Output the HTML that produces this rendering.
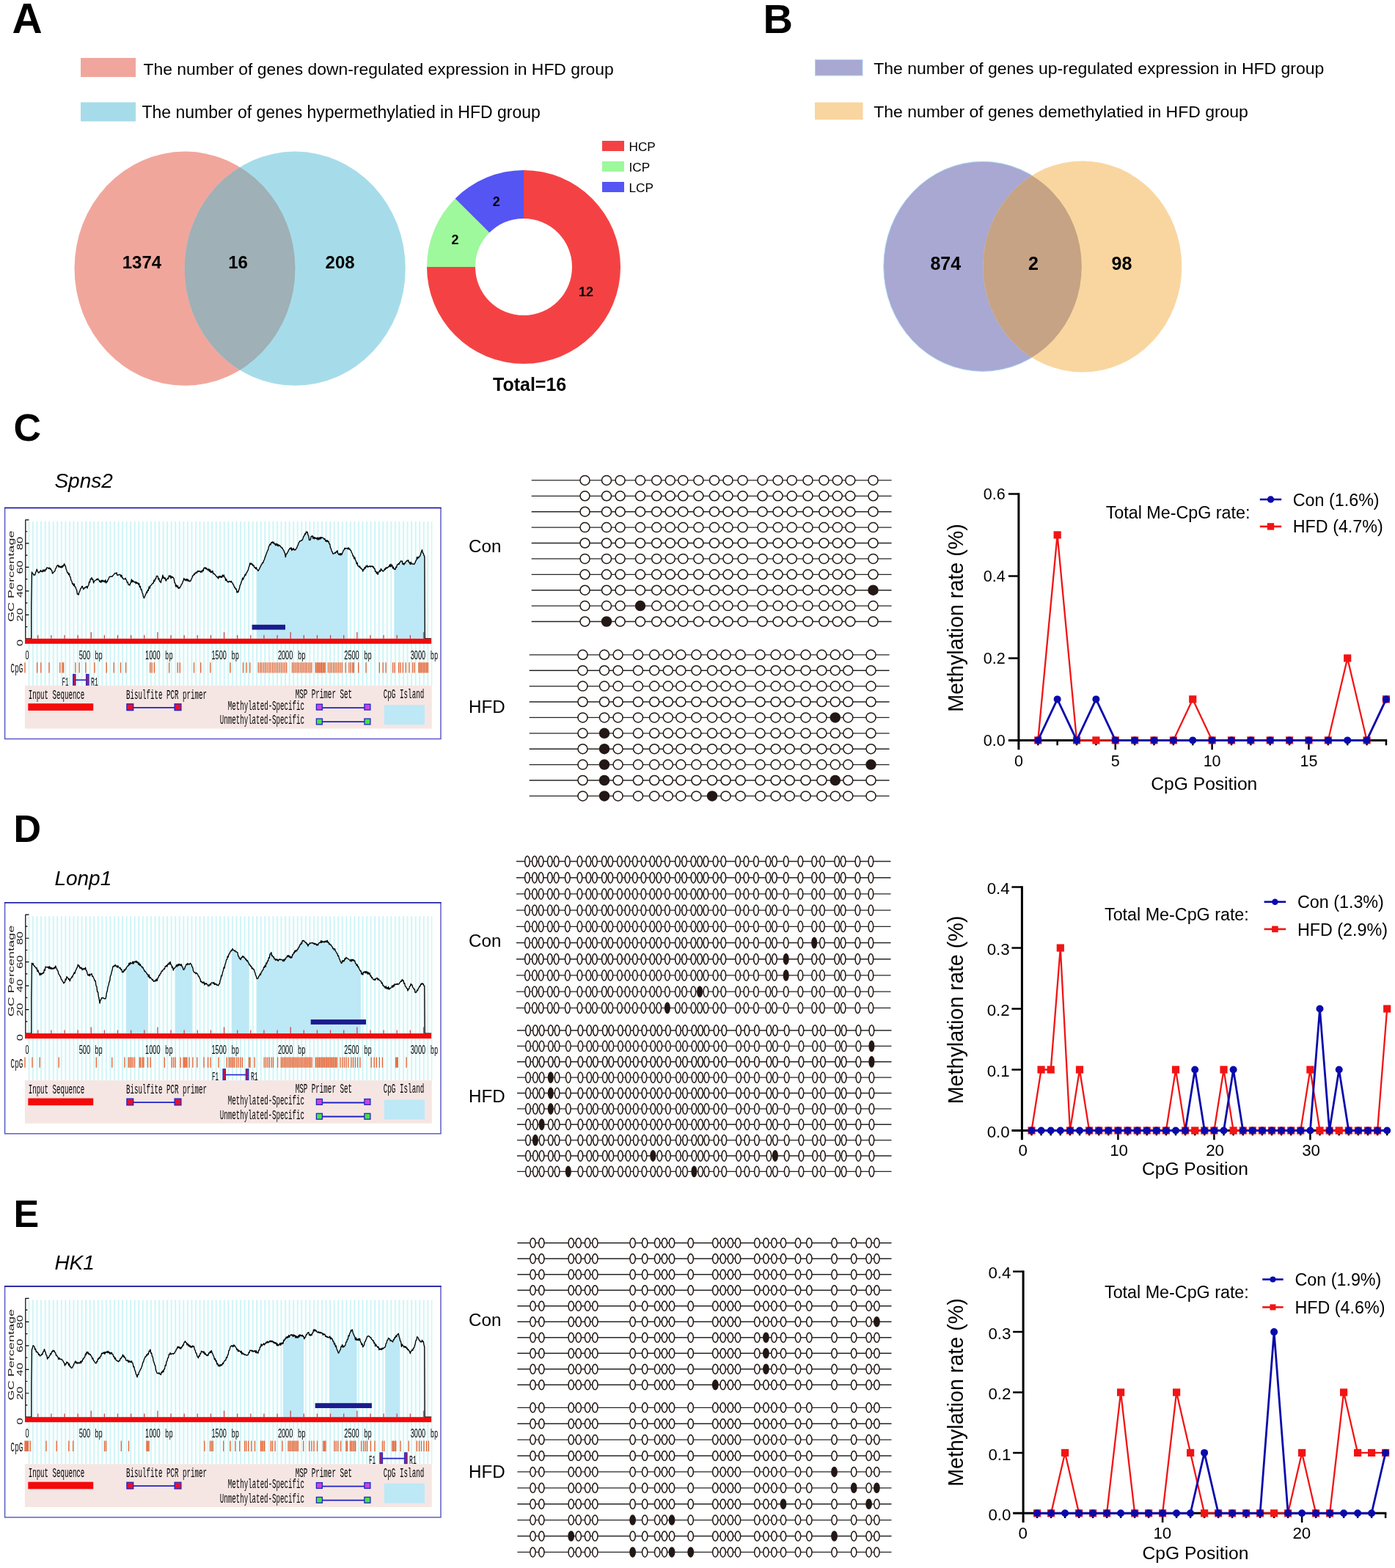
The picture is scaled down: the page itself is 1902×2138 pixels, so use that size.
<!DOCTYPE html>
<html><head><meta charset="utf-8"><title>Figure</title><style>html,body{margin:0;padding:0;background:#fff;}svg{display:block;}</style></head><body>
<svg width="1902" height="2138" viewBox="0 0 1902 2138" font-family="'Liberation Sans', Arial, sans-serif">
<rect width="1902" height="2138" fill="#fff"/>
<text x="16.6" y="44.8" font-size="57" font-weight="bold">A</text>
<rect x="110" y="79" width="75" height="26" fill="#F1A69D"/>
<rect x="110" y="139.5" width="75" height="26" fill="#A6DCE9"/>
<text x="195.5" y="101.6" font-size="22.9">The number of genes down-regulated expression in HFD group</text>
<text x="193.5" y="160.5" font-size="23">The number of genes hypermethylatied in HFD group</text>
<defs><clipPath id="clipAL"><ellipse cx="252" cy="366.2" rx="150.5" ry="159.6"/></clipPath><clipPath id="clipBL"><ellipse cx="1339.8" cy="363.3" rx="135" ry="143"/></clipPath></defs>
<ellipse cx="252" cy="366.2" rx="150.5" ry="159.6" fill="#F1A69C"/>
<ellipse cx="402.2" cy="366.2" rx="150.6" ry="159.6" fill="#A6DCE9"/>
<ellipse cx="402.2" cy="366.2" rx="150.6" ry="159.6" fill="#9FB0B6" clip-path="url(#clipAL)"/>
<text x="193.4" y="366.4" font-size="24" text-anchor="middle" font-weight="bold">1374</text>
<text x="324.6" y="366.4" font-size="24" text-anchor="middle" font-weight="bold">16</text>
<text x="463.6" y="366.4" font-size="24" text-anchor="middle" font-weight="bold">208</text>
<path d="M714,232 A132,132 0 1 1 582,364 L648,364 A66,66 0 1 0 714,298 Z" fill="#F44244"/>
<path d="M582,364 A132,132 0 0 1 620.66,270.66 L667.33,317.33 A66,66 0 0 0 648,364 Z" fill="#9EF89C"/>
<path d="M620.66,270.66 A132,132 0 0 1 714,232 L714,298 A66,66 0 0 0 667.33,317.33 Z" fill="#5555F4"/>
<text x="676.8" y="280.8" font-size="18" text-anchor="middle" font-weight="bold">2</text>
<text x="620.5" y="333.1" font-size="18" text-anchor="middle" font-weight="bold">2</text>
<text x="799" y="404.3" font-size="18" text-anchor="middle" font-weight="bold">12</text>
<rect x="821" y="192" width="30" height="14" fill="#F44244"/>
<rect x="821" y="220" width="30" height="14" fill="#9EF89C"/>
<rect x="821" y="248" width="30" height="14" fill="#5555F4"/>
<text x="857.5" y="205.8" font-size="17.2">HCP</text>
<text x="857.5" y="233.8" font-size="17.2">ICP</text>
<text x="857.5" y="261.8" font-size="17.2">LCP</text>
<text x="672" y="533.4" font-size="25" font-weight="bold">Total=16</text>
<text x="1040.6" y="44.6" font-size="56" font-weight="bold">B</text>
<rect x="1111.5" y="81.5" width="64.5" height="21.5" fill="#A8A8D2" stroke="#A9D3F0" stroke-width="1"/>
<rect x="1111" y="139.6" width="65.5" height="23.6" fill="#F9D59F"/>
<text x="1191.2" y="101.2" font-size="22.98">The number of genes up-regulated expression in HFD group</text>
<text x="1191.2" y="159.8" font-size="22.98">The number of genes demethylatied in HFD group</text>
<ellipse cx="1339.8" cy="363.3" rx="135" ry="143" fill="#A8A8D2" stroke="#A9D3F0" stroke-width="1"/>
<ellipse cx="1475.8" cy="363.4" rx="135.5" ry="144" fill="#F9D6A0"/>
<ellipse cx="1475.8" cy="363.4" rx="135.5" ry="144" fill="#C6A384" clip-path="url(#clipBL)"/>
<text x="1289.3" y="368.3" font-size="25" text-anchor="middle" font-weight="bold">874</text>
<text x="1408.9" y="368.3" font-size="25" text-anchor="middle" font-weight="bold">2</text>
<text x="1529.4" y="368.3" font-size="25" text-anchor="middle" font-weight="bold">98</text>
<defs><pattern id="stripes" x="38.4" y="0" width="5.55" height="10" patternUnits="userSpaceOnUse"><rect x="0" y="0" width="2.1" height="10" fill="#CFF5F7"/></pattern></defs>
<text x="18.5" y="601.2" font-size="52" font-weight="bold">C</text>
<text x="74.4" y="664.5" font-size="28" font-style="italic">Spns2</text>
<rect x="6.6" y="692.5" width="594.4" height="315" fill="#FFFFFF" stroke="#5252C6" stroke-width="1.4"/>
<path d="M6,692.5H601.6" stroke="#1E1EA2" stroke-width="1.6"/>
<rect x="38.4" y="711" width="551" height="224" fill="url(#stripes)"/>
<path d="M350.2,777.16 L351.2,778.04 L352.2,778.92 L353.2,777.48 L354.2,775.45 L355.2,773.43 L356.2,771.4 L357.2,769.73 L358.2,768.07 L359.2,766.4 L360.2,764 L361.2,761.29 L362.2,758.57 L363.2,755.86 L364.2,753.14 L365.2,750.43 L366.2,747.71 L367.2,745 L368.2,743.33 L369.2,741.67 L370.2,740 L371.2,740.06 L372.2,740.86 L373.2,741.66 L374.2,742.46 L375.2,743.26 L376.2,743.94 L377.2,744.14 L378.2,744.34 L379.2,744.54 L380.2,744.74 L381.2,744.94 L382.2,745.84 L383.2,747.04 L384.2,748.24 L385.2,749.44 L386.2,750.64 L387.2,752.3 L388.2,755.8 L389.2,759.3 L390.2,757.5 L391.2,755.7 L392.2,753.9 L393.2,752.1 L394.2,750.3 L395.2,748.9 L396.2,749.21 L397.2,749.51 L398.2,749.82 L399.2,750.13 L400.2,750.43 L401.2,750.74 L402.2,751.05 L403.2,750.3 L404.2,748.51 L405.2,746.72 L406.2,744.57 L407.2,742.19 L408.2,739.81 L409.2,738.87 L410.2,738.55 L411.2,738.23 L412.2,737.2 L413.2,734.53 L414.2,731.87 L415.2,730.3 L416.2,728.85 L417.2,727.39 L418.2,725.94 L419.2,728.07 L420.2,730.59 L421.2,733.86 L422.2,737.62 L423.2,735.83 L424.2,733.41 L425.2,732.52 L426.2,733.15 L427.2,733.78 L428.2,734.41 L429.2,735.04 L430.2,735.19 L431.2,735.3 L432.2,735.41 L433.2,735.51 L434.2,735.62 L435.2,735.62 L436.2,735.24 L437.2,734.86 L438.2,734.47 L439.2,734.09 L440.2,734.4 L441.2,735.4 L442.2,736.4 L443.2,737.4 L444.2,738.4 L445.2,738.63 L446.2,738.78 L447.2,738.94 L448.2,739.09 L449.2,742.33 L450.2,745.91 L451.2,749.5 L452.2,751.47 L453.2,753.44 L454.2,755.41 L455.2,755.97 L456.2,755.1 L457.2,754.23 L458.2,753.36 L459.2,752.49 L460.2,754.2 L461.2,756.2 L462.2,756.92 L463.2,756.79 L464.2,756.66 L465.2,756.53 L466.2,756.4 L467.2,754.11 L468.2,751.83 L469.2,749.54 L470.2,748.44 L471.2,748.52 L472.2,748.6 L473.2,748.67 L474.1,748.74 L474.1,870.8 L350.2,870.8 Z" fill="#BDE8F6"/>
<path d="M537.3,775.99 L538.3,777.09 L539.3,775.69 L540.3,774 L541.3,772.32 L542.3,770.64 L543.3,769.5 L544.3,768.5 L545.3,767.5 L546.3,766.5 L547.3,765.96 L548.3,767.28 L549.3,768.59 L550.3,769.91 L551.3,769.51 L552.3,768.38 L553.3,767.25 L554.3,766.12 L555.3,765.19 L556.3,766.08 L557.3,766.97 L558.3,767.86 L559.3,768.75 L560.3,769.31 L561.3,769.52 L562.3,769.73 L563.3,769.94 L564.3,770.15 L565.3,769.61 L566.3,767.29 L567.3,764.98 L568.3,762.66 L569.3,761.74 L570.3,761.17 L571.3,760.59 L572.3,760.01 L573.3,757.36 L574.3,754.19 L575.3,751.02 L576.3,753.07 L577.3,755.69 L578.3,758.32 L578.9,759.9 L578.9,870.8 L537.3,870.8 Z" fill="#BDE8F6"/>
<rect x="343.6" y="851.8" width="45.4" height="6.8" fill="#1B1B8E"/>
<path d="M51.73,866.1V870.8 M69.86,866.1V870.8 M87.99,866.1V870.8 M106.12,866.1V870.8 M124.25,862.1V870.8 M142.38,866.1V870.8 M160.51,866.1V870.8 M178.64,866.1V870.8 M196.77,866.1V870.8 M214.9,862.1V870.8 M233.03,866.1V870.8 M251.16,866.1V870.8 M269.29,866.1V870.8 M287.42,866.1V870.8 M305.55,862.1V870.8 M323.68,866.1V870.8 M341.81,866.1V870.8 M359.94,866.1V870.8 M378.07,866.1V870.8 M396.2,862.1V870.8 M414.33,866.1V870.8 M432.46,866.1V870.8 M450.59,866.1V870.8 M468.72,866.1V870.8 M486.85,862.1V870.8 M504.98,866.1V870.8 M523.11,866.1V870.8 M541.24,866.1V870.8 M559.37,866.1V870.8 M577.5,862.1V870.8" stroke="#C94848" stroke-width="1.3" fill="none"/>
<path d="M34.8,870.8 L42.7,870.8 L42.7,826 L43.4,780 L44.25,781.62 L45.1,782.25 L45.95,784.13 L46.8,783.74 L47.65,784.11 L48.5,780.76 L49.35,779.1 L50.2,776.23 L51.05,778.59 L51.9,780.13 L52.75,781.17 L53.6,780.02 L54.45,779.74 L55.3,777.58 L56.15,779.08 L57,778.68 L57.85,779.79 L58.7,776.85 L59.55,779.01 L60.4,777.07 L61.25,778.93 L62.1,776.22 L62.95,776.84 L63.8,773.95 L64.65,774.16 L65.5,774.45 L66.35,775.34 L67.2,774 L68.05,775.94 L68.9,775.07 L69.75,777.15 L70.6,777.58 L71.45,781.96 L72.3,780.97 L73.15,780.18 L74,779.11 L74.85,778.81 L75.7,775.4 L76.55,774.6 L77.4,771.63 L78.25,771.42 L79.1,770.57 L79.95,773.17 L80.8,771.43 L81.65,773.54 L82.5,772.43 L83.35,774.06 L84.2,771.66 L85.05,773.74 L85.9,770.93 L86.75,771.93 L87.6,768.66 L88.45,770.74 L89.3,771.81 L90.15,776.07 L91,777.82 L91.85,781.07 L92.7,780.64 L93.55,783.64 L94.4,782 L95.25,786.05 L96.1,787.01 L96.95,791.47 L97.8,792.35 L98.65,796.23 L99.5,795.58 L100.35,798.59 L101.2,796.06 L102.05,800.15 L102.9,800.12 L103.75,802.93 L104.6,804.79 L105.45,810.16 L106.3,809.67 L107.15,811.02 L108,807.1 L108.85,806.1 L109.7,802.84 L110.55,802.27 L111.4,799.95 L112.25,799.3 L113.1,801.92 L113.95,803.73 L114.8,801.36 L115.65,801.8 L116.5,800.46 L117.35,800.74 L118.2,799.47 L119.05,802 L119.9,799.14 L120.75,798.15 L121.6,793.27 L122.45,794.01 L123.3,789.33 L124.15,789.81 L125,787.56 L125.85,790.23 L126.7,789.84 L127.55,794.94 L128.4,792.38 L129.25,792.08 L130.1,791.14 L130.95,791.03 L131.8,789.56 L132.65,790.57 L133.5,788.83 L134.35,790.52 L135.2,791.39 L136.05,793.5 L136.9,791.93 L137.75,794.36 L138.6,791.08 L139.45,792.84 L140.3,791.13 L141.15,793.21 L142,792.07 L142.85,793.81 L143.7,790.72 L144.55,794.9 L145.4,792.99 L146.25,793.3 L147.1,790.7 L147.95,789.66 L148.8,786.98 L149.65,786.41 L150.5,786.07 L151.35,786.29 L152.2,785.97 L153.05,786.21 L153.9,784.83 L154.75,783.9 L155.6,782.82 L156.45,782.05 L157.3,781.41 L158.15,782.07 L159,780.86 L159.85,784.31 L160.7,784.09 L161.55,784.17 L162.4,783.22 L163.25,783.79 L164.1,783.68 L164.95,786.52 L165.8,784.18 L166.65,787.99 L167.5,787.88 L168.35,789.8 L169.2,789.63 L170.05,789.53 L170.9,788.29 L171.75,790.13 L172.6,791.42 L173.45,794.49 L174.3,793.87 L175.15,797.37 L176,797.37 L176.85,798.05 L177.7,795.43 L178.55,794.39 L179.4,789.88 L180.25,793.64 L181.1,791.36 L181.95,793.28 L182.8,793.06 L183.65,794.13 L184.5,793.12 L185.35,795.75 L186.2,793.62 L187.05,795.38 L187.9,794.79 L188.75,797.16 L189.6,795.45 L190.45,800.67 L191.3,799.35 L192.15,803.98 L193,803.7 L193.85,807.97 L194.7,809.8 L195.55,813.76 L196.4,815.57 L197.25,813.7 L198.1,811.5 L198.95,810.17 L199.8,806.86 L200.65,808.17 L201.5,804.23 L202.35,805.18 L203.2,799.93 L204.05,802.3 L204.9,798.84 L205.75,798.47 L206.6,797.02 L207.45,796.39 L208.3,795.02 L209.15,794.99 L210,790.86 L210.85,792.67 L211.7,789.03 L212.55,789.31 L213.4,785.39 L214.25,785.43 L215.1,785.71 L215.95,790.1 L216.8,788.57 L217.65,792.83 L218.5,792.45 L219.35,794.58 L220.2,790.1 L221.05,788.96 L221.9,784.21 L222.75,788.24 L223.6,786.98 L224.45,789.15 L225.3,787.96 L226.15,792.19 L227,790.41 L227.85,789.58 L228.7,788.31 L229.55,789.08 L230.4,784.85 L231.25,786.07 L232.1,784.77 L232.95,788.52 L233.8,785.82 L234.65,787.6 L235.5,786.68 L236.35,787.9 L237.2,789.22 L238.05,794.6 L238.9,795.1 L239.75,799.84 L240.6,797.7 L241.45,800.51 L242.3,798.75 L243.15,802.31 L244,801.05 L244.85,801.93 L245.7,800.37 L246.55,799.36 L247.4,796.65 L248.25,796.24 L249.1,793.41 L249.95,791.92 L250.8,788.51 L251.65,790.88 L252.5,790.05 L253.35,791.78 L254.2,789.38 L255.05,791.86 L255.9,789.77 L256.75,792.45 L257.6,791.17 L258.45,792.92 L259.3,792.37 L260.15,791.63 L261,789.36 L261.85,787.99 L262.7,785.03 L263.55,785.07 L264.4,782.75 L265.25,783.53 L266.1,780.95 L266.95,781.64 L267.8,780.01 L268.65,781.08 L269.5,778.35 L270.35,779.3 L271.2,778.36 L272.05,779.45 L272.9,778.91 L273.75,780.56 L274.6,778.48 L275.45,780.04 L276.3,777.09 L277.15,778.49 L278,774.48 L278.85,774.76 L279.7,773.65 L280.55,775.68 L281.4,774.37 L282.25,776.7 L283.1,775.88 L283.95,777.84 L284.8,775.77 L285.65,779.19 L286.5,776.81 L287.35,780.7 L288.2,779.04 L289.05,780.56 L289.9,778.32 L290.75,782.48 L291.6,781.83 L292.45,783.01 L293.3,783.33 L294.15,784.95 L295,785.66 L295.85,786.93 L296.7,786.79 L297.55,789.09 L298.4,785.66 L299.25,787.14 L300.1,785.47 L300.95,787.41 L301.8,785.89 L302.65,787.46 L303.5,783.9 L304.35,786.01 L305.2,783.94 L306.05,787.09 L306.9,787.39 L307.75,791.53 L308.6,789.53 L309.45,792.67 L310.3,792.87 L311.15,794.01 L312,792.71 L312.85,793.1 L313.7,792.4 L314.55,793.82 L315.4,792.41 L316.25,794.63 L317.1,794.82 L317.95,797 L318.8,798.21 L319.65,801.17 L320.5,801.04 L321.35,803.4 L322.2,803.01 L323.05,807.96 L323.9,806.23 L324.75,807.53 L325.6,804.47 L326.45,802.04 L327.3,797.92 L328.15,796.86 L329,793.77 L329.85,791.77 L330.7,788.21 L331.55,790.16 L332.4,787.14 L333.25,786.24 L334.1,783.09 L334.95,784.44 L335.8,781.13 L336.65,780.79 L337.5,778.47 L338.35,777.39 L339.2,773.45 L340.05,771.8 L340.9,767.7 L341.75,769.53 L342.6,767.86 L343.45,770.13 L344.3,769.27 L345.15,771.67 L346,770.81 L346.85,773.81 L347.7,773.57 L348.55,775.53 L349.4,773.68 L350.25,776.49 L351.1,776.86 L351.95,778.47 L352.8,777.06 L353.65,775.64 L354.5,773.71 L355.35,772.14 L356.2,770.22 L357.05,769.33 L357.9,767.23 L358.75,767.47 L359.6,764.32 L360.45,763.03 L361.3,759.86 L362.15,758.12 L363,755.4 L363.85,753.34 L364.7,750.78 L365.55,749.73 L366.4,745.35 L367.25,744.08 L368.1,741.85 L368.95,742.89 L369.8,739.6 L370.65,740.1 L371.5,738.73 L372.35,740.68 L373.2,739.14 L374.05,741.83 L374.9,741.3 L375.75,743.84 L376.6,741.07 L377.45,743.59 L378.3,741.84 L379.15,744.72 L380,742.69 L380.85,744.38 L381.7,743.83 L382.55,745.29 L383.4,746.19 L384.25,747.34 L385.1,747.04 L385.95,749.6 L386.8,750.23 L387.65,752.92 L388.5,754.31 L389.35,759.65 L390.2,755.4 L391.05,755.27 L391.9,753.2 L392.75,752.23 L393.6,749.76 L394.45,748.98 L395.3,747.34 L396.15,748.46 L397,746.57 L397.85,750.63 L398.7,748.16 L399.55,749.48 L400.4,747.6 L401.25,750.1 L402.1,749.59 L402.95,749.75 L403.8,747.76 L404.65,747.36 L405.5,744.47 L406.35,743.4 L407.2,740.48 L408.05,739.17 L408.9,737.7 L409.75,737.75 L410.6,736.92 L411.45,737.16 L412.3,735.93 L413.15,734 L414,731.18 L414.85,730.7 L415.7,727.8 L416.55,728.64 L417.4,725.04 L418.25,726.08 L419.1,725.17 L419.95,729.45 L420.8,730.98 L421.65,736.51 L422.5,736.4 L423.35,735.69 L424.2,731.38 L425.05,731.44 L425.9,730.43 L426.75,734.18 L427.6,732.03 L428.45,734.82 L429.3,732.64 L430.15,734.29 L431,733.52 L431.85,735.08 L432.7,732.93 L433.55,735.99 L434.4,733.13 L435.25,735.5 L436.1,732.59 L436.95,735.08 L437.8,732.47 L438.65,733.52 L439.5,732.97 L440.35,733.65 L441.2,733.97 L442.05,735.32 L442.9,734.57 L443.75,737.78 L444.6,736.55 L445.45,738.66 L446.3,736.68 L447.15,738.61 L448,738.05 L448.85,741.5 L449.7,741.83 L450.55,746.88 L451.4,748.11 L452.25,751.64 L453.1,752.21 L453.95,755.19 L454.8,755.06 L455.65,754.61 L456.5,753.56 L457.35,754.34 L458.2,752.17 L459.05,752.89 L459.9,750.67 L460.75,754.99 L461.6,755.53 L462.45,756.55 L463.3,754.65 L464.15,757.01 L465,754.59 L465.85,756.48 L466.7,754.21 L467.55,752.43 L468.4,750.12 L469.25,749.71 L470.1,747.1 L470.95,748.35 L471.8,747.56 L472.65,747.66 L473.5,747.42 L474.35,748.87 L475.2,746.68 L476.05,749.01 L476.9,748.43 L477.75,750.39 L478.6,750.67 L479.45,753.64 L480.3,754.62 L481.15,758.09 L482,757.92 L482.85,761.82 L483.7,759.93 L484.55,763.61 L485.4,764.85 L486.25,768.81 L487.1,767.29 L487.95,771.66 L488.8,771.87 L489.65,773.13 L490.5,771.88 L491.35,774.69 L492.2,774.4 L493.05,776.17 L493.9,776.09 L494.75,778.98 L495.6,776.07 L496.45,776.7 L497.3,773.53 L498.15,774.98 L499,771.59 L499.85,772.94 L500.7,770.96 L501.55,773.29 L502.4,772.54 L503.25,772.5 L504.1,771.75 L504.95,772.99 L505.8,772 L506.65,772.38 L507.5,771.82 L508.35,773.33 L509.2,772.62 L510.05,775.35 L510.9,775.24 L511.75,779.27 L512.6,778.84 L513.45,781.89 L514.3,780.1 L515.15,783.27 L516,780.17 L516.85,779.87 L517.7,777.85 L518.55,779.27 L519.4,775.3 L520.25,777.48 L521.1,777.34 L521.95,779.04 L522.8,778.63 L523.65,777.94 L524.5,775.58 L525.35,776.65 L526.2,773.76 L527.05,775.05 L527.9,773.76 L528.75,774.04 L529.6,772.6 L530.45,772.69 L531.3,769.83 L532.15,772.83 L533,769.16 L533.85,772.21 L534.7,770.4 L535.55,774.9 L536.4,773.19 L537.25,776.16 L538.1,775.85 L538.95,776.53 L539.8,773.24 L540.65,773.72 L541.5,769.95 L542.35,769.86 L543.2,768.58 L544.05,769.53 L544.9,766.81 L545.75,766.7 L546.6,764.8 L547.45,765.48 L548.3,765.01 L549.15,769.32 L550,768.25 L550.85,770.08 L551.7,767.73 L552.55,767.93 L553.4,765.64 L554.25,765.31 L555.1,764.08 L555.95,764.96 L556.8,763.8 L557.65,766.98 L558.5,766.83 L559.35,769.52 L560.2,766.3 L561.05,769.07 L561.9,768.54 L562.75,768.99 L563.6,768.95 L564.45,769.58 L565.3,768.55 L566.15,766.87 L567,764.41 L567.85,763.56 L568.7,759.41 L569.55,761.89 L570.4,759.58 L571.25,760.15 L572.1,758.37 L572.95,757.94 L573.8,754.38 L574.65,752.11 L575.5,749.67 L576.35,754.1 L577.2,754.34 L578.05,757.38 L578.9,758.9 L579.3,870.8 L588.1,870.8" stroke="#000" stroke-width="1.35" fill="none" stroke-linejoin="round"/>
<rect x="34" y="870.8" width="554.1" height="7" fill="#F00A0A"/>
<path d="M34.8,708.5V870.8 M34.8,708.9H39.5 M34.8,854.57h2.6 M34.8,838.34h4.6 M34.8,822.11h2.6 M34.8,805.88h4.6 M34.8,789.65h2.6 M34.8,773.42h4.6 M34.8,757.19h2.6 M34.8,740.96h4.6 M34.8,724.73h2.6" stroke="#000" stroke-width="1.2" fill="none"/>
<text transform="translate(31.4,881.05) rotate(-90)" font-size="10" fill="#1a1a1a" textLength="9.1" lengthAdjust="spacingAndGlyphs">0</text>
<text transform="translate(31.4,847.44) rotate(-90)" font-size="10" fill="#1a1a1a" textLength="18.2" lengthAdjust="spacingAndGlyphs">20</text>
<text transform="translate(31.4,814.98) rotate(-90)" font-size="10" fill="#1a1a1a" textLength="18.2" lengthAdjust="spacingAndGlyphs">40</text>
<text transform="translate(31.4,782.52) rotate(-90)" font-size="10" fill="#1a1a1a" textLength="18.2" lengthAdjust="spacingAndGlyphs">60</text>
<text transform="translate(31.4,750.06) rotate(-90)" font-size="10" fill="#1a1a1a" textLength="18.2" lengthAdjust="spacingAndGlyphs">80</text>
<text transform="translate(19.4,848) rotate(-90)" font-size="10.2" fill="#1a1a1a" textLength="124.5" lengthAdjust="spacingAndGlyphs">GC Percentage</text>
<text x="34.4" y="899" font-size="15.6" textLength="5" lengthAdjust="spacingAndGlyphs">0</text>
<text x="107.7" y="899" font-size="15.6" textLength="15.3" lengthAdjust="spacingAndGlyphs">500</text>
<text x="129.3" y="899" font-size="15.6" font-family="Liberation Mono, monospace" textLength="10.6" lengthAdjust="spacingAndGlyphs">bp</text>
<text x="198.1" y="899" font-size="15.6" textLength="20.4" lengthAdjust="spacingAndGlyphs">1000</text>
<text x="225.1" y="899" font-size="15.6" font-family="Liberation Mono, monospace" textLength="10.6" lengthAdjust="spacingAndGlyphs">bp</text>
<text x="288.5" y="899" font-size="15.6" textLength="20.4" lengthAdjust="spacingAndGlyphs">1500</text>
<text x="315.5" y="899" font-size="15.6" font-family="Liberation Mono, monospace" textLength="10.6" lengthAdjust="spacingAndGlyphs">bp</text>
<text x="378.9" y="899" font-size="15.6" textLength="20.4" lengthAdjust="spacingAndGlyphs">2000</text>
<text x="405.9" y="899" font-size="15.6" font-family="Liberation Mono, monospace" textLength="10.6" lengthAdjust="spacingAndGlyphs">bp</text>
<text x="469.3" y="899" font-size="15.6" textLength="20.4" lengthAdjust="spacingAndGlyphs">2500</text>
<text x="496.3" y="899" font-size="15.6" font-family="Liberation Mono, monospace" textLength="10.6" lengthAdjust="spacingAndGlyphs">bp</text>
<text x="559.7" y="899" font-size="15.6" textLength="20.4" lengthAdjust="spacingAndGlyphs">3000</text>
<text x="586.7" y="899" font-size="15.6" font-family="Liberation Mono, monospace" textLength="10.6" lengthAdjust="spacingAndGlyphs">bp</text>
<text x="14.6" y="917.3" font-size="18.4" font-family="Liberation Mono, monospace" textLength="16.6" lengthAdjust="spacingAndGlyphs">CpG</text>
<path d="M34,903.2V917.5 M50.7,903.2V917.5 M55.8,903.2V917.5 M67,903.2V917.5 M81.8,903.2V917.5 M85,903.2V917.5 M86.6,903.2V917.5 M102.9,903.2V917.5 M108.2,903.2V917.5 M116.9,903.2V917.5 M128.9,903.2V917.5 M145.2,903.2V917.5 M155.2,903.2V917.5 M164.5,903.2V917.5 M171.6,903.2V917.5 M204.7,903.2V917.5 M207.1,903.2V917.5 M210.3,903.2V917.5 M230.7,903.2V917.5 M242.2,903.2V917.5 M245.3,903.2V917.5 M264.5,903.2V917.5 M273.7,903.2V917.5 M286.8,903.2V917.5 M313.9,903.2V917.5 M314,903.2V917.5 M331.5,903.2V917.5 M336,903.2V917.5 M340.8,903.2V917.5 M352.3,903.2V917.5 M354.7,903.2V917.5 M357.1,903.2V917.5 M359.5,903.2V917.5 M361.9,903.2V917.5 M364.3,903.2V917.5 M366.7,903.2V917.5 M369.1,903.2V917.5 M371.5,903.2V917.5 M373.9,903.2V917.5 M376.3,903.2V917.5 M378.7,903.2V917.5 M381.1,903.2V917.5 M383.5,903.2V917.5 M385.9,903.2V917.5 M388.3,903.2V917.5 M390.7,903.2V917.5 M398.5,903.2V917.5 M400.7,903.2V917.5 M402.9,903.2V917.5 M405.1,903.2V917.5 M407.3,903.2V917.5 M409.5,903.2V917.5 M411.7,903.2V917.5 M413.9,903.2V917.5 M416.1,903.2V917.5 M418.3,903.2V917.5 M420.5,903.2V917.5 M422.7,903.2V917.5 M424.9,903.2V917.5 M430.4,903.2V917.5 M432,903.2V917.5 M433.6,903.2V917.5 M435.2,903.2V917.5 M436.8,903.2V917.5 M438.4,903.2V917.5 M440,903.2V917.5 M441.6,903.2V917.5 M443.2,903.2V917.5 M447.5,903.2V917.5 M449.85,903.2V917.5 M452.2,903.2V917.5 M454.55,903.2V917.5 M456.9,903.2V917.5 M459.25,903.2V917.5 M461.6,903.2V917.5 M463.95,903.2V917.5 M466.3,903.2V917.5 M471.1,903.2V917.5 M475.9,903.2V917.5 M478.3,903.2V917.5 M480.7,903.2V917.5 M482.3,903.2V917.5 M488.7,903.2V917.5 M499,903.2V917.5 M517.4,903.2V917.5 M522.2,903.2V917.5 M526.1,903.2V917.5 M535.7,903.2V917.5 M538.1,903.2V917.5 M543.7,903.2V917.5 M546.1,903.2V917.5 M549.3,903.2V917.5 M553.3,903.2V917.5 M558,903.2V917.5 M562.8,903.2V917.5 M565.2,903.2V917.5 M570.8,903.2V917.5 M572.6,903.2V917.5 M574.4,903.2V917.5 M576.2,903.2V917.5 M578,903.2V917.5 M579.8,903.2V917.5 M581.6,903.2V917.5 M583.4,903.2V917.5" stroke="#E5602E" stroke-width="1.3" fill="none"/>
<text x="84.5" y="934.5" font-size="15.6" font-family="Liberation Mono, monospace" textLength="9" lengthAdjust="spacingAndGlyphs">F1</text>
<text x="124.1" y="934.5" font-size="15.6" font-family="Liberation Mono, monospace" textLength="9.6" lengthAdjust="spacingAndGlyphs">R1</text>
<path d="M102,927.2H118.6" stroke="#2222D0" stroke-width="1.6"/>
<rect x="99.6" y="919.5" width="3.4" height="15" fill="#C8143C" stroke="#2828C8" stroke-width="1.2"/>
<rect x="117.6" y="919.5" width="3.4" height="15" fill="#C8143C" stroke="#2828C8" stroke-width="1.2"/>
<rect x="33.9" y="934.8" width="554.9" height="58.7" fill="#F5E6E4"/>
<text x="38.7" y="952.7" font-size="18.4" font-family="Liberation Mono, monospace" textLength="76.6" lengthAdjust="spacingAndGlyphs">Input Sequence</text>
<rect x="38.3" y="959.2" width="88.9" height="9.7" fill="#F40A0A"/>
<text x="172" y="952.7" font-size="18.4" font-family="Liberation Mono, monospace" textLength="110" lengthAdjust="spacingAndGlyphs">Bisulfite PCR primer</text>
<path d="M180,964.8H240" stroke="#2020C8" stroke-width="1.8"/>
<rect x="172.9" y="959.8" width="8.8" height="8.8" fill="#E8102C" stroke="#2424C4" stroke-width="1.3"/>
<rect x="238.1" y="959.8" width="8.8" height="8.8" fill="#E8102C" stroke="#2424C4" stroke-width="1.3"/>
<text x="402.7" y="952.1" font-size="18.4" font-family="Liberation Mono, monospace" textLength="77.3" lengthAdjust="spacingAndGlyphs">MSP Primer Set</text>
<text x="522.7" y="952.1" font-size="18.4" font-family="Liberation Mono, monospace" textLength="55.7" lengthAdjust="spacingAndGlyphs">CpG Island</text>
<text x="310.8" y="968" font-size="18.4" font-family="Liberation Mono, monospace" textLength="104.2" lengthAdjust="spacingAndGlyphs">Methylated-Specific</text>
<text x="299.7" y="987.3" font-size="18.4" font-family="Liberation Mono, monospace" textLength="115.3" lengthAdjust="spacingAndGlyphs">Unmethylated-Specific</text>
<path d="M438,965.2H498 M438,984.2H498" stroke="#2020C8" stroke-width="1.8"/>
<rect x="431.4" y="960.2" width="8" height="7.8" fill="#CC44DD" stroke="#2424C4" stroke-width="1.3"/>
<rect x="431.4" y="980" width="8" height="7.8" fill="#44E444" stroke="#2424C4" stroke-width="1.3"/>
<rect x="496.9" y="960.2" width="8" height="7.8" fill="#CC44DD" stroke="#2424C4" stroke-width="1.3"/>
<rect x="496.9" y="980" width="8" height="7.8" fill="#44E444" stroke="#2424C4" stroke-width="1.3"/>
<rect x="523.8" y="961.3" width="55.2" height="26.8" fill="#BDE8F6"/>
<path d="M724.7,654.9H1215.6" stroke="#262626" stroke-width="1.35"/>
<g stroke="#231815" stroke-width="1.5"><circle cx="797.5" cy="654.9" r="6.5" fill="#fff"/><circle cx="827" cy="654.9" r="6.5" fill="#fff"/><circle cx="845.6" cy="654.9" r="6.5" fill="#fff"/><circle cx="873" cy="654.9" r="6.5" fill="#fff"/><circle cx="895.2" cy="654.9" r="6.5" fill="#fff"/><circle cx="913.8" cy="654.9" r="6.5" fill="#fff"/><circle cx="931.3" cy="654.9" r="6.5" fill="#fff"/><circle cx="952.4" cy="654.9" r="6.5" fill="#fff"/><circle cx="974" cy="654.9" r="6.5" fill="#fff"/><circle cx="992.5" cy="654.9" r="6.5" fill="#fff"/><circle cx="1012.6" cy="654.9" r="6.5" fill="#fff"/><circle cx="1039.5" cy="654.9" r="6.5" fill="#fff"/><circle cx="1060.6" cy="654.9" r="6.5" fill="#fff"/><circle cx="1079.7" cy="654.9" r="6.5" fill="#fff"/><circle cx="1101.5" cy="654.9" r="6.5" fill="#fff"/><circle cx="1123.4" cy="654.9" r="6.5" fill="#fff"/><circle cx="1141.8" cy="654.9" r="6.5" fill="#fff"/><circle cx="1159.3" cy="654.9" r="6.5" fill="#fff"/><circle cx="1190.5" cy="654.9" r="6.5" fill="#fff"/></g>
<path d="M724.7,676.3H1215.6" stroke="#262626" stroke-width="1.35"/>
<g stroke="#231815" stroke-width="1.5"><circle cx="797.5" cy="676.3" r="6.5" fill="#fff"/><circle cx="827" cy="676.3" r="6.5" fill="#fff"/><circle cx="845.6" cy="676.3" r="6.5" fill="#fff"/><circle cx="873" cy="676.3" r="6.5" fill="#fff"/><circle cx="895.2" cy="676.3" r="6.5" fill="#fff"/><circle cx="913.8" cy="676.3" r="6.5" fill="#fff"/><circle cx="931.3" cy="676.3" r="6.5" fill="#fff"/><circle cx="952.4" cy="676.3" r="6.5" fill="#fff"/><circle cx="974" cy="676.3" r="6.5" fill="#fff"/><circle cx="992.5" cy="676.3" r="6.5" fill="#fff"/><circle cx="1012.6" cy="676.3" r="6.5" fill="#fff"/><circle cx="1039.5" cy="676.3" r="6.5" fill="#fff"/><circle cx="1060.6" cy="676.3" r="6.5" fill="#fff"/><circle cx="1079.7" cy="676.3" r="6.5" fill="#fff"/><circle cx="1101.5" cy="676.3" r="6.5" fill="#fff"/><circle cx="1123.4" cy="676.3" r="6.5" fill="#fff"/><circle cx="1141.8" cy="676.3" r="6.5" fill="#fff"/><circle cx="1159.3" cy="676.3" r="6.5" fill="#fff"/><circle cx="1190.5" cy="676.3" r="6.5" fill="#fff"/></g>
<path d="M724.7,697.7H1215.6" stroke="#262626" stroke-width="1.35"/>
<g stroke="#231815" stroke-width="1.5"><circle cx="797.5" cy="697.7" r="6.5" fill="#fff"/><circle cx="827" cy="697.7" r="6.5" fill="#fff"/><circle cx="845.6" cy="697.7" r="6.5" fill="#fff"/><circle cx="873" cy="697.7" r="6.5" fill="#fff"/><circle cx="895.2" cy="697.7" r="6.5" fill="#fff"/><circle cx="913.8" cy="697.7" r="6.5" fill="#fff"/><circle cx="931.3" cy="697.7" r="6.5" fill="#fff"/><circle cx="952.4" cy="697.7" r="6.5" fill="#fff"/><circle cx="974" cy="697.7" r="6.5" fill="#fff"/><circle cx="992.5" cy="697.7" r="6.5" fill="#fff"/><circle cx="1012.6" cy="697.7" r="6.5" fill="#fff"/><circle cx="1039.5" cy="697.7" r="6.5" fill="#fff"/><circle cx="1060.6" cy="697.7" r="6.5" fill="#fff"/><circle cx="1079.7" cy="697.7" r="6.5" fill="#fff"/><circle cx="1101.5" cy="697.7" r="6.5" fill="#fff"/><circle cx="1123.4" cy="697.7" r="6.5" fill="#fff"/><circle cx="1141.8" cy="697.7" r="6.5" fill="#fff"/><circle cx="1159.3" cy="697.7" r="6.5" fill="#fff"/><circle cx="1190.5" cy="697.7" r="6.5" fill="#fff"/></g>
<path d="M724.7,719.1H1215.6" stroke="#262626" stroke-width="1.35"/>
<g stroke="#231815" stroke-width="1.5"><circle cx="797.5" cy="719.1" r="6.5" fill="#fff"/><circle cx="827" cy="719.1" r="6.5" fill="#fff"/><circle cx="845.6" cy="719.1" r="6.5" fill="#fff"/><circle cx="873" cy="719.1" r="6.5" fill="#fff"/><circle cx="895.2" cy="719.1" r="6.5" fill="#fff"/><circle cx="913.8" cy="719.1" r="6.5" fill="#fff"/><circle cx="931.3" cy="719.1" r="6.5" fill="#fff"/><circle cx="952.4" cy="719.1" r="6.5" fill="#fff"/><circle cx="974" cy="719.1" r="6.5" fill="#fff"/><circle cx="992.5" cy="719.1" r="6.5" fill="#fff"/><circle cx="1012.6" cy="719.1" r="6.5" fill="#fff"/><circle cx="1039.5" cy="719.1" r="6.5" fill="#fff"/><circle cx="1060.6" cy="719.1" r="6.5" fill="#fff"/><circle cx="1079.7" cy="719.1" r="6.5" fill="#fff"/><circle cx="1101.5" cy="719.1" r="6.5" fill="#fff"/><circle cx="1123.4" cy="719.1" r="6.5" fill="#fff"/><circle cx="1141.8" cy="719.1" r="6.5" fill="#fff"/><circle cx="1159.3" cy="719.1" r="6.5" fill="#fff"/><circle cx="1190.5" cy="719.1" r="6.5" fill="#fff"/></g>
<path d="M724.7,740.5H1215.6" stroke="#262626" stroke-width="1.35"/>
<g stroke="#231815" stroke-width="1.5"><circle cx="797.5" cy="740.5" r="6.5" fill="#fff"/><circle cx="827" cy="740.5" r="6.5" fill="#fff"/><circle cx="845.6" cy="740.5" r="6.5" fill="#fff"/><circle cx="873" cy="740.5" r="6.5" fill="#fff"/><circle cx="895.2" cy="740.5" r="6.5" fill="#fff"/><circle cx="913.8" cy="740.5" r="6.5" fill="#fff"/><circle cx="931.3" cy="740.5" r="6.5" fill="#fff"/><circle cx="952.4" cy="740.5" r="6.5" fill="#fff"/><circle cx="974" cy="740.5" r="6.5" fill="#fff"/><circle cx="992.5" cy="740.5" r="6.5" fill="#fff"/><circle cx="1012.6" cy="740.5" r="6.5" fill="#fff"/><circle cx="1039.5" cy="740.5" r="6.5" fill="#fff"/><circle cx="1060.6" cy="740.5" r="6.5" fill="#fff"/><circle cx="1079.7" cy="740.5" r="6.5" fill="#fff"/><circle cx="1101.5" cy="740.5" r="6.5" fill="#fff"/><circle cx="1123.4" cy="740.5" r="6.5" fill="#fff"/><circle cx="1141.8" cy="740.5" r="6.5" fill="#fff"/><circle cx="1159.3" cy="740.5" r="6.5" fill="#fff"/><circle cx="1190.5" cy="740.5" r="6.5" fill="#fff"/></g>
<path d="M724.7,761.9H1215.6" stroke="#262626" stroke-width="1.35"/>
<g stroke="#231815" stroke-width="1.5"><circle cx="797.5" cy="761.9" r="6.5" fill="#fff"/><circle cx="827" cy="761.9" r="6.5" fill="#fff"/><circle cx="845.6" cy="761.9" r="6.5" fill="#fff"/><circle cx="873" cy="761.9" r="6.5" fill="#fff"/><circle cx="895.2" cy="761.9" r="6.5" fill="#fff"/><circle cx="913.8" cy="761.9" r="6.5" fill="#fff"/><circle cx="931.3" cy="761.9" r="6.5" fill="#fff"/><circle cx="952.4" cy="761.9" r="6.5" fill="#fff"/><circle cx="974" cy="761.9" r="6.5" fill="#fff"/><circle cx="992.5" cy="761.9" r="6.5" fill="#fff"/><circle cx="1012.6" cy="761.9" r="6.5" fill="#fff"/><circle cx="1039.5" cy="761.9" r="6.5" fill="#fff"/><circle cx="1060.6" cy="761.9" r="6.5" fill="#fff"/><circle cx="1079.7" cy="761.9" r="6.5" fill="#fff"/><circle cx="1101.5" cy="761.9" r="6.5" fill="#fff"/><circle cx="1123.4" cy="761.9" r="6.5" fill="#fff"/><circle cx="1141.8" cy="761.9" r="6.5" fill="#fff"/><circle cx="1159.3" cy="761.9" r="6.5" fill="#fff"/><circle cx="1190.5" cy="761.9" r="6.5" fill="#fff"/></g>
<path d="M724.7,783.3H1215.6" stroke="#262626" stroke-width="1.35"/>
<g stroke="#231815" stroke-width="1.5"><circle cx="797.5" cy="783.3" r="6.5" fill="#fff"/><circle cx="827" cy="783.3" r="6.5" fill="#fff"/><circle cx="845.6" cy="783.3" r="6.5" fill="#fff"/><circle cx="873" cy="783.3" r="6.5" fill="#fff"/><circle cx="895.2" cy="783.3" r="6.5" fill="#fff"/><circle cx="913.8" cy="783.3" r="6.5" fill="#fff"/><circle cx="931.3" cy="783.3" r="6.5" fill="#fff"/><circle cx="952.4" cy="783.3" r="6.5" fill="#fff"/><circle cx="974" cy="783.3" r="6.5" fill="#fff"/><circle cx="992.5" cy="783.3" r="6.5" fill="#fff"/><circle cx="1012.6" cy="783.3" r="6.5" fill="#fff"/><circle cx="1039.5" cy="783.3" r="6.5" fill="#fff"/><circle cx="1060.6" cy="783.3" r="6.5" fill="#fff"/><circle cx="1079.7" cy="783.3" r="6.5" fill="#fff"/><circle cx="1101.5" cy="783.3" r="6.5" fill="#fff"/><circle cx="1123.4" cy="783.3" r="6.5" fill="#fff"/><circle cx="1141.8" cy="783.3" r="6.5" fill="#fff"/><circle cx="1159.3" cy="783.3" r="6.5" fill="#fff"/><circle cx="1190.5" cy="783.3" r="6.5" fill="#fff"/></g>
<path d="M724.7,804.7H1215.6" stroke="#262626" stroke-width="1.35"/>
<g stroke="#231815" stroke-width="1.5"><circle cx="797.5" cy="804.7" r="6.5" fill="#fff"/><circle cx="827" cy="804.7" r="6.5" fill="#fff"/><circle cx="845.6" cy="804.7" r="6.5" fill="#fff"/><circle cx="873" cy="804.7" r="6.5" fill="#fff"/><circle cx="895.2" cy="804.7" r="6.5" fill="#fff"/><circle cx="913.8" cy="804.7" r="6.5" fill="#fff"/><circle cx="931.3" cy="804.7" r="6.5" fill="#fff"/><circle cx="952.4" cy="804.7" r="6.5" fill="#fff"/><circle cx="974" cy="804.7" r="6.5" fill="#fff"/><circle cx="992.5" cy="804.7" r="6.5" fill="#fff"/><circle cx="1012.6" cy="804.7" r="6.5" fill="#fff"/><circle cx="1039.5" cy="804.7" r="6.5" fill="#fff"/><circle cx="1060.6" cy="804.7" r="6.5" fill="#fff"/><circle cx="1079.7" cy="804.7" r="6.5" fill="#fff"/><circle cx="1101.5" cy="804.7" r="6.5" fill="#fff"/><circle cx="1123.4" cy="804.7" r="6.5" fill="#fff"/><circle cx="1141.8" cy="804.7" r="6.5" fill="#fff"/><circle cx="1159.3" cy="804.7" r="6.5" fill="#fff"/><circle cx="1190.5" cy="804.7" r="6.5" fill="#231815"/></g>
<path d="M724.7,826.1H1215.6" stroke="#262626" stroke-width="1.35"/>
<g stroke="#231815" stroke-width="1.5"><circle cx="797.5" cy="826.1" r="6.5" fill="#fff"/><circle cx="827" cy="826.1" r="6.5" fill="#fff"/><circle cx="845.6" cy="826.1" r="6.5" fill="#fff"/><circle cx="873" cy="826.1" r="6.5" fill="#231815"/><circle cx="895.2" cy="826.1" r="6.5" fill="#fff"/><circle cx="913.8" cy="826.1" r="6.5" fill="#fff"/><circle cx="931.3" cy="826.1" r="6.5" fill="#fff"/><circle cx="952.4" cy="826.1" r="6.5" fill="#fff"/><circle cx="974" cy="826.1" r="6.5" fill="#fff"/><circle cx="992.5" cy="826.1" r="6.5" fill="#fff"/><circle cx="1012.6" cy="826.1" r="6.5" fill="#fff"/><circle cx="1039.5" cy="826.1" r="6.5" fill="#fff"/><circle cx="1060.6" cy="826.1" r="6.5" fill="#fff"/><circle cx="1079.7" cy="826.1" r="6.5" fill="#fff"/><circle cx="1101.5" cy="826.1" r="6.5" fill="#fff"/><circle cx="1123.4" cy="826.1" r="6.5" fill="#fff"/><circle cx="1141.8" cy="826.1" r="6.5" fill="#fff"/><circle cx="1159.3" cy="826.1" r="6.5" fill="#fff"/><circle cx="1190.5" cy="826.1" r="6.5" fill="#fff"/></g>
<path d="M724.7,847.5H1215.6" stroke="#262626" stroke-width="1.35"/>
<g stroke="#231815" stroke-width="1.5"><circle cx="797.5" cy="847.5" r="6.5" fill="#fff"/><circle cx="827" cy="847.5" r="6.5" fill="#231815"/><circle cx="845.6" cy="847.5" r="6.5" fill="#fff"/><circle cx="873" cy="847.5" r="6.5" fill="#fff"/><circle cx="895.2" cy="847.5" r="6.5" fill="#fff"/><circle cx="913.8" cy="847.5" r="6.5" fill="#fff"/><circle cx="931.3" cy="847.5" r="6.5" fill="#fff"/><circle cx="952.4" cy="847.5" r="6.5" fill="#fff"/><circle cx="974" cy="847.5" r="6.5" fill="#fff"/><circle cx="992.5" cy="847.5" r="6.5" fill="#fff"/><circle cx="1012.6" cy="847.5" r="6.5" fill="#fff"/><circle cx="1039.5" cy="847.5" r="6.5" fill="#fff"/><circle cx="1060.6" cy="847.5" r="6.5" fill="#fff"/><circle cx="1079.7" cy="847.5" r="6.5" fill="#fff"/><circle cx="1101.5" cy="847.5" r="6.5" fill="#fff"/><circle cx="1123.4" cy="847.5" r="6.5" fill="#fff"/><circle cx="1141.8" cy="847.5" r="6.5" fill="#fff"/><circle cx="1159.3" cy="847.5" r="6.5" fill="#fff"/><circle cx="1190.5" cy="847.5" r="6.5" fill="#fff"/></g>
<text x="639" y="753.2" font-size="24.2">Con</text>
<path d="M721.7,892.8H1212.6" stroke="#262626" stroke-width="1.35"/>
<g stroke="#231815" stroke-width="1.5"><circle cx="794.5" cy="892.8" r="6.5" fill="#fff"/><circle cx="824" cy="892.8" r="6.5" fill="#fff"/><circle cx="842.6" cy="892.8" r="6.5" fill="#fff"/><circle cx="870" cy="892.8" r="6.5" fill="#fff"/><circle cx="892.2" cy="892.8" r="6.5" fill="#fff"/><circle cx="910.8" cy="892.8" r="6.5" fill="#fff"/><circle cx="928.3" cy="892.8" r="6.5" fill="#fff"/><circle cx="949.4" cy="892.8" r="6.5" fill="#fff"/><circle cx="971" cy="892.8" r="6.5" fill="#fff"/><circle cx="989.5" cy="892.8" r="6.5" fill="#fff"/><circle cx="1009.6" cy="892.8" r="6.5" fill="#fff"/><circle cx="1036.5" cy="892.8" r="6.5" fill="#fff"/><circle cx="1057.6" cy="892.8" r="6.5" fill="#fff"/><circle cx="1076.7" cy="892.8" r="6.5" fill="#fff"/><circle cx="1098.5" cy="892.8" r="6.5" fill="#fff"/><circle cx="1120.4" cy="892.8" r="6.5" fill="#fff"/><circle cx="1138.8" cy="892.8" r="6.5" fill="#fff"/><circle cx="1156.3" cy="892.8" r="6.5" fill="#fff"/><circle cx="1187.5" cy="892.8" r="6.5" fill="#fff"/></g>
<path d="M721.7,914.2H1212.6" stroke="#262626" stroke-width="1.35"/>
<g stroke="#231815" stroke-width="1.5"><circle cx="794.5" cy="914.2" r="6.5" fill="#fff"/><circle cx="824" cy="914.2" r="6.5" fill="#fff"/><circle cx="842.6" cy="914.2" r="6.5" fill="#fff"/><circle cx="870" cy="914.2" r="6.5" fill="#fff"/><circle cx="892.2" cy="914.2" r="6.5" fill="#fff"/><circle cx="910.8" cy="914.2" r="6.5" fill="#fff"/><circle cx="928.3" cy="914.2" r="6.5" fill="#fff"/><circle cx="949.4" cy="914.2" r="6.5" fill="#fff"/><circle cx="971" cy="914.2" r="6.5" fill="#fff"/><circle cx="989.5" cy="914.2" r="6.5" fill="#fff"/><circle cx="1009.6" cy="914.2" r="6.5" fill="#fff"/><circle cx="1036.5" cy="914.2" r="6.5" fill="#fff"/><circle cx="1057.6" cy="914.2" r="6.5" fill="#fff"/><circle cx="1076.7" cy="914.2" r="6.5" fill="#fff"/><circle cx="1098.5" cy="914.2" r="6.5" fill="#fff"/><circle cx="1120.4" cy="914.2" r="6.5" fill="#fff"/><circle cx="1138.8" cy="914.2" r="6.5" fill="#fff"/><circle cx="1156.3" cy="914.2" r="6.5" fill="#fff"/><circle cx="1187.5" cy="914.2" r="6.5" fill="#fff"/></g>
<path d="M721.7,935.6H1212.6" stroke="#262626" stroke-width="1.35"/>
<g stroke="#231815" stroke-width="1.5"><circle cx="794.5" cy="935.6" r="6.5" fill="#fff"/><circle cx="824" cy="935.6" r="6.5" fill="#fff"/><circle cx="842.6" cy="935.6" r="6.5" fill="#fff"/><circle cx="870" cy="935.6" r="6.5" fill="#fff"/><circle cx="892.2" cy="935.6" r="6.5" fill="#fff"/><circle cx="910.8" cy="935.6" r="6.5" fill="#fff"/><circle cx="928.3" cy="935.6" r="6.5" fill="#fff"/><circle cx="949.4" cy="935.6" r="6.5" fill="#fff"/><circle cx="971" cy="935.6" r="6.5" fill="#fff"/><circle cx="989.5" cy="935.6" r="6.5" fill="#fff"/><circle cx="1009.6" cy="935.6" r="6.5" fill="#fff"/><circle cx="1036.5" cy="935.6" r="6.5" fill="#fff"/><circle cx="1057.6" cy="935.6" r="6.5" fill="#fff"/><circle cx="1076.7" cy="935.6" r="6.5" fill="#fff"/><circle cx="1098.5" cy="935.6" r="6.5" fill="#fff"/><circle cx="1120.4" cy="935.6" r="6.5" fill="#fff"/><circle cx="1138.8" cy="935.6" r="6.5" fill="#fff"/><circle cx="1156.3" cy="935.6" r="6.5" fill="#fff"/><circle cx="1187.5" cy="935.6" r="6.5" fill="#fff"/></g>
<path d="M721.7,957H1212.6" stroke="#262626" stroke-width="1.35"/>
<g stroke="#231815" stroke-width="1.5"><circle cx="794.5" cy="957" r="6.5" fill="#fff"/><circle cx="824" cy="957" r="6.5" fill="#fff"/><circle cx="842.6" cy="957" r="6.5" fill="#fff"/><circle cx="870" cy="957" r="6.5" fill="#fff"/><circle cx="892.2" cy="957" r="6.5" fill="#fff"/><circle cx="910.8" cy="957" r="6.5" fill="#fff"/><circle cx="928.3" cy="957" r="6.5" fill="#fff"/><circle cx="949.4" cy="957" r="6.5" fill="#fff"/><circle cx="971" cy="957" r="6.5" fill="#fff"/><circle cx="989.5" cy="957" r="6.5" fill="#fff"/><circle cx="1009.6" cy="957" r="6.5" fill="#fff"/><circle cx="1036.5" cy="957" r="6.5" fill="#fff"/><circle cx="1057.6" cy="957" r="6.5" fill="#fff"/><circle cx="1076.7" cy="957" r="6.5" fill="#fff"/><circle cx="1098.5" cy="957" r="6.5" fill="#fff"/><circle cx="1120.4" cy="957" r="6.5" fill="#fff"/><circle cx="1138.8" cy="957" r="6.5" fill="#fff"/><circle cx="1156.3" cy="957" r="6.5" fill="#fff"/><circle cx="1187.5" cy="957" r="6.5" fill="#fff"/></g>
<path d="M721.7,978.4H1212.6" stroke="#262626" stroke-width="1.35"/>
<g stroke="#231815" stroke-width="1.5"><circle cx="794.5" cy="978.4" r="6.5" fill="#fff"/><circle cx="824" cy="978.4" r="6.5" fill="#fff"/><circle cx="842.6" cy="978.4" r="6.5" fill="#fff"/><circle cx="870" cy="978.4" r="6.5" fill="#fff"/><circle cx="892.2" cy="978.4" r="6.5" fill="#fff"/><circle cx="910.8" cy="978.4" r="6.5" fill="#fff"/><circle cx="928.3" cy="978.4" r="6.5" fill="#fff"/><circle cx="949.4" cy="978.4" r="6.5" fill="#fff"/><circle cx="971" cy="978.4" r="6.5" fill="#fff"/><circle cx="989.5" cy="978.4" r="6.5" fill="#fff"/><circle cx="1009.6" cy="978.4" r="6.5" fill="#fff"/><circle cx="1036.5" cy="978.4" r="6.5" fill="#fff"/><circle cx="1057.6" cy="978.4" r="6.5" fill="#fff"/><circle cx="1076.7" cy="978.4" r="6.5" fill="#fff"/><circle cx="1098.5" cy="978.4" r="6.5" fill="#fff"/><circle cx="1120.4" cy="978.4" r="6.5" fill="#fff"/><circle cx="1138.8" cy="978.4" r="6.5" fill="#231815"/><circle cx="1156.3" cy="978.4" r="6.5" fill="#fff"/><circle cx="1187.5" cy="978.4" r="6.5" fill="#fff"/></g>
<path d="M721.7,999.8H1212.6" stroke="#262626" stroke-width="1.35"/>
<g stroke="#231815" stroke-width="1.5"><circle cx="794.5" cy="999.8" r="6.5" fill="#fff"/><circle cx="824" cy="999.8" r="6.5" fill="#231815"/><circle cx="842.6" cy="999.8" r="6.5" fill="#fff"/><circle cx="870" cy="999.8" r="6.5" fill="#fff"/><circle cx="892.2" cy="999.8" r="6.5" fill="#fff"/><circle cx="910.8" cy="999.8" r="6.5" fill="#fff"/><circle cx="928.3" cy="999.8" r="6.5" fill="#fff"/><circle cx="949.4" cy="999.8" r="6.5" fill="#fff"/><circle cx="971" cy="999.8" r="6.5" fill="#fff"/><circle cx="989.5" cy="999.8" r="6.5" fill="#fff"/><circle cx="1009.6" cy="999.8" r="6.5" fill="#fff"/><circle cx="1036.5" cy="999.8" r="6.5" fill="#fff"/><circle cx="1057.6" cy="999.8" r="6.5" fill="#fff"/><circle cx="1076.7" cy="999.8" r="6.5" fill="#fff"/><circle cx="1098.5" cy="999.8" r="6.5" fill="#fff"/><circle cx="1120.4" cy="999.8" r="6.5" fill="#fff"/><circle cx="1138.8" cy="999.8" r="6.5" fill="#fff"/><circle cx="1156.3" cy="999.8" r="6.5" fill="#fff"/><circle cx="1187.5" cy="999.8" r="6.5" fill="#fff"/></g>
<path d="M721.7,1021.2H1212.6" stroke="#262626" stroke-width="1.35"/>
<g stroke="#231815" stroke-width="1.5"><circle cx="794.5" cy="1021.2" r="6.5" fill="#fff"/><circle cx="824" cy="1021.2" r="6.5" fill="#231815"/><circle cx="842.6" cy="1021.2" r="6.5" fill="#fff"/><circle cx="870" cy="1021.2" r="6.5" fill="#fff"/><circle cx="892.2" cy="1021.2" r="6.5" fill="#fff"/><circle cx="910.8" cy="1021.2" r="6.5" fill="#fff"/><circle cx="928.3" cy="1021.2" r="6.5" fill="#fff"/><circle cx="949.4" cy="1021.2" r="6.5" fill="#fff"/><circle cx="971" cy="1021.2" r="6.5" fill="#fff"/><circle cx="989.5" cy="1021.2" r="6.5" fill="#fff"/><circle cx="1009.6" cy="1021.2" r="6.5" fill="#fff"/><circle cx="1036.5" cy="1021.2" r="6.5" fill="#fff"/><circle cx="1057.6" cy="1021.2" r="6.5" fill="#fff"/><circle cx="1076.7" cy="1021.2" r="6.5" fill="#fff"/><circle cx="1098.5" cy="1021.2" r="6.5" fill="#fff"/><circle cx="1120.4" cy="1021.2" r="6.5" fill="#fff"/><circle cx="1138.8" cy="1021.2" r="6.5" fill="#fff"/><circle cx="1156.3" cy="1021.2" r="6.5" fill="#fff"/><circle cx="1187.5" cy="1021.2" r="6.5" fill="#fff"/></g>
<path d="M721.7,1042.6H1212.6" stroke="#262626" stroke-width="1.35"/>
<g stroke="#231815" stroke-width="1.5"><circle cx="794.5" cy="1042.6" r="6.5" fill="#fff"/><circle cx="824" cy="1042.6" r="6.5" fill="#231815"/><circle cx="842.6" cy="1042.6" r="6.5" fill="#fff"/><circle cx="870" cy="1042.6" r="6.5" fill="#fff"/><circle cx="892.2" cy="1042.6" r="6.5" fill="#fff"/><circle cx="910.8" cy="1042.6" r="6.5" fill="#fff"/><circle cx="928.3" cy="1042.6" r="6.5" fill="#fff"/><circle cx="949.4" cy="1042.6" r="6.5" fill="#fff"/><circle cx="971" cy="1042.6" r="6.5" fill="#fff"/><circle cx="989.5" cy="1042.6" r="6.5" fill="#fff"/><circle cx="1009.6" cy="1042.6" r="6.5" fill="#fff"/><circle cx="1036.5" cy="1042.6" r="6.5" fill="#fff"/><circle cx="1057.6" cy="1042.6" r="6.5" fill="#fff"/><circle cx="1076.7" cy="1042.6" r="6.5" fill="#fff"/><circle cx="1098.5" cy="1042.6" r="6.5" fill="#fff"/><circle cx="1120.4" cy="1042.6" r="6.5" fill="#fff"/><circle cx="1138.8" cy="1042.6" r="6.5" fill="#fff"/><circle cx="1156.3" cy="1042.6" r="6.5" fill="#fff"/><circle cx="1187.5" cy="1042.6" r="6.5" fill="#231815"/></g>
<path d="M721.7,1064H1212.6" stroke="#262626" stroke-width="1.35"/>
<g stroke="#231815" stroke-width="1.5"><circle cx="794.5" cy="1064" r="6.5" fill="#fff"/><circle cx="824" cy="1064" r="6.5" fill="#231815"/><circle cx="842.6" cy="1064" r="6.5" fill="#fff"/><circle cx="870" cy="1064" r="6.5" fill="#fff"/><circle cx="892.2" cy="1064" r="6.5" fill="#fff"/><circle cx="910.8" cy="1064" r="6.5" fill="#fff"/><circle cx="928.3" cy="1064" r="6.5" fill="#fff"/><circle cx="949.4" cy="1064" r="6.5" fill="#fff"/><circle cx="971" cy="1064" r="6.5" fill="#fff"/><circle cx="989.5" cy="1064" r="6.5" fill="#fff"/><circle cx="1009.6" cy="1064" r="6.5" fill="#fff"/><circle cx="1036.5" cy="1064" r="6.5" fill="#fff"/><circle cx="1057.6" cy="1064" r="6.5" fill="#fff"/><circle cx="1076.7" cy="1064" r="6.5" fill="#fff"/><circle cx="1098.5" cy="1064" r="6.5" fill="#fff"/><circle cx="1120.4" cy="1064" r="6.5" fill="#fff"/><circle cx="1138.8" cy="1064" r="6.5" fill="#231815"/><circle cx="1156.3" cy="1064" r="6.5" fill="#fff"/><circle cx="1187.5" cy="1064" r="6.5" fill="#fff"/></g>
<path d="M721.7,1085.4H1212.6" stroke="#262626" stroke-width="1.35"/>
<g stroke="#231815" stroke-width="1.5"><circle cx="794.5" cy="1085.4" r="6.5" fill="#fff"/><circle cx="824" cy="1085.4" r="6.5" fill="#231815"/><circle cx="842.6" cy="1085.4" r="6.5" fill="#fff"/><circle cx="870" cy="1085.4" r="6.5" fill="#fff"/><circle cx="892.2" cy="1085.4" r="6.5" fill="#fff"/><circle cx="910.8" cy="1085.4" r="6.5" fill="#fff"/><circle cx="928.3" cy="1085.4" r="6.5" fill="#fff"/><circle cx="949.4" cy="1085.4" r="6.5" fill="#fff"/><circle cx="971" cy="1085.4" r="6.5" fill="#231815"/><circle cx="989.5" cy="1085.4" r="6.5" fill="#fff"/><circle cx="1009.6" cy="1085.4" r="6.5" fill="#fff"/><circle cx="1036.5" cy="1085.4" r="6.5" fill="#fff"/><circle cx="1057.6" cy="1085.4" r="6.5" fill="#fff"/><circle cx="1076.7" cy="1085.4" r="6.5" fill="#fff"/><circle cx="1098.5" cy="1085.4" r="6.5" fill="#fff"/><circle cx="1120.4" cy="1085.4" r="6.5" fill="#fff"/><circle cx="1138.8" cy="1085.4" r="6.5" fill="#fff"/><circle cx="1156.3" cy="1085.4" r="6.5" fill="#fff"/><circle cx="1187.5" cy="1085.4" r="6.5" fill="#fff"/></g>
<text x="639" y="971.6" font-size="24.2">HFD</text>
<path d="M1388.9,672.2V1022.2 M1374.9,1009.4H1891.13" stroke="#000" stroke-width="3" fill="none"/>
<path d="M1374.9,897.4H1388.9 M1374.9,785.4H1388.9 M1374.9,673.4H1388.9 M1415.27,1009.4V1016.2 M1441.64,1009.4V1016.2 M1468.01,1009.4V1016.2 M1494.38,1009.4V1016.2 M1520.75,1009.4V1022.2 M1547.12,1009.4V1016.2 M1573.49,1009.4V1016.2 M1599.86,1009.4V1016.2 M1626.23,1009.4V1016.2 M1652.6,1009.4V1022.2 M1678.97,1009.4V1016.2 M1705.34,1009.4V1016.2 M1731.71,1009.4V1016.2 M1758.08,1009.4V1016.2 M1784.45,1009.4V1022.2 M1810.82,1009.4V1016.2 M1837.19,1009.4V1016.2 M1863.56,1009.4V1016.2 M1889.93,1009.4V1016.2" stroke="#000" stroke-width="2.5" fill="none"/>
<path d="M1415.27,1009.4 L1441.64,729.4 L1468.01,1009.4 L1494.38,1009.4 L1520.75,1009.4 L1547.12,1009.4 L1573.49,1009.4 L1599.86,1009.4 L1626.23,953.4 L1652.6,1009.4 L1678.97,1009.4 L1705.34,1009.4 L1731.71,1009.4 L1758.08,1009.4 L1784.45,1009.4 L1810.82,1009.4 L1837.19,897.4 L1863.56,1009.4 L1889.93,953.4" stroke="#F21414" stroke-width="2.3" fill="none" stroke-linejoin="miter"/>
<g fill="#F21414"><rect x="1410.17" y="1004.3" width="10.2" height="10.2"/><rect x="1436.54" y="724.3" width="10.2" height="10.2"/><rect x="1462.91" y="1004.3" width="10.2" height="10.2"/><rect x="1489.28" y="1004.3" width="10.2" height="10.2"/><rect x="1515.65" y="1004.3" width="10.2" height="10.2"/><rect x="1542.02" y="1004.3" width="10.2" height="10.2"/><rect x="1568.39" y="1004.3" width="10.2" height="10.2"/><rect x="1594.76" y="1004.3" width="10.2" height="10.2"/><rect x="1621.13" y="948.3" width="10.2" height="10.2"/><rect x="1647.5" y="1004.3" width="10.2" height="10.2"/><rect x="1673.87" y="1004.3" width="10.2" height="10.2"/><rect x="1700.24" y="1004.3" width="10.2" height="10.2"/><rect x="1726.61" y="1004.3" width="10.2" height="10.2"/><rect x="1752.98" y="1004.3" width="10.2" height="10.2"/><rect x="1779.35" y="1004.3" width="10.2" height="10.2"/><rect x="1805.72" y="1004.3" width="10.2" height="10.2"/><rect x="1832.09" y="892.3" width="10.2" height="10.2"/><rect x="1858.46" y="1004.3" width="10.2" height="10.2"/><rect x="1884.83" y="948.3" width="10.2" height="10.2"/></g>
<path d="M1415.27,1009.4 L1441.64,953.4 L1468.01,1009.4 L1494.38,953.4 L1520.75,1009.4 L1547.12,1009.4 L1573.49,1009.4 L1599.86,1009.4 L1626.23,1009.4 L1652.6,1009.4 L1678.97,1009.4 L1705.34,1009.4 L1731.71,1009.4 L1758.08,1009.4 L1784.45,1009.4 L1810.82,1009.4 L1837.19,1009.4 L1863.56,1009.4 L1889.93,953.4" stroke="#0A0AAC" stroke-width="2.8" fill="none" stroke-linejoin="miter"/>
<g fill="#0A0AAC"><circle cx="1415.27" cy="1009.4" r="5.0"/><circle cx="1441.64" cy="953.4" r="5.0"/><circle cx="1468.01" cy="1009.4" r="5.0"/><circle cx="1494.38" cy="953.4" r="5.0"/><circle cx="1520.75" cy="1009.4" r="5.0"/><circle cx="1547.12" cy="1009.4" r="5.0"/><circle cx="1573.49" cy="1009.4" r="5.0"/><circle cx="1599.86" cy="1009.4" r="5.0"/><circle cx="1626.23" cy="1009.4" r="5.0"/><circle cx="1652.6" cy="1009.4" r="5.0"/><circle cx="1678.97" cy="1009.4" r="5.0"/><circle cx="1705.34" cy="1009.4" r="5.0"/><circle cx="1731.71" cy="1009.4" r="5.0"/><circle cx="1758.08" cy="1009.4" r="5.0"/><circle cx="1784.45" cy="1009.4" r="5.0"/><circle cx="1810.82" cy="1009.4" r="5.0"/><circle cx="1837.19" cy="1009.4" r="5.0"/><circle cx="1863.56" cy="1009.4" r="5.0"/><circle cx="1889.93" cy="953.4" r="5.0"/></g>
<text x="1370.7" y="1017" font-size="21.5" text-anchor="end">0.0</text>
<text x="1370.7" y="905" font-size="21.5" text-anchor="end">0.2</text>
<text x="1370.7" y="793" font-size="21.5" text-anchor="end">0.4</text>
<text x="1370.7" y="681" font-size="21.5" text-anchor="end">0.6</text>
<text x="1388.9" y="1044.8" font-size="21.5" text-anchor="middle">0</text>
<text x="1520.75" y="1044.8" font-size="21.5" text-anchor="middle">5</text>
<text x="1652.6" y="1044.8" font-size="21.5" text-anchor="middle">10</text>
<text x="1784.45" y="1044.8" font-size="21.5" text-anchor="middle">15</text>
<text x="1641.8" y="1076.6" font-size="24.6" text-anchor="middle">CpG Position</text>
<text transform="translate(1312.9,842.5) rotate(-90)" font-size="28.7" text-anchor="middle">Methylation rate (%)</text>
<text x="1507.7" y="707.1" font-size="23.3">Total Me-CpG rate:</text>
<path d="M1717.8,681H1747.2" stroke="#0A0AB0" stroke-width="2.6"/>
<circle cx="1732.5" cy="681" r="4.7" fill="#0A0AB0"/>
<path d="M1717.8,717.9H1747.2" stroke="#F21414" stroke-width="2.6"/>
<rect x="1727.8" y="713.2" width="9.4" height="9.4" fill="#F21414"/>
<text x="1762.8" y="689.9" font-size="23.3">Con (1.6%)</text>
<text x="1762.8" y="726.3" font-size="23.3">HFD (4.7%)</text>
<text x="18.5" y="1147.6" font-size="52" font-weight="bold">D</text>
<text x="74.4" y="1207.4" font-size="28" font-style="italic">Lonp1</text>
<rect x="6.6" y="1230.8" width="594.4" height="315" fill="#FFFFFF" stroke="#5252C6" stroke-width="1.4"/>
<path d="M6,1230.8H601.6" stroke="#1E1EA2" stroke-width="1.6"/>
<rect x="38.4" y="1249.3" width="551" height="224" fill="url(#stripes)"/>
<path d="M172.1,1320.86 L173.1,1319.43 L174.1,1318.01 L175.1,1316.58 L176.1,1315.94 L177.1,1315.5 L178.1,1315.05 L179.1,1314.6 L180.1,1314.16 L181.1,1313.71 L182.1,1313.26 L183.1,1312.81 L184.1,1312.37 L185.1,1312.37 L186.1,1313.03 L187.1,1313.7 L188.1,1314.37 L189.1,1315.03 L190.1,1315.7 L191.1,1316.43 L192.1,1317.73 L193.1,1319.03 L194.1,1320.32 L195.1,1321.62 L196.1,1322.92 L197.1,1324.22 L198.1,1325.52 L199.1,1326.81 L200.1,1328.11 L201.1,1329.41 L201.9,1330.36 L201.9,1409.1 L172.1,1409.1 Z" fill="#BDE8F6"/>
<path d="M239.2,1319.6 L240.2,1318.85 L241.2,1318.35 L242.2,1317.85 L243.2,1317.35 L244.2,1316.85 L245.2,1316.35 L246.2,1315.85 L247.2,1317.38 L248.2,1319.12 L249.2,1320.88 L250.2,1322.62 L251.2,1322.33 L252.2,1320 L253.2,1317.67 L254.2,1315.78 L255.2,1315.71 L256.2,1315.63 L257.2,1315.56 L258.2,1315.48 L259.2,1315.41 L260.2,1315.33 L261.2,1317.07 L262.2,1320.02 L262.3,1320.31 L262.3,1409.1 L239.2,1409.1 Z" fill="#BDE8F6"/>
<path d="M315.8,1296.25 L316.8,1295.82 L317.8,1296.36 L318.8,1296.89 L319.8,1297.43 L320.8,1297.96 L321.8,1298.5 L322.8,1299.03 L323.8,1300.55 L324.8,1303.05 L325.8,1305.55 L326.8,1308.05 L327.8,1310.13 L328.8,1308.47 L329.8,1306.8 L330.8,1305.13 L331.8,1305.6 L332.8,1306.6 L333.8,1307.6 L334.8,1308.6 L335.8,1309.6 L336.8,1310.6 L337.8,1311.75 L338.8,1313.5 L339.3,1314.38 L339.3,1409.1 L315.8,1409.1 Z" fill="#BDE8F6"/>
<path d="M350.3,1335.2 L351.3,1335.83 L352.3,1334.08 L353.3,1332.33 L354.3,1330.58 L355.3,1328.83 L356.3,1327.17 L357.3,1325.5 L358.3,1323.83 L359.3,1322.17 L360.3,1320.5 L361.3,1318.83 L362.3,1316.86 L363.3,1314.57 L364.3,1312.29 L365.3,1310 L366.3,1307.71 L367.3,1305.43 L368.3,1303.14 L369.3,1300.86 L370.3,1301.84 L371.3,1303.64 L372.3,1305.44 L373.3,1307.24 L374.3,1309.04 L375.3,1310.26 L376.3,1310.11 L377.3,1309.97 L378.3,1309.83 L379.3,1309.69 L380.3,1309.54 L381.3,1309.4 L382.3,1309.26 L383.3,1309.35 L384.3,1309.6 L385.3,1309.85 L386.3,1310.1 L387.3,1310.05 L388.3,1308.8 L389.3,1307.55 L390.3,1306.3 L391.3,1305.05 L392.3,1304.96 L393.3,1305.16 L394.3,1305.36 L395.3,1305.56 L396.3,1305.76 L397.3,1305.5 L398.3,1304.17 L399.3,1302.83 L400.3,1301.5 L401.3,1300.17 L402.3,1298.83 L403.3,1297.5 L404.3,1296.59 L405.3,1295.85 L406.3,1295.12 L407.3,1293.62 L408.3,1291.78 L409.3,1289.95 L410.3,1288.12 L411.3,1286.28 L412.3,1284.45 L413.3,1282.9 L414.3,1283.9 L415.3,1284.9 L416.3,1285.9 L417.3,1286.9 L418.3,1287.9 L419.3,1288.9 L420.3,1289.1 L421.3,1288.5 L422.3,1287.9 L423.3,1287.3 L424.3,1286.7 L425.3,1286.1 L426.3,1286.6 L427.3,1287.1 L428.3,1287.6 L429.3,1288.1 L430.3,1288.6 L431.3,1289.1 L432.3,1289.08 L433.3,1288.28 L434.3,1287.48 L435.3,1286.68 L436.3,1285.88 L437.3,1285.08 L438.3,1285 L439.3,1285 L440.3,1285 L441.3,1285 L442.3,1285 L443.3,1285 L444.3,1285 L445.3,1285 L446.3,1285 L447.3,1285 L448.3,1286.2 L449.3,1287.4 L450.3,1288.6 L451.3,1289.8 L452.3,1291 L453.3,1292.27 L454.3,1293.6 L455.3,1294.93 L456.3,1296.27 L457.3,1297.6 L458.3,1298.93 L459.3,1300.27 L460.3,1302.56 L461.3,1304.96 L462.3,1307.36 L463.3,1309.76 L464.3,1312.16 L465.3,1313.26 L466.3,1312.4 L467.3,1311.54 L468.3,1310.69 L469.3,1309.83 L470.3,1308.97 L471.3,1308.11 L472.3,1307.26 L473.3,1307.53 L474.3,1308.28 L475.3,1309.02 L476.3,1309.77 L477.3,1310.3 L478.3,1310.3 L479.3,1310.3 L480.3,1310.3 L481.3,1310.3 L482.3,1310.3 L483.3,1311.63 L484.3,1313.3 L485.3,1314.97 L486.3,1316.63 L487.3,1318.3 L488.3,1319.97 L489.3,1321.62 L490.3,1323.22 L491.3,1324.82 L491.9,1325.78 L491.9,1409.1 L350.3,1409.1 Z" fill="#BDE8F6"/>
<rect x="423.7" y="1390.1" width="75.3" height="6.8" fill="#1B1B8E"/>
<path d="M51.73,1404.4V1409.1 M69.86,1404.4V1409.1 M87.99,1404.4V1409.1 M106.12,1404.4V1409.1 M124.25,1400.4V1409.1 M142.38,1404.4V1409.1 M160.51,1404.4V1409.1 M178.64,1404.4V1409.1 M196.77,1404.4V1409.1 M214.9,1400.4V1409.1 M233.03,1404.4V1409.1 M251.16,1404.4V1409.1 M269.29,1404.4V1409.1 M287.42,1404.4V1409.1 M305.55,1400.4V1409.1 M323.68,1404.4V1409.1 M341.81,1404.4V1409.1 M359.94,1404.4V1409.1 M378.07,1404.4V1409.1 M396.2,1400.4V1409.1 M414.33,1404.4V1409.1 M432.46,1404.4V1409.1 M450.59,1404.4V1409.1 M468.72,1404.4V1409.1 M486.85,1400.4V1409.1 M504.98,1404.4V1409.1 M523.11,1404.4V1409.1 M541.24,1404.4V1409.1 M559.37,1404.4V1409.1 M577.5,1400.4V1409.1" stroke="#C94848" stroke-width="1.3" fill="none"/>
<path d="M34.8,1409.1 L42.8,1409.1 L42.8,1361.2 L43.4,1313.2 L44.25,1315.18 L45.1,1313.55 L45.95,1316.33 L46.8,1316.82 L47.65,1318.33 L48.5,1318.55 L49.35,1320.89 L50.2,1319.81 L51.05,1324.61 L51.9,1322.79 L52.75,1325.81 L53.6,1327.17 L54.45,1329.75 L55.3,1326.91 L56.15,1329.02 L57,1327.23 L57.85,1327.9 L58.7,1326.31 L59.55,1326.88 L60.4,1321.9 L61.25,1323.28 L62.1,1318.08 L62.95,1318.66 L63.8,1318.57 L64.65,1318.99 L65.5,1318.35 L66.35,1320.46 L67.2,1317.7 L68.05,1320.93 L68.9,1318.84 L69.75,1321.4 L70.6,1319.63 L71.45,1321.25 L72.3,1320.17 L73.15,1321.05 L74,1318.91 L74.85,1320.38 L75.7,1317.05 L76.55,1319.5 L77.4,1321.04 L78.25,1323.35 L79.1,1324.04 L79.95,1328.18 L80.8,1328.9 L81.65,1330.83 L82.5,1331.72 L83.35,1335.05 L84.2,1335.36 L85.05,1337.75 L85.9,1338.29 L86.75,1340.91 L87.6,1339.87 L88.45,1339.13 L89.3,1334.92 L90.15,1336.14 L91,1331.74 L91.85,1332.91 L92.7,1333.45 L93.55,1335.35 L94.4,1334.65 L95.25,1337.71 L96.1,1334.91 L96.95,1333.98 L97.8,1332 L98.65,1332.53 L99.5,1329.49 L100.35,1328.81 L101.2,1325.99 L102.05,1327.38 L102.9,1323.91 L103.75,1322.32 L104.6,1319.91 L105.45,1318.85 L106.3,1315.17 L107.15,1317.33 L108,1316.58 L108.85,1320.12 L109.7,1318.98 L110.55,1320.74 L111.4,1319.49 L112.25,1322.6 L113.1,1320.72 L113.95,1321.77 L114.8,1320.67 L115.65,1321.55 L116.5,1319.24 L117.35,1323.39 L118.2,1323.62 L119.05,1327.27 L119.9,1329.69 L120.75,1330.1 L121.6,1328.13 L122.45,1330.72 L123.3,1328.41 L124.15,1328.68 L125,1327.64 L125.85,1331.38 L126.7,1331.23 L127.55,1333.24 L128.4,1335.07 L129.25,1337.47 L130.1,1337.16 L130.95,1344.01 L131.8,1345.08 L132.65,1352.31 L133.5,1352.51 L134.35,1358.67 L135.2,1362.12 L136.05,1368.08 L136.9,1363.58 L137.75,1363.16 L138.6,1360.34 L139.45,1360.78 L140.3,1360.23 L141.15,1361.45 L142,1361.31 L142.85,1361.83 L143.7,1361.91 L144.55,1359.7 L145.4,1353.48 L146.25,1351.5 L147.1,1345.58 L147.95,1343.72 L148.8,1339.16 L149.65,1337.42 L150.5,1330.92 L151.35,1329.47 L152.2,1325.37 L153.05,1322.53 L153.9,1317.91 L154.75,1318.16 L155.6,1316.48 L156.45,1317.33 L157.3,1315.44 L158.15,1317.39 L159,1317.1 L159.85,1319.33 L160.7,1316.77 L161.55,1318.37 L162.4,1319.2 L163.25,1320.23 L164.1,1319.42 L164.95,1322.43 L165.8,1321.86 L166.65,1325.84 L167.5,1324.73 L168.35,1325.49 L169.2,1322.12 L170.05,1323.75 L170.9,1321.3 L171.75,1321.57 L172.6,1318.79 L173.45,1318.23 L174.3,1316.72 L175.15,1316.83 L176,1313.23 L176.85,1315.62 L177.7,1312.4 L178.55,1313.86 L179.4,1313.24 L180.25,1313.74 L181.1,1310.84 L181.95,1314.19 L182.8,1311.47 L183.65,1311.82 L184.5,1310.63 L185.35,1312.23 L186.2,1310.31 L187.05,1312.82 L187.9,1311.8 L188.75,1315.07 L189.6,1312.87 L190.45,1316.29 L191.3,1314.74 L192.15,1317.17 L193,1317.53 L193.85,1319.43 L194.7,1318.72 L195.55,1321.25 L196.4,1322.13 L197.25,1324.72 L198.1,1324.27 L198.95,1325.65 L199.8,1326.71 L200.65,1328.65 L201.5,1328.54 L202.35,1331.8 L203.2,1329.15 L204.05,1333.73 L204.9,1332.44 L205.75,1333.72 L206.6,1334.56 L207.45,1336.27 L208.3,1335.33 L209.15,1338.07 L210,1337.86 L210.85,1338.17 L211.7,1336.19 L212.55,1337.81 L213.4,1334.95 L214.25,1337.34 L215.1,1333.36 L215.95,1332.99 L216.8,1329.84 L217.65,1330.17 L218.5,1327.47 L219.35,1327.25 L220.2,1324.13 L221.05,1324.44 L221.9,1322.89 L222.75,1322.24 L223.6,1320.75 L224.45,1321.4 L225.3,1317.72 L226.15,1317.84 L227,1316.16 L227.85,1318.04 L228.7,1314.76 L229.55,1315.12 L230.4,1312.85 L231.25,1314.77 L232.1,1311.41 L232.95,1315.04 L233.8,1315.9 L234.65,1319.62 L235.5,1318.18 L236.35,1323.06 L237.2,1320.58 L238.05,1320.07 L238.9,1318.82 L239.75,1318.24 L240.6,1315.73 L241.45,1318.12 L242.3,1315.01 L243.15,1316.83 L244,1314.34 L244.85,1316.13 L245.7,1314.83 L246.55,1316.61 L247.4,1314.89 L248.25,1318.28 L249.1,1318.78 L249.95,1322.16 L250.8,1322.06 L251.65,1320.73 L252.5,1318.19 L253.35,1316.5 L254.2,1314.53 L255.05,1315.65 L255.9,1313.6 L256.75,1314.78 L257.6,1314.52 L258.45,1314.84 L259.3,1313.28 L260.15,1314.49 L261,1315.13 L261.85,1318.17 L262.7,1319.07 L263.55,1323.81 L264.4,1325.47 L265.25,1326.2 L266.1,1326.02 L266.95,1327.72 L267.8,1326.26 L268.65,1327.72 L269.5,1328.07 L270.35,1331.06 L271.2,1331.08 L272.05,1333.6 L272.9,1334.66 L273.75,1338.56 L274.6,1338.05 L275.45,1340.1 L276.3,1339.2 L277.15,1340.54 L278,1338.77 L278.85,1342.75 L279.7,1340.69 L280.55,1341.69 L281.4,1340.65 L282.25,1342.45 L283.1,1342.64 L283.95,1344.73 L284.8,1342.85 L285.65,1344.15 L286.5,1341.41 L287.35,1342.86 L288.2,1339.84 L289.05,1339.86 L289.9,1339.85 L290.75,1340.98 L291.6,1339.45 L292.45,1342.52 L293.3,1341.04 L294.15,1342.53 L295,1341.64 L295.85,1343.35 L296.7,1343.06 L297.55,1344.02 L298.4,1341.94 L299.25,1341.71 L300.1,1337.09 L300.95,1335.08 L301.8,1330.18 L302.65,1330.75 L303.5,1325.91 L304.35,1323.4 L305.2,1318.87 L306.05,1320.08 L306.9,1314.93 L307.75,1313.07 L308.6,1308.72 L309.45,1308.43 L310.3,1303.9 L311.15,1305 L312,1300.92 L312.85,1300.94 L313.7,1297.82 L314.55,1297.82 L315.4,1295.49 L316.25,1296.08 L317.1,1293.47 L317.95,1295.59 L318.8,1295.69 L319.65,1296.85 L320.5,1296.06 L321.35,1297.73 L322.2,1297.62 L323.05,1298.41 L323.9,1298.57 L324.75,1303.62 L325.6,1304.03 L326.45,1307.02 L327.3,1306.98 L328.15,1308.56 L329,1305.6 L329.85,1305.8 L330.7,1303.37 L331.55,1305.17 L332.4,1304.21 L333.25,1306.39 L334.1,1306.36 L334.95,1308.64 L335.8,1308.04 L336.65,1310.52 L337.5,1309.7 L338.35,1312.29 L339.2,1313.19 L340.05,1315.66 L340.9,1315.49 L341.75,1317.89 L342.6,1317.37 L343.45,1320.93 L344.3,1319.78 L345.15,1321.4 L346,1321.45 L346.85,1323.92 L347.7,1326.31 L348.55,1329.52 L349.4,1331.44 L350.25,1334.64 L351.1,1334.45 L351.95,1333.7 L352.8,1331.18 L353.65,1330.76 L354.5,1327.97 L355.35,1329.12 L356.2,1325.6 L357.05,1324.94 L357.9,1322.78 L358.75,1322.55 L359.6,1318.81 L360.45,1319.35 L361.3,1316.25 L362.15,1318.19 L363,1313 L363.85,1313.79 L364.7,1310.2 L365.55,1310.37 L366.4,1305.8 L367.25,1306.41 L368.1,1300.85 L368.95,1300.79 L369.8,1298.54 L370.65,1303.27 L371.5,1302.97 L372.35,1304.95 L373.2,1304.74 L374.05,1307.72 L374.9,1307.42 L375.75,1309.48 L376.6,1307.6 L377.45,1309.06 L378.3,1308.12 L379.15,1310.47 L380,1308.4 L380.85,1308.73 L381.7,1307.62 L382.55,1308.58 L383.4,1308.36 L384.25,1308.74 L385.1,1308.67 L385.95,1310.82 L386.8,1308.1 L387.65,1310.31 L388.5,1307.41 L389.35,1307.88 L390.2,1305.35 L391.05,1305.14 L391.9,1302.86 L392.75,1304.48 L393.6,1302.59 L394.45,1305.22 L395.3,1303.68 L396.15,1306.39 L397,1304.83 L397.85,1305.75 L398.7,1301.63 L399.55,1302 L400.4,1298.94 L401.25,1299.51 L402.1,1296.13 L402.95,1297.84 L403.8,1295.52 L404.65,1296.67 L405.5,1294.12 L406.35,1294.23 L407.2,1291.52 L408.05,1291.26 L408.9,1288.2 L409.75,1288.38 L410.6,1285.54 L411.45,1286.96 L412.3,1282.55 L413.15,1282.97 L414,1282.25 L414.85,1283.45 L415.7,1284.29 L416.55,1285.27 L417.4,1285.03 L418.25,1287.42 L419.1,1286.97 L419.95,1290 L420.8,1287.7 L421.65,1287.51 L422.5,1285.72 L423.35,1286.28 L424.2,1285.76 L425.05,1285.67 L425.9,1285.33 L426.75,1286.25 L427.6,1286.04 L428.45,1287.57 L429.3,1286.2 L430.15,1287.71 L431,1286.96 L431.85,1289.03 L432.7,1287.66 L433.55,1288.89 L434.4,1286.16 L435.25,1285.84 L436.1,1284.98 L436.95,1285.38 L437.8,1282.37 L438.65,1285.38 L439.5,1283.49 L440.35,1284.27 L441.2,1284 L442.05,1285.04 L442.9,1283.16 L443.75,1284.41 L444.6,1282.96 L445.45,1284.59 L446.3,1282.19 L447.15,1285.26 L448,1284.59 L448.85,1287.58 L449.7,1286.86 L450.55,1288.68 L451.4,1288.4 L452.25,1290.17 L453.1,1290.97 L453.95,1293.51 L454.8,1293.26 L455.65,1295.22 L456.5,1293.71 L457.35,1296.77 L458.2,1297.62 L459.05,1299.88 L459.9,1299.88 L460.75,1303.67 L461.6,1303.21 L462.45,1306.87 L463.3,1308.42 L464.15,1311.13 L465,1312.49 L465.85,1313.46 L466.7,1309.67 L467.55,1311.54 L468.4,1309.6 L469.25,1310.42 L470.1,1306.86 L470.95,1308.05 L471.8,1305.41 L472.65,1306.65 L473.5,1306.46 L474.35,1307.38 L475.2,1307.73 L476.05,1308.6 L476.9,1308.84 L477.75,1310.6 L478.6,1308.14 L479.45,1310.85 L480.3,1308.1 L481.15,1309.57 L482,1308.48 L482.85,1310.46 L483.7,1309.9 L484.55,1313.47 L485.4,1313.86 L486.25,1316.58 L487.1,1315.07 L487.95,1318.59 L488.8,1318.15 L489.65,1321.18 L490.5,1322.27 L491.35,1324.13 L492.2,1323.98 L493.05,1328.46 L493.9,1326.69 L494.75,1329.17 L495.6,1325.45 L496.45,1325.78 L497.3,1324.63 L498.15,1326.88 L499,1324.43 L499.85,1326.87 L500.7,1324.91 L501.55,1328.22 L502.4,1325.92 L503.25,1328.39 L504.1,1326.85 L504.95,1330.97 L505.8,1330.16 L506.65,1333.33 L507.5,1332.6 L508.35,1335.16 L509.2,1335.38 L510.05,1336.22 L510.9,1334.86 L511.75,1336.3 L512.6,1334.11 L513.45,1333.89 L514.3,1333.47 L515.15,1336.04 L516,1334.69 L516.85,1336.06 L517.7,1336.79 L518.55,1337.67 L519.4,1337.59 L520.25,1340.94 L521.1,1339.96 L521.95,1343.57 L522.8,1343.47 L523.65,1345.6 L524.5,1345.22 L525.35,1347.38 L526.2,1344.66 L527.05,1348.07 L527.9,1346.59 L528.75,1348.49 L529.6,1345.37 L530.45,1349.19 L531.3,1347.53 L532.15,1347.86 L533,1346.89 L533.85,1346.27 L534.7,1343.99 L535.55,1346.31 L536.4,1343.12 L537.25,1344.92 L538.1,1341.71 L538.95,1342.61 L539.8,1342.24 L540.65,1342.36 L541.5,1340.98 L542.35,1342.49 L543.2,1341.7 L544.05,1341.59 L544.9,1340.01 L545.75,1339.26 L546.6,1337.68 L547.45,1338.17 L548.3,1335.49 L549.15,1337.36 L550,1336.81 L550.85,1341.12 L551.7,1340.53 L552.55,1344.77 L553.4,1345.32 L554.25,1347.28 L555.1,1347.59 L555.95,1350.94 L556.8,1348.54 L557.65,1348.65 L558.5,1345.19 L559.35,1344.69 L560.2,1341.4 L561.05,1343.1 L561.9,1342.98 L562.75,1346.02 L563.6,1347.3 L564.45,1348.9 L565.3,1348.8 L566.15,1353.48 L567,1352.97 L567.85,1352.85 L568.7,1349.99 L569.55,1350.61 L570.4,1347.54 L571.25,1346.91 L572.1,1344.36 L572.95,1344.87 L573.8,1341.67 L574.65,1342.35 L575.5,1340.47 L576.35,1341.93 L577.2,1341.52 L578.05,1344.36 L578.8,1344.5 L579.2,1409.1 L588.1,1409.1" stroke="#000" stroke-width="1.35" fill="none" stroke-linejoin="round"/>
<rect x="34" y="1409.1" width="554.1" height="7" fill="#F00A0A"/>
<path d="M34.8,1246.8V1409.1 M34.8,1247.2H39.5 M34.8,1392.87h2.6 M34.8,1376.64h4.6 M34.8,1360.41h2.6 M34.8,1344.18h4.6 M34.8,1327.95h2.6 M34.8,1311.72h4.6 M34.8,1295.49h2.6 M34.8,1279.26h4.6 M34.8,1263.03h2.6" stroke="#000" stroke-width="1.2" fill="none"/>
<text transform="translate(31.4,1419.35) rotate(-90)" font-size="10" fill="#1a1a1a" textLength="9.1" lengthAdjust="spacingAndGlyphs">0</text>
<text transform="translate(31.4,1385.74) rotate(-90)" font-size="10" fill="#1a1a1a" textLength="18.2" lengthAdjust="spacingAndGlyphs">20</text>
<text transform="translate(31.4,1353.28) rotate(-90)" font-size="10" fill="#1a1a1a" textLength="18.2" lengthAdjust="spacingAndGlyphs">40</text>
<text transform="translate(31.4,1320.82) rotate(-90)" font-size="10" fill="#1a1a1a" textLength="18.2" lengthAdjust="spacingAndGlyphs">60</text>
<text transform="translate(31.4,1288.36) rotate(-90)" font-size="10" fill="#1a1a1a" textLength="18.2" lengthAdjust="spacingAndGlyphs">80</text>
<text transform="translate(19.4,1386.3) rotate(-90)" font-size="10.2" fill="#1a1a1a" textLength="124.5" lengthAdjust="spacingAndGlyphs">GC Percentage</text>
<text x="34.4" y="1437.3" font-size="15.6" textLength="5" lengthAdjust="spacingAndGlyphs">0</text>
<text x="107.7" y="1437.3" font-size="15.6" textLength="15.3" lengthAdjust="spacingAndGlyphs">500</text>
<text x="129.3" y="1437.3" font-size="15.6" font-family="Liberation Mono, monospace" textLength="10.6" lengthAdjust="spacingAndGlyphs">bp</text>
<text x="198.1" y="1437.3" font-size="15.6" textLength="20.4" lengthAdjust="spacingAndGlyphs">1000</text>
<text x="225.1" y="1437.3" font-size="15.6" font-family="Liberation Mono, monospace" textLength="10.6" lengthAdjust="spacingAndGlyphs">bp</text>
<text x="288.5" y="1437.3" font-size="15.6" textLength="20.4" lengthAdjust="spacingAndGlyphs">1500</text>
<text x="315.5" y="1437.3" font-size="15.6" font-family="Liberation Mono, monospace" textLength="10.6" lengthAdjust="spacingAndGlyphs">bp</text>
<text x="378.9" y="1437.3" font-size="15.6" textLength="20.4" lengthAdjust="spacingAndGlyphs">2000</text>
<text x="405.9" y="1437.3" font-size="15.6" font-family="Liberation Mono, monospace" textLength="10.6" lengthAdjust="spacingAndGlyphs">bp</text>
<text x="469.3" y="1437.3" font-size="15.6" textLength="20.4" lengthAdjust="spacingAndGlyphs">2500</text>
<text x="496.3" y="1437.3" font-size="15.6" font-family="Liberation Mono, monospace" textLength="10.6" lengthAdjust="spacingAndGlyphs">bp</text>
<text x="559.7" y="1437.3" font-size="15.6" textLength="20.4" lengthAdjust="spacingAndGlyphs">3000</text>
<text x="586.7" y="1437.3" font-size="15.6" font-family="Liberation Mono, monospace" textLength="10.6" lengthAdjust="spacingAndGlyphs">bp</text>
<text x="14.6" y="1455.6" font-size="18.4" font-family="Liberation Mono, monospace" textLength="16.6" lengthAdjust="spacingAndGlyphs">CpG</text>
<path d="M34,1441.5V1455.8 M44,1441.5V1455.8 M54.2,1441.5V1455.8 M80.2,1441.5V1455.8 M131.3,1441.5V1455.8 M152.8,1441.5V1455.8 M169.9,1441.5V1455.8 M175.2,1441.5V1455.8 M177.1,1441.5V1455.8 M179.1,1441.5V1455.8 M181.2,1441.5V1455.8 M183.5,1441.5V1455.8 M190.3,1441.5V1455.8 M191.9,1441.5V1455.8 M194.3,1441.5V1455.8 M195.9,1441.5V1455.8 M201.5,1441.5V1455.8 M205.1,1441.5V1455.8 M224.3,1441.5V1455.8 M234.2,1441.5V1455.8 M236.6,1441.5V1455.8 M239,1441.5V1455.8 M246.1,1441.5V1455.8 M258.1,1441.5V1455.8 M262.9,1441.5V1455.8 M268.8,1441.5V1455.8 M278,1441.5V1455.8 M283.6,1441.5V1455.8 M287.1,1441.5V1455.8 M298,1441.5V1455.8 M309.2,1441.5V1455.8 M322.8,1441.5V1455.8 M325.2,1441.5V1455.8 M327.9,1441.5V1455.8 M330.4,1441.5V1455.8 M339.5,1441.5V1455.8 M341.1,1441.5V1455.8 M347,1441.5V1455.8 M360.2,1441.5V1455.8 M362.6,1441.5V1455.8 M365,1441.5V1455.8 M367.4,1441.5V1455.8 M370.2,1441.5V1455.8 M372.5,1441.5V1455.8 M378.6,1441.5V1455.8 M464,1441.5V1455.8 M467,1441.5V1455.8 M469.5,1441.5V1455.8 M472,1441.5V1455.8 M475,1441.5V1455.8 M479,1441.5V1455.8 M481.5,1441.5V1455.8 M484.5,1441.5V1455.8 M487.5,1441.5V1455.8 M491,1441.5V1455.8 M506.2,1441.5V1455.8 M510.2,1441.5V1455.8 M513.4,1441.5V1455.8 M517.4,1441.5V1455.8 M521.4,1441.5V1455.8 M539.7,1441.5V1455.8 M541.2,1441.5V1455.8 M542.1,1441.5V1455.8 M554.1,1441.5V1455.8 M250.1,1441.5V1455.8 M251.7,1441.5V1455.8 M253.3,1441.5V1455.8 M254.9,1441.5V1455.8 M312.3,1441.5V1455.8 M314.2,1441.5V1455.8 M316.1,1441.5V1455.8 M318,1441.5V1455.8 M319.9,1441.5V1455.8 M383.4,1441.5V1455.8 M385.3,1441.5V1455.8 M387.2,1441.5V1455.8 M389.1,1441.5V1455.8 M391,1441.5V1455.8 M392.9,1441.5V1455.8 M394.8,1441.5V1455.8 M396.7,1441.5V1455.8 M398.6,1441.5V1455.8 M400.5,1441.5V1455.8 M402.4,1441.5V1455.8 M404.3,1441.5V1455.8 M406.2,1441.5V1455.8 M408.1,1441.5V1455.8 M410,1441.5V1455.8 M411.9,1441.5V1455.8 M413.8,1441.5V1455.8 M415.7,1441.5V1455.8 M417.6,1441.5V1455.8 M419.5,1441.5V1455.8 M421.4,1441.5V1455.8 M423.3,1441.5V1455.8 M425.2,1441.5V1455.8 M430.4,1441.5V1455.8 M432.1,1441.5V1455.8 M433.8,1441.5V1455.8 M435.5,1441.5V1455.8 M437.2,1441.5V1455.8 M438.9,1441.5V1455.8 M440.6,1441.5V1455.8 M442.3,1441.5V1455.8 M444,1441.5V1455.8 M445.7,1441.5V1455.8 M447.4,1441.5V1455.8 M449.1,1441.5V1455.8 M450.8,1441.5V1455.8 M452.5,1441.5V1455.8 M454.2,1441.5V1455.8 M455.9,1441.5V1455.8 M457.6,1441.5V1455.8 M459.3,1441.5V1455.8" stroke="#E5602E" stroke-width="1.3" fill="none"/>
<text x="288.9" y="1472.8" font-size="15.6" font-family="Liberation Mono, monospace" textLength="9" lengthAdjust="spacingAndGlyphs">F1</text>
<text x="341.9" y="1472.8" font-size="15.6" font-family="Liberation Mono, monospace" textLength="9.6" lengthAdjust="spacingAndGlyphs">R1</text>
<path d="M306.4,1465.5H336.4" stroke="#2222D0" stroke-width="1.6"/>
<rect x="304" y="1457.8" width="3.4" height="15" fill="#C8143C" stroke="#2828C8" stroke-width="1.2"/>
<rect x="335.4" y="1457.8" width="3.4" height="15" fill="#C8143C" stroke="#2828C8" stroke-width="1.2"/>
<rect x="33.9" y="1473.1" width="554.9" height="58.7" fill="#F5E6E4"/>
<text x="38.7" y="1491" font-size="18.4" font-family="Liberation Mono, monospace" textLength="76.6" lengthAdjust="spacingAndGlyphs">Input Sequence</text>
<rect x="38.3" y="1497.5" width="88.9" height="9.7" fill="#F40A0A"/>
<text x="172" y="1491" font-size="18.4" font-family="Liberation Mono, monospace" textLength="110" lengthAdjust="spacingAndGlyphs">Bisulfite PCR primer</text>
<path d="M180,1503.1H240" stroke="#2020C8" stroke-width="1.8"/>
<rect x="172.9" y="1498.1" width="8.8" height="8.8" fill="#E8102C" stroke="#2424C4" stroke-width="1.3"/>
<rect x="238.1" y="1498.1" width="8.8" height="8.8" fill="#E8102C" stroke="#2424C4" stroke-width="1.3"/>
<text x="402.7" y="1490.4" font-size="18.4" font-family="Liberation Mono, monospace" textLength="77.3" lengthAdjust="spacingAndGlyphs">MSP Primer Set</text>
<text x="522.7" y="1490.4" font-size="18.4" font-family="Liberation Mono, monospace" textLength="55.7" lengthAdjust="spacingAndGlyphs">CpG Island</text>
<text x="310.8" y="1506.3" font-size="18.4" font-family="Liberation Mono, monospace" textLength="104.2" lengthAdjust="spacingAndGlyphs">Methylated-Specific</text>
<text x="299.7" y="1525.6" font-size="18.4" font-family="Liberation Mono, monospace" textLength="115.3" lengthAdjust="spacingAndGlyphs">Unmethylated-Specific</text>
<path d="M438,1503.5H498 M438,1522.5H498" stroke="#2020C8" stroke-width="1.8"/>
<rect x="431.4" y="1498.5" width="8" height="7.8" fill="#CC44DD" stroke="#2424C4" stroke-width="1.3"/>
<rect x="431.4" y="1518.3" width="8" height="7.8" fill="#44E444" stroke="#2424C4" stroke-width="1.3"/>
<rect x="496.9" y="1498.5" width="8" height="7.8" fill="#CC44DD" stroke="#2424C4" stroke-width="1.3"/>
<rect x="496.9" y="1518.3" width="8" height="7.8" fill="#44E444" stroke="#2424C4" stroke-width="1.3"/>
<rect x="523.8" y="1499.6" width="55.2" height="26.8" fill="#BDE8F6"/>
<path d="M704,1174.5H1214.5" stroke="#262626" stroke-width="1.35"/>
<g stroke="#231815" stroke-width="1.5"><ellipse cx="719" cy="1174.5" rx="3.3" ry="7.2" fill="#fff"/><ellipse cx="728.9" cy="1174.5" rx="3.3" ry="7.2" fill="#fff"/><ellipse cx="737.6" cy="1174.5" rx="3.3" ry="7.2" fill="#fff"/><ellipse cx="749.8" cy="1174.5" rx="3.3" ry="7.2" fill="#fff"/><ellipse cx="758.6" cy="1174.5" rx="3.3" ry="7.2" fill="#fff"/><ellipse cx="773.8" cy="1174.5" rx="3.3" ry="7.2" fill="#fff"/><ellipse cx="790.4" cy="1174.5" rx="3.3" ry="7.2" fill="#fff"/><ellipse cx="802.3" cy="1174.5" rx="3.3" ry="7.2" fill="#fff"/><ellipse cx="810.9" cy="1174.5" rx="3.3" ry="7.2" fill="#fff"/><ellipse cx="823.8" cy="1174.5" rx="3.3" ry="7.2" fill="#fff"/><ellipse cx="832.3" cy="1174.5" rx="3.3" ry="7.2" fill="#fff"/><ellipse cx="844.9" cy="1174.5" rx="3.3" ry="7.2" fill="#fff"/><ellipse cx="855.4" cy="1174.5" rx="3.3" ry="7.2" fill="#fff"/><ellipse cx="865.8" cy="1174.5" rx="3.3" ry="7.2" fill="#fff"/><ellipse cx="877.4" cy="1174.5" rx="3.3" ry="7.2" fill="#fff"/><ellipse cx="889.3" cy="1174.5" rx="3.3" ry="7.2" fill="#fff"/><ellipse cx="898.3" cy="1174.5" rx="3.3" ry="7.2" fill="#fff"/><ellipse cx="909.9" cy="1174.5" rx="3.3" ry="7.2" fill="#fff"/><ellipse cx="923.9" cy="1174.5" rx="3.3" ry="7.2" fill="#fff"/><ellipse cx="933" cy="1174.5" rx="3.3" ry="7.2" fill="#fff"/><ellipse cx="945.4" cy="1174.5" rx="3.3" ry="7.2" fill="#fff"/><ellipse cx="954.1" cy="1174.5" rx="3.3" ry="7.2" fill="#fff"/><ellipse cx="962.4" cy="1174.5" rx="3.3" ry="7.2" fill="#fff"/><ellipse cx="975.6" cy="1174.5" rx="3.3" ry="7.2" fill="#fff"/><ellipse cx="986.3" cy="1174.5" rx="3.3" ry="7.2" fill="#fff"/><ellipse cx="1006.1" cy="1174.5" rx="3.3" ry="7.2" fill="#fff"/><ellipse cx="1017.4" cy="1174.5" rx="3.3" ry="7.2" fill="#fff"/><ellipse cx="1030.9" cy="1174.5" rx="3.3" ry="7.2" fill="#fff"/><ellipse cx="1047.4" cy="1174.5" rx="3.3" ry="7.2" fill="#fff"/><ellipse cx="1055.9" cy="1174.5" rx="3.3" ry="7.2" fill="#fff"/><ellipse cx="1071.7" cy="1174.5" rx="3.3" ry="7.2" fill="#fff"/><ellipse cx="1091.4" cy="1174.5" rx="3.3" ry="7.2" fill="#fff"/><ellipse cx="1110.2" cy="1174.5" rx="3.3" ry="7.2" fill="#fff"/><ellipse cx="1121" cy="1174.5" rx="3.3" ry="7.2" fill="#fff"/><ellipse cx="1141.2" cy="1174.5" rx="3.3" ry="7.2" fill="#fff"/><ellipse cx="1149.6" cy="1174.5" rx="3.3" ry="7.2" fill="#fff"/><ellipse cx="1169.4" cy="1174.5" rx="3.3" ry="7.2" fill="#fff"/><ellipse cx="1187.4" cy="1174.5" rx="3.3" ry="7.2" fill="#fff"/></g>
<path d="M704,1196.7H1214.5" stroke="#262626" stroke-width="1.35"/>
<g stroke="#231815" stroke-width="1.5"><ellipse cx="719" cy="1196.7" rx="3.3" ry="7.2" fill="#fff"/><ellipse cx="728.9" cy="1196.7" rx="3.3" ry="7.2" fill="#fff"/><ellipse cx="737.6" cy="1196.7" rx="3.3" ry="7.2" fill="#fff"/><ellipse cx="749.8" cy="1196.7" rx="3.3" ry="7.2" fill="#fff"/><ellipse cx="758.6" cy="1196.7" rx="3.3" ry="7.2" fill="#fff"/><ellipse cx="773.8" cy="1196.7" rx="3.3" ry="7.2" fill="#fff"/><ellipse cx="790.4" cy="1196.7" rx="3.3" ry="7.2" fill="#fff"/><ellipse cx="802.3" cy="1196.7" rx="3.3" ry="7.2" fill="#fff"/><ellipse cx="810.9" cy="1196.7" rx="3.3" ry="7.2" fill="#fff"/><ellipse cx="823.8" cy="1196.7" rx="3.3" ry="7.2" fill="#fff"/><ellipse cx="832.3" cy="1196.7" rx="3.3" ry="7.2" fill="#fff"/><ellipse cx="844.9" cy="1196.7" rx="3.3" ry="7.2" fill="#fff"/><ellipse cx="855.4" cy="1196.7" rx="3.3" ry="7.2" fill="#fff"/><ellipse cx="865.8" cy="1196.7" rx="3.3" ry="7.2" fill="#fff"/><ellipse cx="877.4" cy="1196.7" rx="3.3" ry="7.2" fill="#fff"/><ellipse cx="889.3" cy="1196.7" rx="3.3" ry="7.2" fill="#fff"/><ellipse cx="898.3" cy="1196.7" rx="3.3" ry="7.2" fill="#fff"/><ellipse cx="909.9" cy="1196.7" rx="3.3" ry="7.2" fill="#fff"/><ellipse cx="923.9" cy="1196.7" rx="3.3" ry="7.2" fill="#fff"/><ellipse cx="933" cy="1196.7" rx="3.3" ry="7.2" fill="#fff"/><ellipse cx="945.4" cy="1196.7" rx="3.3" ry="7.2" fill="#fff"/><ellipse cx="954.1" cy="1196.7" rx="3.3" ry="7.2" fill="#fff"/><ellipse cx="962.4" cy="1196.7" rx="3.3" ry="7.2" fill="#fff"/><ellipse cx="975.6" cy="1196.7" rx="3.3" ry="7.2" fill="#fff"/><ellipse cx="986.3" cy="1196.7" rx="3.3" ry="7.2" fill="#fff"/><ellipse cx="1006.1" cy="1196.7" rx="3.3" ry="7.2" fill="#fff"/><ellipse cx="1017.4" cy="1196.7" rx="3.3" ry="7.2" fill="#fff"/><ellipse cx="1030.9" cy="1196.7" rx="3.3" ry="7.2" fill="#fff"/><ellipse cx="1047.4" cy="1196.7" rx="3.3" ry="7.2" fill="#fff"/><ellipse cx="1055.9" cy="1196.7" rx="3.3" ry="7.2" fill="#fff"/><ellipse cx="1071.7" cy="1196.7" rx="3.3" ry="7.2" fill="#fff"/><ellipse cx="1091.4" cy="1196.7" rx="3.3" ry="7.2" fill="#fff"/><ellipse cx="1110.2" cy="1196.7" rx="3.3" ry="7.2" fill="#fff"/><ellipse cx="1121" cy="1196.7" rx="3.3" ry="7.2" fill="#fff"/><ellipse cx="1141.2" cy="1196.7" rx="3.3" ry="7.2" fill="#fff"/><ellipse cx="1149.6" cy="1196.7" rx="3.3" ry="7.2" fill="#fff"/><ellipse cx="1169.4" cy="1196.7" rx="3.3" ry="7.2" fill="#fff"/><ellipse cx="1187.4" cy="1196.7" rx="3.3" ry="7.2" fill="#fff"/></g>
<path d="M704,1218.9H1214.5" stroke="#262626" stroke-width="1.35"/>
<g stroke="#231815" stroke-width="1.5"><ellipse cx="719" cy="1218.9" rx="3.3" ry="7.2" fill="#fff"/><ellipse cx="728.9" cy="1218.9" rx="3.3" ry="7.2" fill="#fff"/><ellipse cx="737.6" cy="1218.9" rx="3.3" ry="7.2" fill="#fff"/><ellipse cx="749.8" cy="1218.9" rx="3.3" ry="7.2" fill="#fff"/><ellipse cx="758.6" cy="1218.9" rx="3.3" ry="7.2" fill="#fff"/><ellipse cx="773.8" cy="1218.9" rx="3.3" ry="7.2" fill="#fff"/><ellipse cx="790.4" cy="1218.9" rx="3.3" ry="7.2" fill="#fff"/><ellipse cx="802.3" cy="1218.9" rx="3.3" ry="7.2" fill="#fff"/><ellipse cx="810.9" cy="1218.9" rx="3.3" ry="7.2" fill="#fff"/><ellipse cx="823.8" cy="1218.9" rx="3.3" ry="7.2" fill="#fff"/><ellipse cx="832.3" cy="1218.9" rx="3.3" ry="7.2" fill="#fff"/><ellipse cx="844.9" cy="1218.9" rx="3.3" ry="7.2" fill="#fff"/><ellipse cx="855.4" cy="1218.9" rx="3.3" ry="7.2" fill="#fff"/><ellipse cx="865.8" cy="1218.9" rx="3.3" ry="7.2" fill="#fff"/><ellipse cx="877.4" cy="1218.9" rx="3.3" ry="7.2" fill="#fff"/><ellipse cx="889.3" cy="1218.9" rx="3.3" ry="7.2" fill="#fff"/><ellipse cx="898.3" cy="1218.9" rx="3.3" ry="7.2" fill="#fff"/><ellipse cx="909.9" cy="1218.9" rx="3.3" ry="7.2" fill="#fff"/><ellipse cx="923.9" cy="1218.9" rx="3.3" ry="7.2" fill="#fff"/><ellipse cx="933" cy="1218.9" rx="3.3" ry="7.2" fill="#fff"/><ellipse cx="945.4" cy="1218.9" rx="3.3" ry="7.2" fill="#fff"/><ellipse cx="954.1" cy="1218.9" rx="3.3" ry="7.2" fill="#fff"/><ellipse cx="962.4" cy="1218.9" rx="3.3" ry="7.2" fill="#fff"/><ellipse cx="975.6" cy="1218.9" rx="3.3" ry="7.2" fill="#fff"/><ellipse cx="986.3" cy="1218.9" rx="3.3" ry="7.2" fill="#fff"/><ellipse cx="1006.1" cy="1218.9" rx="3.3" ry="7.2" fill="#fff"/><ellipse cx="1017.4" cy="1218.9" rx="3.3" ry="7.2" fill="#fff"/><ellipse cx="1030.9" cy="1218.9" rx="3.3" ry="7.2" fill="#fff"/><ellipse cx="1047.4" cy="1218.9" rx="3.3" ry="7.2" fill="#fff"/><ellipse cx="1055.9" cy="1218.9" rx="3.3" ry="7.2" fill="#fff"/><ellipse cx="1071.7" cy="1218.9" rx="3.3" ry="7.2" fill="#fff"/><ellipse cx="1091.4" cy="1218.9" rx="3.3" ry="7.2" fill="#fff"/><ellipse cx="1110.2" cy="1218.9" rx="3.3" ry="7.2" fill="#fff"/><ellipse cx="1121" cy="1218.9" rx="3.3" ry="7.2" fill="#fff"/><ellipse cx="1141.2" cy="1218.9" rx="3.3" ry="7.2" fill="#fff"/><ellipse cx="1149.6" cy="1218.9" rx="3.3" ry="7.2" fill="#fff"/><ellipse cx="1169.4" cy="1218.9" rx="3.3" ry="7.2" fill="#fff"/><ellipse cx="1187.4" cy="1218.9" rx="3.3" ry="7.2" fill="#fff"/></g>
<path d="M704,1241.1H1214.5" stroke="#262626" stroke-width="1.35"/>
<g stroke="#231815" stroke-width="1.5"><ellipse cx="719" cy="1241.1" rx="3.3" ry="7.2" fill="#fff"/><ellipse cx="728.9" cy="1241.1" rx="3.3" ry="7.2" fill="#fff"/><ellipse cx="737.6" cy="1241.1" rx="3.3" ry="7.2" fill="#fff"/><ellipse cx="749.8" cy="1241.1" rx="3.3" ry="7.2" fill="#fff"/><ellipse cx="758.6" cy="1241.1" rx="3.3" ry="7.2" fill="#fff"/><ellipse cx="773.8" cy="1241.1" rx="3.3" ry="7.2" fill="#fff"/><ellipse cx="790.4" cy="1241.1" rx="3.3" ry="7.2" fill="#fff"/><ellipse cx="802.3" cy="1241.1" rx="3.3" ry="7.2" fill="#fff"/><ellipse cx="810.9" cy="1241.1" rx="3.3" ry="7.2" fill="#fff"/><ellipse cx="823.8" cy="1241.1" rx="3.3" ry="7.2" fill="#fff"/><ellipse cx="832.3" cy="1241.1" rx="3.3" ry="7.2" fill="#fff"/><ellipse cx="844.9" cy="1241.1" rx="3.3" ry="7.2" fill="#fff"/><ellipse cx="855.4" cy="1241.1" rx="3.3" ry="7.2" fill="#fff"/><ellipse cx="865.8" cy="1241.1" rx="3.3" ry="7.2" fill="#fff"/><ellipse cx="877.4" cy="1241.1" rx="3.3" ry="7.2" fill="#fff"/><ellipse cx="889.3" cy="1241.1" rx="3.3" ry="7.2" fill="#fff"/><ellipse cx="898.3" cy="1241.1" rx="3.3" ry="7.2" fill="#fff"/><ellipse cx="909.9" cy="1241.1" rx="3.3" ry="7.2" fill="#fff"/><ellipse cx="923.9" cy="1241.1" rx="3.3" ry="7.2" fill="#fff"/><ellipse cx="933" cy="1241.1" rx="3.3" ry="7.2" fill="#fff"/><ellipse cx="945.4" cy="1241.1" rx="3.3" ry="7.2" fill="#fff"/><ellipse cx="954.1" cy="1241.1" rx="3.3" ry="7.2" fill="#fff"/><ellipse cx="962.4" cy="1241.1" rx="3.3" ry="7.2" fill="#fff"/><ellipse cx="975.6" cy="1241.1" rx="3.3" ry="7.2" fill="#fff"/><ellipse cx="986.3" cy="1241.1" rx="3.3" ry="7.2" fill="#fff"/><ellipse cx="1006.1" cy="1241.1" rx="3.3" ry="7.2" fill="#fff"/><ellipse cx="1017.4" cy="1241.1" rx="3.3" ry="7.2" fill="#fff"/><ellipse cx="1030.9" cy="1241.1" rx="3.3" ry="7.2" fill="#fff"/><ellipse cx="1047.4" cy="1241.1" rx="3.3" ry="7.2" fill="#fff"/><ellipse cx="1055.9" cy="1241.1" rx="3.3" ry="7.2" fill="#fff"/><ellipse cx="1071.7" cy="1241.1" rx="3.3" ry="7.2" fill="#fff"/><ellipse cx="1091.4" cy="1241.1" rx="3.3" ry="7.2" fill="#fff"/><ellipse cx="1110.2" cy="1241.1" rx="3.3" ry="7.2" fill="#fff"/><ellipse cx="1121" cy="1241.1" rx="3.3" ry="7.2" fill="#fff"/><ellipse cx="1141.2" cy="1241.1" rx="3.3" ry="7.2" fill="#fff"/><ellipse cx="1149.6" cy="1241.1" rx="3.3" ry="7.2" fill="#fff"/><ellipse cx="1169.4" cy="1241.1" rx="3.3" ry="7.2" fill="#fff"/><ellipse cx="1187.4" cy="1241.1" rx="3.3" ry="7.2" fill="#fff"/></g>
<path d="M704,1263.3H1214.5" stroke="#262626" stroke-width="1.35"/>
<g stroke="#231815" stroke-width="1.5"><ellipse cx="719" cy="1263.3" rx="3.3" ry="7.2" fill="#fff"/><ellipse cx="728.9" cy="1263.3" rx="3.3" ry="7.2" fill="#fff"/><ellipse cx="737.6" cy="1263.3" rx="3.3" ry="7.2" fill="#fff"/><ellipse cx="749.8" cy="1263.3" rx="3.3" ry="7.2" fill="#fff"/><ellipse cx="758.6" cy="1263.3" rx="3.3" ry="7.2" fill="#fff"/><ellipse cx="773.8" cy="1263.3" rx="3.3" ry="7.2" fill="#fff"/><ellipse cx="790.4" cy="1263.3" rx="3.3" ry="7.2" fill="#fff"/><ellipse cx="802.3" cy="1263.3" rx="3.3" ry="7.2" fill="#fff"/><ellipse cx="810.9" cy="1263.3" rx="3.3" ry="7.2" fill="#fff"/><ellipse cx="823.8" cy="1263.3" rx="3.3" ry="7.2" fill="#fff"/><ellipse cx="832.3" cy="1263.3" rx="3.3" ry="7.2" fill="#fff"/><ellipse cx="844.9" cy="1263.3" rx="3.3" ry="7.2" fill="#fff"/><ellipse cx="855.4" cy="1263.3" rx="3.3" ry="7.2" fill="#fff"/><ellipse cx="865.8" cy="1263.3" rx="3.3" ry="7.2" fill="#fff"/><ellipse cx="877.4" cy="1263.3" rx="3.3" ry="7.2" fill="#fff"/><ellipse cx="889.3" cy="1263.3" rx="3.3" ry="7.2" fill="#fff"/><ellipse cx="898.3" cy="1263.3" rx="3.3" ry="7.2" fill="#fff"/><ellipse cx="909.9" cy="1263.3" rx="3.3" ry="7.2" fill="#fff"/><ellipse cx="923.9" cy="1263.3" rx="3.3" ry="7.2" fill="#fff"/><ellipse cx="933" cy="1263.3" rx="3.3" ry="7.2" fill="#fff"/><ellipse cx="945.4" cy="1263.3" rx="3.3" ry="7.2" fill="#fff"/><ellipse cx="954.1" cy="1263.3" rx="3.3" ry="7.2" fill="#fff"/><ellipse cx="962.4" cy="1263.3" rx="3.3" ry="7.2" fill="#fff"/><ellipse cx="975.6" cy="1263.3" rx="3.3" ry="7.2" fill="#fff"/><ellipse cx="986.3" cy="1263.3" rx="3.3" ry="7.2" fill="#fff"/><ellipse cx="1006.1" cy="1263.3" rx="3.3" ry="7.2" fill="#fff"/><ellipse cx="1017.4" cy="1263.3" rx="3.3" ry="7.2" fill="#fff"/><ellipse cx="1030.9" cy="1263.3" rx="3.3" ry="7.2" fill="#fff"/><ellipse cx="1047.4" cy="1263.3" rx="3.3" ry="7.2" fill="#fff"/><ellipse cx="1055.9" cy="1263.3" rx="3.3" ry="7.2" fill="#fff"/><ellipse cx="1071.7" cy="1263.3" rx="3.3" ry="7.2" fill="#fff"/><ellipse cx="1091.4" cy="1263.3" rx="3.3" ry="7.2" fill="#fff"/><ellipse cx="1110.2" cy="1263.3" rx="3.3" ry="7.2" fill="#fff"/><ellipse cx="1121" cy="1263.3" rx="3.3" ry="7.2" fill="#fff"/><ellipse cx="1141.2" cy="1263.3" rx="3.3" ry="7.2" fill="#fff"/><ellipse cx="1149.6" cy="1263.3" rx="3.3" ry="7.2" fill="#fff"/><ellipse cx="1169.4" cy="1263.3" rx="3.3" ry="7.2" fill="#fff"/><ellipse cx="1187.4" cy="1263.3" rx="3.3" ry="7.2" fill="#fff"/></g>
<path d="M704,1285.5H1214.5" stroke="#262626" stroke-width="1.35"/>
<g stroke="#231815" stroke-width="1.5"><ellipse cx="719" cy="1285.5" rx="3.3" ry="7.2" fill="#fff"/><ellipse cx="728.9" cy="1285.5" rx="3.3" ry="7.2" fill="#fff"/><ellipse cx="737.6" cy="1285.5" rx="3.3" ry="7.2" fill="#fff"/><ellipse cx="749.8" cy="1285.5" rx="3.3" ry="7.2" fill="#fff"/><ellipse cx="758.6" cy="1285.5" rx="3.3" ry="7.2" fill="#fff"/><ellipse cx="773.8" cy="1285.5" rx="3.3" ry="7.2" fill="#fff"/><ellipse cx="790.4" cy="1285.5" rx="3.3" ry="7.2" fill="#fff"/><ellipse cx="802.3" cy="1285.5" rx="3.3" ry="7.2" fill="#fff"/><ellipse cx="810.9" cy="1285.5" rx="3.3" ry="7.2" fill="#fff"/><ellipse cx="823.8" cy="1285.5" rx="3.3" ry="7.2" fill="#fff"/><ellipse cx="832.3" cy="1285.5" rx="3.3" ry="7.2" fill="#fff"/><ellipse cx="844.9" cy="1285.5" rx="3.3" ry="7.2" fill="#fff"/><ellipse cx="855.4" cy="1285.5" rx="3.3" ry="7.2" fill="#fff"/><ellipse cx="865.8" cy="1285.5" rx="3.3" ry="7.2" fill="#fff"/><ellipse cx="877.4" cy="1285.5" rx="3.3" ry="7.2" fill="#fff"/><ellipse cx="889.3" cy="1285.5" rx="3.3" ry="7.2" fill="#fff"/><ellipse cx="898.3" cy="1285.5" rx="3.3" ry="7.2" fill="#fff"/><ellipse cx="909.9" cy="1285.5" rx="3.3" ry="7.2" fill="#fff"/><ellipse cx="923.9" cy="1285.5" rx="3.3" ry="7.2" fill="#fff"/><ellipse cx="933" cy="1285.5" rx="3.3" ry="7.2" fill="#fff"/><ellipse cx="945.4" cy="1285.5" rx="3.3" ry="7.2" fill="#fff"/><ellipse cx="954.1" cy="1285.5" rx="3.3" ry="7.2" fill="#fff"/><ellipse cx="962.4" cy="1285.5" rx="3.3" ry="7.2" fill="#fff"/><ellipse cx="975.6" cy="1285.5" rx="3.3" ry="7.2" fill="#fff"/><ellipse cx="986.3" cy="1285.5" rx="3.3" ry="7.2" fill="#fff"/><ellipse cx="1006.1" cy="1285.5" rx="3.3" ry="7.2" fill="#fff"/><ellipse cx="1017.4" cy="1285.5" rx="3.3" ry="7.2" fill="#fff"/><ellipse cx="1030.9" cy="1285.5" rx="3.3" ry="7.2" fill="#fff"/><ellipse cx="1047.4" cy="1285.5" rx="3.3" ry="7.2" fill="#fff"/><ellipse cx="1055.9" cy="1285.5" rx="3.3" ry="7.2" fill="#fff"/><ellipse cx="1071.7" cy="1285.5" rx="3.3" ry="7.2" fill="#fff"/><ellipse cx="1091.4" cy="1285.5" rx="3.3" ry="7.2" fill="#fff"/><ellipse cx="1110.2" cy="1285.5" rx="3.3" ry="7.2" fill="#231815"/><ellipse cx="1121" cy="1285.5" rx="3.3" ry="7.2" fill="#fff"/><ellipse cx="1141.2" cy="1285.5" rx="3.3" ry="7.2" fill="#fff"/><ellipse cx="1149.6" cy="1285.5" rx="3.3" ry="7.2" fill="#fff"/><ellipse cx="1169.4" cy="1285.5" rx="3.3" ry="7.2" fill="#fff"/><ellipse cx="1187.4" cy="1285.5" rx="3.3" ry="7.2" fill="#fff"/></g>
<path d="M704,1307.7H1214.5" stroke="#262626" stroke-width="1.35"/>
<g stroke="#231815" stroke-width="1.5"><ellipse cx="719" cy="1307.7" rx="3.3" ry="7.2" fill="#fff"/><ellipse cx="728.9" cy="1307.7" rx="3.3" ry="7.2" fill="#fff"/><ellipse cx="737.6" cy="1307.7" rx="3.3" ry="7.2" fill="#fff"/><ellipse cx="749.8" cy="1307.7" rx="3.3" ry="7.2" fill="#fff"/><ellipse cx="758.6" cy="1307.7" rx="3.3" ry="7.2" fill="#fff"/><ellipse cx="773.8" cy="1307.7" rx="3.3" ry="7.2" fill="#fff"/><ellipse cx="790.4" cy="1307.7" rx="3.3" ry="7.2" fill="#fff"/><ellipse cx="802.3" cy="1307.7" rx="3.3" ry="7.2" fill="#fff"/><ellipse cx="810.9" cy="1307.7" rx="3.3" ry="7.2" fill="#fff"/><ellipse cx="823.8" cy="1307.7" rx="3.3" ry="7.2" fill="#fff"/><ellipse cx="832.3" cy="1307.7" rx="3.3" ry="7.2" fill="#fff"/><ellipse cx="844.9" cy="1307.7" rx="3.3" ry="7.2" fill="#fff"/><ellipse cx="855.4" cy="1307.7" rx="3.3" ry="7.2" fill="#fff"/><ellipse cx="865.8" cy="1307.7" rx="3.3" ry="7.2" fill="#fff"/><ellipse cx="877.4" cy="1307.7" rx="3.3" ry="7.2" fill="#fff"/><ellipse cx="889.3" cy="1307.7" rx="3.3" ry="7.2" fill="#fff"/><ellipse cx="898.3" cy="1307.7" rx="3.3" ry="7.2" fill="#fff"/><ellipse cx="909.9" cy="1307.7" rx="3.3" ry="7.2" fill="#fff"/><ellipse cx="923.9" cy="1307.7" rx="3.3" ry="7.2" fill="#fff"/><ellipse cx="933" cy="1307.7" rx="3.3" ry="7.2" fill="#fff"/><ellipse cx="945.4" cy="1307.7" rx="3.3" ry="7.2" fill="#fff"/><ellipse cx="954.1" cy="1307.7" rx="3.3" ry="7.2" fill="#fff"/><ellipse cx="962.4" cy="1307.7" rx="3.3" ry="7.2" fill="#fff"/><ellipse cx="975.6" cy="1307.7" rx="3.3" ry="7.2" fill="#fff"/><ellipse cx="986.3" cy="1307.7" rx="3.3" ry="7.2" fill="#fff"/><ellipse cx="1006.1" cy="1307.7" rx="3.3" ry="7.2" fill="#fff"/><ellipse cx="1017.4" cy="1307.7" rx="3.3" ry="7.2" fill="#fff"/><ellipse cx="1030.9" cy="1307.7" rx="3.3" ry="7.2" fill="#fff"/><ellipse cx="1047.4" cy="1307.7" rx="3.3" ry="7.2" fill="#fff"/><ellipse cx="1055.9" cy="1307.7" rx="3.3" ry="7.2" fill="#fff"/><ellipse cx="1071.7" cy="1307.7" rx="3.3" ry="7.2" fill="#231815"/><ellipse cx="1091.4" cy="1307.7" rx="3.3" ry="7.2" fill="#fff"/><ellipse cx="1110.2" cy="1307.7" rx="3.3" ry="7.2" fill="#fff"/><ellipse cx="1121" cy="1307.7" rx="3.3" ry="7.2" fill="#fff"/><ellipse cx="1141.2" cy="1307.7" rx="3.3" ry="7.2" fill="#fff"/><ellipse cx="1149.6" cy="1307.7" rx="3.3" ry="7.2" fill="#fff"/><ellipse cx="1169.4" cy="1307.7" rx="3.3" ry="7.2" fill="#fff"/><ellipse cx="1187.4" cy="1307.7" rx="3.3" ry="7.2" fill="#fff"/></g>
<path d="M704,1329.9H1214.5" stroke="#262626" stroke-width="1.35"/>
<g stroke="#231815" stroke-width="1.5"><ellipse cx="719" cy="1329.9" rx="3.3" ry="7.2" fill="#fff"/><ellipse cx="728.9" cy="1329.9" rx="3.3" ry="7.2" fill="#fff"/><ellipse cx="737.6" cy="1329.9" rx="3.3" ry="7.2" fill="#fff"/><ellipse cx="749.8" cy="1329.9" rx="3.3" ry="7.2" fill="#fff"/><ellipse cx="758.6" cy="1329.9" rx="3.3" ry="7.2" fill="#fff"/><ellipse cx="773.8" cy="1329.9" rx="3.3" ry="7.2" fill="#fff"/><ellipse cx="790.4" cy="1329.9" rx="3.3" ry="7.2" fill="#fff"/><ellipse cx="802.3" cy="1329.9" rx="3.3" ry="7.2" fill="#fff"/><ellipse cx="810.9" cy="1329.9" rx="3.3" ry="7.2" fill="#fff"/><ellipse cx="823.8" cy="1329.9" rx="3.3" ry="7.2" fill="#fff"/><ellipse cx="832.3" cy="1329.9" rx="3.3" ry="7.2" fill="#fff"/><ellipse cx="844.9" cy="1329.9" rx="3.3" ry="7.2" fill="#fff"/><ellipse cx="855.4" cy="1329.9" rx="3.3" ry="7.2" fill="#fff"/><ellipse cx="865.8" cy="1329.9" rx="3.3" ry="7.2" fill="#fff"/><ellipse cx="877.4" cy="1329.9" rx="3.3" ry="7.2" fill="#fff"/><ellipse cx="889.3" cy="1329.9" rx="3.3" ry="7.2" fill="#fff"/><ellipse cx="898.3" cy="1329.9" rx="3.3" ry="7.2" fill="#fff"/><ellipse cx="909.9" cy="1329.9" rx="3.3" ry="7.2" fill="#fff"/><ellipse cx="923.9" cy="1329.9" rx="3.3" ry="7.2" fill="#fff"/><ellipse cx="933" cy="1329.9" rx="3.3" ry="7.2" fill="#fff"/><ellipse cx="945.4" cy="1329.9" rx="3.3" ry="7.2" fill="#fff"/><ellipse cx="954.1" cy="1329.9" rx="3.3" ry="7.2" fill="#fff"/><ellipse cx="962.4" cy="1329.9" rx="3.3" ry="7.2" fill="#fff"/><ellipse cx="975.6" cy="1329.9" rx="3.3" ry="7.2" fill="#fff"/><ellipse cx="986.3" cy="1329.9" rx="3.3" ry="7.2" fill="#fff"/><ellipse cx="1006.1" cy="1329.9" rx="3.3" ry="7.2" fill="#fff"/><ellipse cx="1017.4" cy="1329.9" rx="3.3" ry="7.2" fill="#fff"/><ellipse cx="1030.9" cy="1329.9" rx="3.3" ry="7.2" fill="#fff"/><ellipse cx="1047.4" cy="1329.9" rx="3.3" ry="7.2" fill="#fff"/><ellipse cx="1055.9" cy="1329.9" rx="3.3" ry="7.2" fill="#fff"/><ellipse cx="1071.7" cy="1329.9" rx="3.3" ry="7.2" fill="#231815"/><ellipse cx="1091.4" cy="1329.9" rx="3.3" ry="7.2" fill="#fff"/><ellipse cx="1110.2" cy="1329.9" rx="3.3" ry="7.2" fill="#fff"/><ellipse cx="1121" cy="1329.9" rx="3.3" ry="7.2" fill="#fff"/><ellipse cx="1141.2" cy="1329.9" rx="3.3" ry="7.2" fill="#fff"/><ellipse cx="1149.6" cy="1329.9" rx="3.3" ry="7.2" fill="#fff"/><ellipse cx="1169.4" cy="1329.9" rx="3.3" ry="7.2" fill="#fff"/><ellipse cx="1187.4" cy="1329.9" rx="3.3" ry="7.2" fill="#fff"/></g>
<path d="M704,1352.1H1214.5" stroke="#262626" stroke-width="1.35"/>
<g stroke="#231815" stroke-width="1.5"><ellipse cx="719" cy="1352.1" rx="3.3" ry="7.2" fill="#fff"/><ellipse cx="728.9" cy="1352.1" rx="3.3" ry="7.2" fill="#fff"/><ellipse cx="737.6" cy="1352.1" rx="3.3" ry="7.2" fill="#fff"/><ellipse cx="749.8" cy="1352.1" rx="3.3" ry="7.2" fill="#fff"/><ellipse cx="758.6" cy="1352.1" rx="3.3" ry="7.2" fill="#fff"/><ellipse cx="773.8" cy="1352.1" rx="3.3" ry="7.2" fill="#fff"/><ellipse cx="790.4" cy="1352.1" rx="3.3" ry="7.2" fill="#fff"/><ellipse cx="802.3" cy="1352.1" rx="3.3" ry="7.2" fill="#fff"/><ellipse cx="810.9" cy="1352.1" rx="3.3" ry="7.2" fill="#fff"/><ellipse cx="823.8" cy="1352.1" rx="3.3" ry="7.2" fill="#fff"/><ellipse cx="832.3" cy="1352.1" rx="3.3" ry="7.2" fill="#fff"/><ellipse cx="844.9" cy="1352.1" rx="3.3" ry="7.2" fill="#fff"/><ellipse cx="855.4" cy="1352.1" rx="3.3" ry="7.2" fill="#fff"/><ellipse cx="865.8" cy="1352.1" rx="3.3" ry="7.2" fill="#fff"/><ellipse cx="877.4" cy="1352.1" rx="3.3" ry="7.2" fill="#fff"/><ellipse cx="889.3" cy="1352.1" rx="3.3" ry="7.2" fill="#fff"/><ellipse cx="898.3" cy="1352.1" rx="3.3" ry="7.2" fill="#fff"/><ellipse cx="909.9" cy="1352.1" rx="3.3" ry="7.2" fill="#fff"/><ellipse cx="923.9" cy="1352.1" rx="3.3" ry="7.2" fill="#fff"/><ellipse cx="933" cy="1352.1" rx="3.3" ry="7.2" fill="#fff"/><ellipse cx="945.4" cy="1352.1" rx="3.3" ry="7.2" fill="#fff"/><ellipse cx="954.1" cy="1352.1" rx="3.3" ry="7.2" fill="#231815"/><ellipse cx="962.4" cy="1352.1" rx="3.3" ry="7.2" fill="#fff"/><ellipse cx="975.6" cy="1352.1" rx="3.3" ry="7.2" fill="#fff"/><ellipse cx="986.3" cy="1352.1" rx="3.3" ry="7.2" fill="#fff"/><ellipse cx="1006.1" cy="1352.1" rx="3.3" ry="7.2" fill="#fff"/><ellipse cx="1017.4" cy="1352.1" rx="3.3" ry="7.2" fill="#fff"/><ellipse cx="1030.9" cy="1352.1" rx="3.3" ry="7.2" fill="#fff"/><ellipse cx="1047.4" cy="1352.1" rx="3.3" ry="7.2" fill="#fff"/><ellipse cx="1055.9" cy="1352.1" rx="3.3" ry="7.2" fill="#fff"/><ellipse cx="1071.7" cy="1352.1" rx="3.3" ry="7.2" fill="#fff"/><ellipse cx="1091.4" cy="1352.1" rx="3.3" ry="7.2" fill="#fff"/><ellipse cx="1110.2" cy="1352.1" rx="3.3" ry="7.2" fill="#fff"/><ellipse cx="1121" cy="1352.1" rx="3.3" ry="7.2" fill="#fff"/><ellipse cx="1141.2" cy="1352.1" rx="3.3" ry="7.2" fill="#fff"/><ellipse cx="1149.6" cy="1352.1" rx="3.3" ry="7.2" fill="#fff"/><ellipse cx="1169.4" cy="1352.1" rx="3.3" ry="7.2" fill="#fff"/><ellipse cx="1187.4" cy="1352.1" rx="3.3" ry="7.2" fill="#fff"/></g>
<path d="M704,1374.3H1214.5" stroke="#262626" stroke-width="1.35"/>
<g stroke="#231815" stroke-width="1.5"><ellipse cx="719" cy="1374.3" rx="3.3" ry="7.2" fill="#fff"/><ellipse cx="728.9" cy="1374.3" rx="3.3" ry="7.2" fill="#fff"/><ellipse cx="737.6" cy="1374.3" rx="3.3" ry="7.2" fill="#fff"/><ellipse cx="749.8" cy="1374.3" rx="3.3" ry="7.2" fill="#fff"/><ellipse cx="758.6" cy="1374.3" rx="3.3" ry="7.2" fill="#fff"/><ellipse cx="773.8" cy="1374.3" rx="3.3" ry="7.2" fill="#fff"/><ellipse cx="790.4" cy="1374.3" rx="3.3" ry="7.2" fill="#fff"/><ellipse cx="802.3" cy="1374.3" rx="3.3" ry="7.2" fill="#fff"/><ellipse cx="810.9" cy="1374.3" rx="3.3" ry="7.2" fill="#fff"/><ellipse cx="823.8" cy="1374.3" rx="3.3" ry="7.2" fill="#fff"/><ellipse cx="832.3" cy="1374.3" rx="3.3" ry="7.2" fill="#fff"/><ellipse cx="844.9" cy="1374.3" rx="3.3" ry="7.2" fill="#fff"/><ellipse cx="855.4" cy="1374.3" rx="3.3" ry="7.2" fill="#fff"/><ellipse cx="865.8" cy="1374.3" rx="3.3" ry="7.2" fill="#fff"/><ellipse cx="877.4" cy="1374.3" rx="3.3" ry="7.2" fill="#fff"/><ellipse cx="889.3" cy="1374.3" rx="3.3" ry="7.2" fill="#fff"/><ellipse cx="898.3" cy="1374.3" rx="3.3" ry="7.2" fill="#fff"/><ellipse cx="909.9" cy="1374.3" rx="3.3" ry="7.2" fill="#231815"/><ellipse cx="923.9" cy="1374.3" rx="3.3" ry="7.2" fill="#fff"/><ellipse cx="933" cy="1374.3" rx="3.3" ry="7.2" fill="#fff"/><ellipse cx="945.4" cy="1374.3" rx="3.3" ry="7.2" fill="#fff"/><ellipse cx="954.1" cy="1374.3" rx="3.3" ry="7.2" fill="#fff"/><ellipse cx="962.4" cy="1374.3" rx="3.3" ry="7.2" fill="#fff"/><ellipse cx="975.6" cy="1374.3" rx="3.3" ry="7.2" fill="#fff"/><ellipse cx="986.3" cy="1374.3" rx="3.3" ry="7.2" fill="#fff"/><ellipse cx="1006.1" cy="1374.3" rx="3.3" ry="7.2" fill="#fff"/><ellipse cx="1017.4" cy="1374.3" rx="3.3" ry="7.2" fill="#fff"/><ellipse cx="1030.9" cy="1374.3" rx="3.3" ry="7.2" fill="#fff"/><ellipse cx="1047.4" cy="1374.3" rx="3.3" ry="7.2" fill="#fff"/><ellipse cx="1055.9" cy="1374.3" rx="3.3" ry="7.2" fill="#fff"/><ellipse cx="1071.7" cy="1374.3" rx="3.3" ry="7.2" fill="#fff"/><ellipse cx="1091.4" cy="1374.3" rx="3.3" ry="7.2" fill="#fff"/><ellipse cx="1110.2" cy="1374.3" rx="3.3" ry="7.2" fill="#fff"/><ellipse cx="1121" cy="1374.3" rx="3.3" ry="7.2" fill="#fff"/><ellipse cx="1141.2" cy="1374.3" rx="3.3" ry="7.2" fill="#fff"/><ellipse cx="1149.6" cy="1374.3" rx="3.3" ry="7.2" fill="#fff"/><ellipse cx="1169.4" cy="1374.3" rx="3.3" ry="7.2" fill="#fff"/><ellipse cx="1187.4" cy="1374.3" rx="3.3" ry="7.2" fill="#fff"/></g>
<text x="639" y="1291" font-size="24.2">Con</text>
<path d="M705,1405H1215.5" stroke="#262626" stroke-width="1.35"/>
<g stroke="#231815" stroke-width="1.5"><ellipse cx="720" cy="1405" rx="3.3" ry="7.2" fill="#fff"/><ellipse cx="729.9" cy="1405" rx="3.3" ry="7.2" fill="#fff"/><ellipse cx="738.6" cy="1405" rx="3.3" ry="7.2" fill="#fff"/><ellipse cx="750.8" cy="1405" rx="3.3" ry="7.2" fill="#fff"/><ellipse cx="759.6" cy="1405" rx="3.3" ry="7.2" fill="#fff"/><ellipse cx="774.8" cy="1405" rx="3.3" ry="7.2" fill="#fff"/><ellipse cx="791.4" cy="1405" rx="3.3" ry="7.2" fill="#fff"/><ellipse cx="803.3" cy="1405" rx="3.3" ry="7.2" fill="#fff"/><ellipse cx="811.9" cy="1405" rx="3.3" ry="7.2" fill="#fff"/><ellipse cx="824.8" cy="1405" rx="3.3" ry="7.2" fill="#fff"/><ellipse cx="833.3" cy="1405" rx="3.3" ry="7.2" fill="#fff"/><ellipse cx="845.9" cy="1405" rx="3.3" ry="7.2" fill="#fff"/><ellipse cx="856.4" cy="1405" rx="3.3" ry="7.2" fill="#fff"/><ellipse cx="866.8" cy="1405" rx="3.3" ry="7.2" fill="#fff"/><ellipse cx="878.4" cy="1405" rx="3.3" ry="7.2" fill="#fff"/><ellipse cx="890.3" cy="1405" rx="3.3" ry="7.2" fill="#fff"/><ellipse cx="899.3" cy="1405" rx="3.3" ry="7.2" fill="#fff"/><ellipse cx="910.9" cy="1405" rx="3.3" ry="7.2" fill="#fff"/><ellipse cx="924.9" cy="1405" rx="3.3" ry="7.2" fill="#fff"/><ellipse cx="934" cy="1405" rx="3.3" ry="7.2" fill="#fff"/><ellipse cx="946.4" cy="1405" rx="3.3" ry="7.2" fill="#fff"/><ellipse cx="955.1" cy="1405" rx="3.3" ry="7.2" fill="#fff"/><ellipse cx="963.4" cy="1405" rx="3.3" ry="7.2" fill="#fff"/><ellipse cx="976.6" cy="1405" rx="3.3" ry="7.2" fill="#fff"/><ellipse cx="987.3" cy="1405" rx="3.3" ry="7.2" fill="#fff"/><ellipse cx="1007.1" cy="1405" rx="3.3" ry="7.2" fill="#fff"/><ellipse cx="1018.4" cy="1405" rx="3.3" ry="7.2" fill="#fff"/><ellipse cx="1031.9" cy="1405" rx="3.3" ry="7.2" fill="#fff"/><ellipse cx="1048.4" cy="1405" rx="3.3" ry="7.2" fill="#fff"/><ellipse cx="1056.9" cy="1405" rx="3.3" ry="7.2" fill="#fff"/><ellipse cx="1072.7" cy="1405" rx="3.3" ry="7.2" fill="#fff"/><ellipse cx="1092.4" cy="1405" rx="3.3" ry="7.2" fill="#fff"/><ellipse cx="1111.2" cy="1405" rx="3.3" ry="7.2" fill="#fff"/><ellipse cx="1122" cy="1405" rx="3.3" ry="7.2" fill="#fff"/><ellipse cx="1142.2" cy="1405" rx="3.3" ry="7.2" fill="#fff"/><ellipse cx="1150.6" cy="1405" rx="3.3" ry="7.2" fill="#fff"/><ellipse cx="1170.4" cy="1405" rx="3.3" ry="7.2" fill="#fff"/><ellipse cx="1188.4" cy="1405" rx="3.3" ry="7.2" fill="#fff"/></g>
<path d="M705,1426.37H1215.5" stroke="#262626" stroke-width="1.35"/>
<g stroke="#231815" stroke-width="1.5"><ellipse cx="720" cy="1426.37" rx="3.3" ry="7.2" fill="#fff"/><ellipse cx="729.9" cy="1426.37" rx="3.3" ry="7.2" fill="#fff"/><ellipse cx="738.6" cy="1426.37" rx="3.3" ry="7.2" fill="#fff"/><ellipse cx="750.8" cy="1426.37" rx="3.3" ry="7.2" fill="#fff"/><ellipse cx="759.6" cy="1426.37" rx="3.3" ry="7.2" fill="#fff"/><ellipse cx="774.8" cy="1426.37" rx="3.3" ry="7.2" fill="#fff"/><ellipse cx="791.4" cy="1426.37" rx="3.3" ry="7.2" fill="#fff"/><ellipse cx="803.3" cy="1426.37" rx="3.3" ry="7.2" fill="#fff"/><ellipse cx="811.9" cy="1426.37" rx="3.3" ry="7.2" fill="#fff"/><ellipse cx="824.8" cy="1426.37" rx="3.3" ry="7.2" fill="#fff"/><ellipse cx="833.3" cy="1426.37" rx="3.3" ry="7.2" fill="#fff"/><ellipse cx="845.9" cy="1426.37" rx="3.3" ry="7.2" fill="#fff"/><ellipse cx="856.4" cy="1426.37" rx="3.3" ry="7.2" fill="#fff"/><ellipse cx="866.8" cy="1426.37" rx="3.3" ry="7.2" fill="#fff"/><ellipse cx="878.4" cy="1426.37" rx="3.3" ry="7.2" fill="#fff"/><ellipse cx="890.3" cy="1426.37" rx="3.3" ry="7.2" fill="#fff"/><ellipse cx="899.3" cy="1426.37" rx="3.3" ry="7.2" fill="#fff"/><ellipse cx="910.9" cy="1426.37" rx="3.3" ry="7.2" fill="#fff"/><ellipse cx="924.9" cy="1426.37" rx="3.3" ry="7.2" fill="#fff"/><ellipse cx="934" cy="1426.37" rx="3.3" ry="7.2" fill="#fff"/><ellipse cx="946.4" cy="1426.37" rx="3.3" ry="7.2" fill="#fff"/><ellipse cx="955.1" cy="1426.37" rx="3.3" ry="7.2" fill="#fff"/><ellipse cx="963.4" cy="1426.37" rx="3.3" ry="7.2" fill="#fff"/><ellipse cx="976.6" cy="1426.37" rx="3.3" ry="7.2" fill="#fff"/><ellipse cx="987.3" cy="1426.37" rx="3.3" ry="7.2" fill="#fff"/><ellipse cx="1007.1" cy="1426.37" rx="3.3" ry="7.2" fill="#fff"/><ellipse cx="1018.4" cy="1426.37" rx="3.3" ry="7.2" fill="#fff"/><ellipse cx="1031.9" cy="1426.37" rx="3.3" ry="7.2" fill="#fff"/><ellipse cx="1048.4" cy="1426.37" rx="3.3" ry="7.2" fill="#fff"/><ellipse cx="1056.9" cy="1426.37" rx="3.3" ry="7.2" fill="#fff"/><ellipse cx="1072.7" cy="1426.37" rx="3.3" ry="7.2" fill="#fff"/><ellipse cx="1092.4" cy="1426.37" rx="3.3" ry="7.2" fill="#fff"/><ellipse cx="1111.2" cy="1426.37" rx="3.3" ry="7.2" fill="#fff"/><ellipse cx="1122" cy="1426.37" rx="3.3" ry="7.2" fill="#fff"/><ellipse cx="1142.2" cy="1426.37" rx="3.3" ry="7.2" fill="#fff"/><ellipse cx="1150.6" cy="1426.37" rx="3.3" ry="7.2" fill="#fff"/><ellipse cx="1170.4" cy="1426.37" rx="3.3" ry="7.2" fill="#fff"/><ellipse cx="1188.4" cy="1426.37" rx="3.3" ry="7.2" fill="#231815"/></g>
<path d="M705,1447.74H1215.5" stroke="#262626" stroke-width="1.35"/>
<g stroke="#231815" stroke-width="1.5"><ellipse cx="720" cy="1447.74" rx="3.3" ry="7.2" fill="#fff"/><ellipse cx="729.9" cy="1447.74" rx="3.3" ry="7.2" fill="#fff"/><ellipse cx="738.6" cy="1447.74" rx="3.3" ry="7.2" fill="#fff"/><ellipse cx="750.8" cy="1447.74" rx="3.3" ry="7.2" fill="#fff"/><ellipse cx="759.6" cy="1447.74" rx="3.3" ry="7.2" fill="#fff"/><ellipse cx="774.8" cy="1447.74" rx="3.3" ry="7.2" fill="#fff"/><ellipse cx="791.4" cy="1447.74" rx="3.3" ry="7.2" fill="#fff"/><ellipse cx="803.3" cy="1447.74" rx="3.3" ry="7.2" fill="#fff"/><ellipse cx="811.9" cy="1447.74" rx="3.3" ry="7.2" fill="#fff"/><ellipse cx="824.8" cy="1447.74" rx="3.3" ry="7.2" fill="#fff"/><ellipse cx="833.3" cy="1447.74" rx="3.3" ry="7.2" fill="#fff"/><ellipse cx="845.9" cy="1447.74" rx="3.3" ry="7.2" fill="#fff"/><ellipse cx="856.4" cy="1447.74" rx="3.3" ry="7.2" fill="#fff"/><ellipse cx="866.8" cy="1447.74" rx="3.3" ry="7.2" fill="#fff"/><ellipse cx="878.4" cy="1447.74" rx="3.3" ry="7.2" fill="#fff"/><ellipse cx="890.3" cy="1447.74" rx="3.3" ry="7.2" fill="#fff"/><ellipse cx="899.3" cy="1447.74" rx="3.3" ry="7.2" fill="#fff"/><ellipse cx="910.9" cy="1447.74" rx="3.3" ry="7.2" fill="#fff"/><ellipse cx="924.9" cy="1447.74" rx="3.3" ry="7.2" fill="#fff"/><ellipse cx="934" cy="1447.74" rx="3.3" ry="7.2" fill="#fff"/><ellipse cx="946.4" cy="1447.74" rx="3.3" ry="7.2" fill="#fff"/><ellipse cx="955.1" cy="1447.74" rx="3.3" ry="7.2" fill="#fff"/><ellipse cx="963.4" cy="1447.74" rx="3.3" ry="7.2" fill="#fff"/><ellipse cx="976.6" cy="1447.74" rx="3.3" ry="7.2" fill="#fff"/><ellipse cx="987.3" cy="1447.74" rx="3.3" ry="7.2" fill="#fff"/><ellipse cx="1007.1" cy="1447.74" rx="3.3" ry="7.2" fill="#fff"/><ellipse cx="1018.4" cy="1447.74" rx="3.3" ry="7.2" fill="#fff"/><ellipse cx="1031.9" cy="1447.74" rx="3.3" ry="7.2" fill="#fff"/><ellipse cx="1048.4" cy="1447.74" rx="3.3" ry="7.2" fill="#fff"/><ellipse cx="1056.9" cy="1447.74" rx="3.3" ry="7.2" fill="#fff"/><ellipse cx="1072.7" cy="1447.74" rx="3.3" ry="7.2" fill="#fff"/><ellipse cx="1092.4" cy="1447.74" rx="3.3" ry="7.2" fill="#fff"/><ellipse cx="1111.2" cy="1447.74" rx="3.3" ry="7.2" fill="#fff"/><ellipse cx="1122" cy="1447.74" rx="3.3" ry="7.2" fill="#fff"/><ellipse cx="1142.2" cy="1447.74" rx="3.3" ry="7.2" fill="#fff"/><ellipse cx="1150.6" cy="1447.74" rx="3.3" ry="7.2" fill="#fff"/><ellipse cx="1170.4" cy="1447.74" rx="3.3" ry="7.2" fill="#fff"/><ellipse cx="1188.4" cy="1447.74" rx="3.3" ry="7.2" fill="#231815"/></g>
<path d="M705,1469.11H1215.5" stroke="#262626" stroke-width="1.35"/>
<g stroke="#231815" stroke-width="1.5"><ellipse cx="720" cy="1469.11" rx="3.3" ry="7.2" fill="#fff"/><ellipse cx="729.9" cy="1469.11" rx="3.3" ry="7.2" fill="#fff"/><ellipse cx="738.6" cy="1469.11" rx="3.3" ry="7.2" fill="#fff"/><ellipse cx="750.8" cy="1469.11" rx="3.3" ry="7.2" fill="#231815"/><ellipse cx="759.6" cy="1469.11" rx="3.3" ry="7.2" fill="#fff"/><ellipse cx="774.8" cy="1469.11" rx="3.3" ry="7.2" fill="#fff"/><ellipse cx="791.4" cy="1469.11" rx="3.3" ry="7.2" fill="#fff"/><ellipse cx="803.3" cy="1469.11" rx="3.3" ry="7.2" fill="#fff"/><ellipse cx="811.9" cy="1469.11" rx="3.3" ry="7.2" fill="#fff"/><ellipse cx="824.8" cy="1469.11" rx="3.3" ry="7.2" fill="#fff"/><ellipse cx="833.3" cy="1469.11" rx="3.3" ry="7.2" fill="#fff"/><ellipse cx="845.9" cy="1469.11" rx="3.3" ry="7.2" fill="#fff"/><ellipse cx="856.4" cy="1469.11" rx="3.3" ry="7.2" fill="#fff"/><ellipse cx="866.8" cy="1469.11" rx="3.3" ry="7.2" fill="#fff"/><ellipse cx="878.4" cy="1469.11" rx="3.3" ry="7.2" fill="#fff"/><ellipse cx="890.3" cy="1469.11" rx="3.3" ry="7.2" fill="#fff"/><ellipse cx="899.3" cy="1469.11" rx="3.3" ry="7.2" fill="#fff"/><ellipse cx="910.9" cy="1469.11" rx="3.3" ry="7.2" fill="#fff"/><ellipse cx="924.9" cy="1469.11" rx="3.3" ry="7.2" fill="#fff"/><ellipse cx="934" cy="1469.11" rx="3.3" ry="7.2" fill="#fff"/><ellipse cx="946.4" cy="1469.11" rx="3.3" ry="7.2" fill="#fff"/><ellipse cx="955.1" cy="1469.11" rx="3.3" ry="7.2" fill="#fff"/><ellipse cx="963.4" cy="1469.11" rx="3.3" ry="7.2" fill="#fff"/><ellipse cx="976.6" cy="1469.11" rx="3.3" ry="7.2" fill="#fff"/><ellipse cx="987.3" cy="1469.11" rx="3.3" ry="7.2" fill="#fff"/><ellipse cx="1007.1" cy="1469.11" rx="3.3" ry="7.2" fill="#fff"/><ellipse cx="1018.4" cy="1469.11" rx="3.3" ry="7.2" fill="#fff"/><ellipse cx="1031.9" cy="1469.11" rx="3.3" ry="7.2" fill="#fff"/><ellipse cx="1048.4" cy="1469.11" rx="3.3" ry="7.2" fill="#fff"/><ellipse cx="1056.9" cy="1469.11" rx="3.3" ry="7.2" fill="#fff"/><ellipse cx="1072.7" cy="1469.11" rx="3.3" ry="7.2" fill="#fff"/><ellipse cx="1092.4" cy="1469.11" rx="3.3" ry="7.2" fill="#fff"/><ellipse cx="1111.2" cy="1469.11" rx="3.3" ry="7.2" fill="#fff"/><ellipse cx="1122" cy="1469.11" rx="3.3" ry="7.2" fill="#fff"/><ellipse cx="1142.2" cy="1469.11" rx="3.3" ry="7.2" fill="#fff"/><ellipse cx="1150.6" cy="1469.11" rx="3.3" ry="7.2" fill="#fff"/><ellipse cx="1170.4" cy="1469.11" rx="3.3" ry="7.2" fill="#fff"/><ellipse cx="1188.4" cy="1469.11" rx="3.3" ry="7.2" fill="#fff"/></g>
<path d="M705,1490.48H1215.5" stroke="#262626" stroke-width="1.35"/>
<g stroke="#231815" stroke-width="1.5"><ellipse cx="720" cy="1490.48" rx="3.3" ry="7.2" fill="#fff"/><ellipse cx="729.9" cy="1490.48" rx="3.3" ry="7.2" fill="#fff"/><ellipse cx="738.6" cy="1490.48" rx="3.3" ry="7.2" fill="#fff"/><ellipse cx="750.8" cy="1490.48" rx="3.3" ry="7.2" fill="#231815"/><ellipse cx="759.6" cy="1490.48" rx="3.3" ry="7.2" fill="#fff"/><ellipse cx="774.8" cy="1490.48" rx="3.3" ry="7.2" fill="#fff"/><ellipse cx="791.4" cy="1490.48" rx="3.3" ry="7.2" fill="#fff"/><ellipse cx="803.3" cy="1490.48" rx="3.3" ry="7.2" fill="#fff"/><ellipse cx="811.9" cy="1490.48" rx="3.3" ry="7.2" fill="#fff"/><ellipse cx="824.8" cy="1490.48" rx="3.3" ry="7.2" fill="#fff"/><ellipse cx="833.3" cy="1490.48" rx="3.3" ry="7.2" fill="#fff"/><ellipse cx="845.9" cy="1490.48" rx="3.3" ry="7.2" fill="#fff"/><ellipse cx="856.4" cy="1490.48" rx="3.3" ry="7.2" fill="#fff"/><ellipse cx="866.8" cy="1490.48" rx="3.3" ry="7.2" fill="#fff"/><ellipse cx="878.4" cy="1490.48" rx="3.3" ry="7.2" fill="#fff"/><ellipse cx="890.3" cy="1490.48" rx="3.3" ry="7.2" fill="#fff"/><ellipse cx="899.3" cy="1490.48" rx="3.3" ry="7.2" fill="#fff"/><ellipse cx="910.9" cy="1490.48" rx="3.3" ry="7.2" fill="#fff"/><ellipse cx="924.9" cy="1490.48" rx="3.3" ry="7.2" fill="#fff"/><ellipse cx="934" cy="1490.48" rx="3.3" ry="7.2" fill="#fff"/><ellipse cx="946.4" cy="1490.48" rx="3.3" ry="7.2" fill="#fff"/><ellipse cx="955.1" cy="1490.48" rx="3.3" ry="7.2" fill="#fff"/><ellipse cx="963.4" cy="1490.48" rx="3.3" ry="7.2" fill="#fff"/><ellipse cx="976.6" cy="1490.48" rx="3.3" ry="7.2" fill="#fff"/><ellipse cx="987.3" cy="1490.48" rx="3.3" ry="7.2" fill="#fff"/><ellipse cx="1007.1" cy="1490.48" rx="3.3" ry="7.2" fill="#fff"/><ellipse cx="1018.4" cy="1490.48" rx="3.3" ry="7.2" fill="#fff"/><ellipse cx="1031.9" cy="1490.48" rx="3.3" ry="7.2" fill="#fff"/><ellipse cx="1048.4" cy="1490.48" rx="3.3" ry="7.2" fill="#fff"/><ellipse cx="1056.9" cy="1490.48" rx="3.3" ry="7.2" fill="#fff"/><ellipse cx="1072.7" cy="1490.48" rx="3.3" ry="7.2" fill="#fff"/><ellipse cx="1092.4" cy="1490.48" rx="3.3" ry="7.2" fill="#fff"/><ellipse cx="1111.2" cy="1490.48" rx="3.3" ry="7.2" fill="#fff"/><ellipse cx="1122" cy="1490.48" rx="3.3" ry="7.2" fill="#fff"/><ellipse cx="1142.2" cy="1490.48" rx="3.3" ry="7.2" fill="#fff"/><ellipse cx="1150.6" cy="1490.48" rx="3.3" ry="7.2" fill="#fff"/><ellipse cx="1170.4" cy="1490.48" rx="3.3" ry="7.2" fill="#fff"/><ellipse cx="1188.4" cy="1490.48" rx="3.3" ry="7.2" fill="#fff"/></g>
<path d="M705,1511.85H1215.5" stroke="#262626" stroke-width="1.35"/>
<g stroke="#231815" stroke-width="1.5"><ellipse cx="720" cy="1511.85" rx="3.3" ry="7.2" fill="#fff"/><ellipse cx="729.9" cy="1511.85" rx="3.3" ry="7.2" fill="#fff"/><ellipse cx="738.6" cy="1511.85" rx="3.3" ry="7.2" fill="#fff"/><ellipse cx="750.8" cy="1511.85" rx="3.3" ry="7.2" fill="#231815"/><ellipse cx="759.6" cy="1511.85" rx="3.3" ry="7.2" fill="#fff"/><ellipse cx="774.8" cy="1511.85" rx="3.3" ry="7.2" fill="#fff"/><ellipse cx="791.4" cy="1511.85" rx="3.3" ry="7.2" fill="#fff"/><ellipse cx="803.3" cy="1511.85" rx="3.3" ry="7.2" fill="#fff"/><ellipse cx="811.9" cy="1511.85" rx="3.3" ry="7.2" fill="#fff"/><ellipse cx="824.8" cy="1511.85" rx="3.3" ry="7.2" fill="#fff"/><ellipse cx="833.3" cy="1511.85" rx="3.3" ry="7.2" fill="#fff"/><ellipse cx="845.9" cy="1511.85" rx="3.3" ry="7.2" fill="#fff"/><ellipse cx="856.4" cy="1511.85" rx="3.3" ry="7.2" fill="#fff"/><ellipse cx="866.8" cy="1511.85" rx="3.3" ry="7.2" fill="#fff"/><ellipse cx="878.4" cy="1511.85" rx="3.3" ry="7.2" fill="#fff"/><ellipse cx="890.3" cy="1511.85" rx="3.3" ry="7.2" fill="#fff"/><ellipse cx="899.3" cy="1511.85" rx="3.3" ry="7.2" fill="#fff"/><ellipse cx="910.9" cy="1511.85" rx="3.3" ry="7.2" fill="#fff"/><ellipse cx="924.9" cy="1511.85" rx="3.3" ry="7.2" fill="#fff"/><ellipse cx="934" cy="1511.85" rx="3.3" ry="7.2" fill="#fff"/><ellipse cx="946.4" cy="1511.85" rx="3.3" ry="7.2" fill="#fff"/><ellipse cx="955.1" cy="1511.85" rx="3.3" ry="7.2" fill="#fff"/><ellipse cx="963.4" cy="1511.85" rx="3.3" ry="7.2" fill="#fff"/><ellipse cx="976.6" cy="1511.85" rx="3.3" ry="7.2" fill="#fff"/><ellipse cx="987.3" cy="1511.85" rx="3.3" ry="7.2" fill="#fff"/><ellipse cx="1007.1" cy="1511.85" rx="3.3" ry="7.2" fill="#fff"/><ellipse cx="1018.4" cy="1511.85" rx="3.3" ry="7.2" fill="#fff"/><ellipse cx="1031.9" cy="1511.85" rx="3.3" ry="7.2" fill="#fff"/><ellipse cx="1048.4" cy="1511.85" rx="3.3" ry="7.2" fill="#fff"/><ellipse cx="1056.9" cy="1511.85" rx="3.3" ry="7.2" fill="#fff"/><ellipse cx="1072.7" cy="1511.85" rx="3.3" ry="7.2" fill="#fff"/><ellipse cx="1092.4" cy="1511.85" rx="3.3" ry="7.2" fill="#fff"/><ellipse cx="1111.2" cy="1511.85" rx="3.3" ry="7.2" fill="#fff"/><ellipse cx="1122" cy="1511.85" rx="3.3" ry="7.2" fill="#fff"/><ellipse cx="1142.2" cy="1511.85" rx="3.3" ry="7.2" fill="#fff"/><ellipse cx="1150.6" cy="1511.85" rx="3.3" ry="7.2" fill="#fff"/><ellipse cx="1170.4" cy="1511.85" rx="3.3" ry="7.2" fill="#fff"/><ellipse cx="1188.4" cy="1511.85" rx="3.3" ry="7.2" fill="#fff"/></g>
<path d="M705,1533.22H1215.5" stroke="#262626" stroke-width="1.35"/>
<g stroke="#231815" stroke-width="1.5"><ellipse cx="720" cy="1533.22" rx="3.3" ry="7.2" fill="#fff"/><ellipse cx="729.9" cy="1533.22" rx="3.3" ry="7.2" fill="#fff"/><ellipse cx="738.6" cy="1533.22" rx="3.3" ry="7.2" fill="#231815"/><ellipse cx="750.8" cy="1533.22" rx="3.3" ry="7.2" fill="#fff"/><ellipse cx="759.6" cy="1533.22" rx="3.3" ry="7.2" fill="#fff"/><ellipse cx="774.8" cy="1533.22" rx="3.3" ry="7.2" fill="#fff"/><ellipse cx="791.4" cy="1533.22" rx="3.3" ry="7.2" fill="#fff"/><ellipse cx="803.3" cy="1533.22" rx="3.3" ry="7.2" fill="#fff"/><ellipse cx="811.9" cy="1533.22" rx="3.3" ry="7.2" fill="#fff"/><ellipse cx="824.8" cy="1533.22" rx="3.3" ry="7.2" fill="#fff"/><ellipse cx="833.3" cy="1533.22" rx="3.3" ry="7.2" fill="#fff"/><ellipse cx="845.9" cy="1533.22" rx="3.3" ry="7.2" fill="#fff"/><ellipse cx="856.4" cy="1533.22" rx="3.3" ry="7.2" fill="#fff"/><ellipse cx="866.8" cy="1533.22" rx="3.3" ry="7.2" fill="#fff"/><ellipse cx="878.4" cy="1533.22" rx="3.3" ry="7.2" fill="#fff"/><ellipse cx="890.3" cy="1533.22" rx="3.3" ry="7.2" fill="#fff"/><ellipse cx="899.3" cy="1533.22" rx="3.3" ry="7.2" fill="#fff"/><ellipse cx="910.9" cy="1533.22" rx="3.3" ry="7.2" fill="#fff"/><ellipse cx="924.9" cy="1533.22" rx="3.3" ry="7.2" fill="#fff"/><ellipse cx="934" cy="1533.22" rx="3.3" ry="7.2" fill="#fff"/><ellipse cx="946.4" cy="1533.22" rx="3.3" ry="7.2" fill="#fff"/><ellipse cx="955.1" cy="1533.22" rx="3.3" ry="7.2" fill="#fff"/><ellipse cx="963.4" cy="1533.22" rx="3.3" ry="7.2" fill="#fff"/><ellipse cx="976.6" cy="1533.22" rx="3.3" ry="7.2" fill="#fff"/><ellipse cx="987.3" cy="1533.22" rx="3.3" ry="7.2" fill="#fff"/><ellipse cx="1007.1" cy="1533.22" rx="3.3" ry="7.2" fill="#fff"/><ellipse cx="1018.4" cy="1533.22" rx="3.3" ry="7.2" fill="#fff"/><ellipse cx="1031.9" cy="1533.22" rx="3.3" ry="7.2" fill="#fff"/><ellipse cx="1048.4" cy="1533.22" rx="3.3" ry="7.2" fill="#fff"/><ellipse cx="1056.9" cy="1533.22" rx="3.3" ry="7.2" fill="#fff"/><ellipse cx="1072.7" cy="1533.22" rx="3.3" ry="7.2" fill="#fff"/><ellipse cx="1092.4" cy="1533.22" rx="3.3" ry="7.2" fill="#fff"/><ellipse cx="1111.2" cy="1533.22" rx="3.3" ry="7.2" fill="#fff"/><ellipse cx="1122" cy="1533.22" rx="3.3" ry="7.2" fill="#fff"/><ellipse cx="1142.2" cy="1533.22" rx="3.3" ry="7.2" fill="#fff"/><ellipse cx="1150.6" cy="1533.22" rx="3.3" ry="7.2" fill="#fff"/><ellipse cx="1170.4" cy="1533.22" rx="3.3" ry="7.2" fill="#fff"/><ellipse cx="1188.4" cy="1533.22" rx="3.3" ry="7.2" fill="#fff"/></g>
<path d="M705,1554.59H1215.5" stroke="#262626" stroke-width="1.35"/>
<g stroke="#231815" stroke-width="1.5"><ellipse cx="720" cy="1554.59" rx="3.3" ry="7.2" fill="#fff"/><ellipse cx="729.9" cy="1554.59" rx="3.3" ry="7.2" fill="#231815"/><ellipse cx="738.6" cy="1554.59" rx="3.3" ry="7.2" fill="#fff"/><ellipse cx="750.8" cy="1554.59" rx="3.3" ry="7.2" fill="#fff"/><ellipse cx="759.6" cy="1554.59" rx="3.3" ry="7.2" fill="#fff"/><ellipse cx="774.8" cy="1554.59" rx="3.3" ry="7.2" fill="#fff"/><ellipse cx="791.4" cy="1554.59" rx="3.3" ry="7.2" fill="#fff"/><ellipse cx="803.3" cy="1554.59" rx="3.3" ry="7.2" fill="#fff"/><ellipse cx="811.9" cy="1554.59" rx="3.3" ry="7.2" fill="#fff"/><ellipse cx="824.8" cy="1554.59" rx="3.3" ry="7.2" fill="#fff"/><ellipse cx="833.3" cy="1554.59" rx="3.3" ry="7.2" fill="#fff"/><ellipse cx="845.9" cy="1554.59" rx="3.3" ry="7.2" fill="#fff"/><ellipse cx="856.4" cy="1554.59" rx="3.3" ry="7.2" fill="#fff"/><ellipse cx="866.8" cy="1554.59" rx="3.3" ry="7.2" fill="#fff"/><ellipse cx="878.4" cy="1554.59" rx="3.3" ry="7.2" fill="#fff"/><ellipse cx="890.3" cy="1554.59" rx="3.3" ry="7.2" fill="#fff"/><ellipse cx="899.3" cy="1554.59" rx="3.3" ry="7.2" fill="#fff"/><ellipse cx="910.9" cy="1554.59" rx="3.3" ry="7.2" fill="#fff"/><ellipse cx="924.9" cy="1554.59" rx="3.3" ry="7.2" fill="#fff"/><ellipse cx="934" cy="1554.59" rx="3.3" ry="7.2" fill="#fff"/><ellipse cx="946.4" cy="1554.59" rx="3.3" ry="7.2" fill="#fff"/><ellipse cx="955.1" cy="1554.59" rx="3.3" ry="7.2" fill="#fff"/><ellipse cx="963.4" cy="1554.59" rx="3.3" ry="7.2" fill="#fff"/><ellipse cx="976.6" cy="1554.59" rx="3.3" ry="7.2" fill="#fff"/><ellipse cx="987.3" cy="1554.59" rx="3.3" ry="7.2" fill="#fff"/><ellipse cx="1007.1" cy="1554.59" rx="3.3" ry="7.2" fill="#fff"/><ellipse cx="1018.4" cy="1554.59" rx="3.3" ry="7.2" fill="#fff"/><ellipse cx="1031.9" cy="1554.59" rx="3.3" ry="7.2" fill="#fff"/><ellipse cx="1048.4" cy="1554.59" rx="3.3" ry="7.2" fill="#fff"/><ellipse cx="1056.9" cy="1554.59" rx="3.3" ry="7.2" fill="#fff"/><ellipse cx="1072.7" cy="1554.59" rx="3.3" ry="7.2" fill="#fff"/><ellipse cx="1092.4" cy="1554.59" rx="3.3" ry="7.2" fill="#fff"/><ellipse cx="1111.2" cy="1554.59" rx="3.3" ry="7.2" fill="#fff"/><ellipse cx="1122" cy="1554.59" rx="3.3" ry="7.2" fill="#fff"/><ellipse cx="1142.2" cy="1554.59" rx="3.3" ry="7.2" fill="#fff"/><ellipse cx="1150.6" cy="1554.59" rx="3.3" ry="7.2" fill="#fff"/><ellipse cx="1170.4" cy="1554.59" rx="3.3" ry="7.2" fill="#fff"/><ellipse cx="1188.4" cy="1554.59" rx="3.3" ry="7.2" fill="#fff"/></g>
<path d="M705,1575.96H1215.5" stroke="#262626" stroke-width="1.35"/>
<g stroke="#231815" stroke-width="1.5"><ellipse cx="720" cy="1575.96" rx="3.3" ry="7.2" fill="#fff"/><ellipse cx="729.9" cy="1575.96" rx="3.3" ry="7.2" fill="#fff"/><ellipse cx="738.6" cy="1575.96" rx="3.3" ry="7.2" fill="#fff"/><ellipse cx="750.8" cy="1575.96" rx="3.3" ry="7.2" fill="#fff"/><ellipse cx="759.6" cy="1575.96" rx="3.3" ry="7.2" fill="#fff"/><ellipse cx="774.8" cy="1575.96" rx="3.3" ry="7.2" fill="#fff"/><ellipse cx="791.4" cy="1575.96" rx="3.3" ry="7.2" fill="#fff"/><ellipse cx="803.3" cy="1575.96" rx="3.3" ry="7.2" fill="#fff"/><ellipse cx="811.9" cy="1575.96" rx="3.3" ry="7.2" fill="#fff"/><ellipse cx="824.8" cy="1575.96" rx="3.3" ry="7.2" fill="#fff"/><ellipse cx="833.3" cy="1575.96" rx="3.3" ry="7.2" fill="#fff"/><ellipse cx="845.9" cy="1575.96" rx="3.3" ry="7.2" fill="#fff"/><ellipse cx="856.4" cy="1575.96" rx="3.3" ry="7.2" fill="#fff"/><ellipse cx="866.8" cy="1575.96" rx="3.3" ry="7.2" fill="#fff"/><ellipse cx="878.4" cy="1575.96" rx="3.3" ry="7.2" fill="#fff"/><ellipse cx="890.3" cy="1575.96" rx="3.3" ry="7.2" fill="#231815"/><ellipse cx="899.3" cy="1575.96" rx="3.3" ry="7.2" fill="#fff"/><ellipse cx="910.9" cy="1575.96" rx="3.3" ry="7.2" fill="#fff"/><ellipse cx="924.9" cy="1575.96" rx="3.3" ry="7.2" fill="#fff"/><ellipse cx="934" cy="1575.96" rx="3.3" ry="7.2" fill="#fff"/><ellipse cx="946.4" cy="1575.96" rx="3.3" ry="7.2" fill="#fff"/><ellipse cx="955.1" cy="1575.96" rx="3.3" ry="7.2" fill="#fff"/><ellipse cx="963.4" cy="1575.96" rx="3.3" ry="7.2" fill="#fff"/><ellipse cx="976.6" cy="1575.96" rx="3.3" ry="7.2" fill="#fff"/><ellipse cx="987.3" cy="1575.96" rx="3.3" ry="7.2" fill="#fff"/><ellipse cx="1007.1" cy="1575.96" rx="3.3" ry="7.2" fill="#fff"/><ellipse cx="1018.4" cy="1575.96" rx="3.3" ry="7.2" fill="#fff"/><ellipse cx="1031.9" cy="1575.96" rx="3.3" ry="7.2" fill="#fff"/><ellipse cx="1048.4" cy="1575.96" rx="3.3" ry="7.2" fill="#fff"/><ellipse cx="1056.9" cy="1575.96" rx="3.3" ry="7.2" fill="#231815"/><ellipse cx="1072.7" cy="1575.96" rx="3.3" ry="7.2" fill="#fff"/><ellipse cx="1092.4" cy="1575.96" rx="3.3" ry="7.2" fill="#fff"/><ellipse cx="1111.2" cy="1575.96" rx="3.3" ry="7.2" fill="#fff"/><ellipse cx="1122" cy="1575.96" rx="3.3" ry="7.2" fill="#fff"/><ellipse cx="1142.2" cy="1575.96" rx="3.3" ry="7.2" fill="#fff"/><ellipse cx="1150.6" cy="1575.96" rx="3.3" ry="7.2" fill="#fff"/><ellipse cx="1170.4" cy="1575.96" rx="3.3" ry="7.2" fill="#fff"/><ellipse cx="1188.4" cy="1575.96" rx="3.3" ry="7.2" fill="#fff"/></g>
<path d="M705,1597.33H1215.5" stroke="#262626" stroke-width="1.35"/>
<g stroke="#231815" stroke-width="1.5"><ellipse cx="720" cy="1597.33" rx="3.3" ry="7.2" fill="#fff"/><ellipse cx="729.9" cy="1597.33" rx="3.3" ry="7.2" fill="#fff"/><ellipse cx="738.6" cy="1597.33" rx="3.3" ry="7.2" fill="#fff"/><ellipse cx="750.8" cy="1597.33" rx="3.3" ry="7.2" fill="#fff"/><ellipse cx="759.6" cy="1597.33" rx="3.3" ry="7.2" fill="#fff"/><ellipse cx="774.8" cy="1597.33" rx="3.3" ry="7.2" fill="#231815"/><ellipse cx="791.4" cy="1597.33" rx="3.3" ry="7.2" fill="#fff"/><ellipse cx="803.3" cy="1597.33" rx="3.3" ry="7.2" fill="#fff"/><ellipse cx="811.9" cy="1597.33" rx="3.3" ry="7.2" fill="#fff"/><ellipse cx="824.8" cy="1597.33" rx="3.3" ry="7.2" fill="#fff"/><ellipse cx="833.3" cy="1597.33" rx="3.3" ry="7.2" fill="#fff"/><ellipse cx="845.9" cy="1597.33" rx="3.3" ry="7.2" fill="#fff"/><ellipse cx="856.4" cy="1597.33" rx="3.3" ry="7.2" fill="#fff"/><ellipse cx="866.8" cy="1597.33" rx="3.3" ry="7.2" fill="#fff"/><ellipse cx="878.4" cy="1597.33" rx="3.3" ry="7.2" fill="#fff"/><ellipse cx="890.3" cy="1597.33" rx="3.3" ry="7.2" fill="#fff"/><ellipse cx="899.3" cy="1597.33" rx="3.3" ry="7.2" fill="#fff"/><ellipse cx="910.9" cy="1597.33" rx="3.3" ry="7.2" fill="#fff"/><ellipse cx="924.9" cy="1597.33" rx="3.3" ry="7.2" fill="#fff"/><ellipse cx="934" cy="1597.33" rx="3.3" ry="7.2" fill="#fff"/><ellipse cx="946.4" cy="1597.33" rx="3.3" ry="7.2" fill="#231815"/><ellipse cx="955.1" cy="1597.33" rx="3.3" ry="7.2" fill="#fff"/><ellipse cx="963.4" cy="1597.33" rx="3.3" ry="7.2" fill="#fff"/><ellipse cx="976.6" cy="1597.33" rx="3.3" ry="7.2" fill="#fff"/><ellipse cx="987.3" cy="1597.33" rx="3.3" ry="7.2" fill="#fff"/><ellipse cx="1007.1" cy="1597.33" rx="3.3" ry="7.2" fill="#fff"/><ellipse cx="1018.4" cy="1597.33" rx="3.3" ry="7.2" fill="#fff"/><ellipse cx="1031.9" cy="1597.33" rx="3.3" ry="7.2" fill="#fff"/><ellipse cx="1048.4" cy="1597.33" rx="3.3" ry="7.2" fill="#fff"/><ellipse cx="1056.9" cy="1597.33" rx="3.3" ry="7.2" fill="#fff"/><ellipse cx="1072.7" cy="1597.33" rx="3.3" ry="7.2" fill="#fff"/><ellipse cx="1092.4" cy="1597.33" rx="3.3" ry="7.2" fill="#fff"/><ellipse cx="1111.2" cy="1597.33" rx="3.3" ry="7.2" fill="#fff"/><ellipse cx="1122" cy="1597.33" rx="3.3" ry="7.2" fill="#fff"/><ellipse cx="1142.2" cy="1597.33" rx="3.3" ry="7.2" fill="#fff"/><ellipse cx="1150.6" cy="1597.33" rx="3.3" ry="7.2" fill="#fff"/><ellipse cx="1170.4" cy="1597.33" rx="3.3" ry="7.2" fill="#fff"/><ellipse cx="1188.4" cy="1597.33" rx="3.3" ry="7.2" fill="#fff"/></g>
<text x="639" y="1503.4" font-size="24.2">HFD</text>
<path d="M1393.4,1208.3V1554.3 M1379.4,1541.5H1892.4" stroke="#000" stroke-width="3" fill="none"/>
<path d="M1379.4,1458.5H1393.4 M1379.4,1375.5H1393.4 M1379.4,1292.5H1393.4 M1379.4,1209.5H1393.4 M1406.5,1541.5V1548.3 M1419.6,1541.5V1548.3 M1432.7,1541.5V1548.3 M1445.8,1541.5V1548.3 M1458.9,1541.5V1548.3 M1472,1541.5V1548.3 M1485.1,1541.5V1548.3 M1498.2,1541.5V1548.3 M1511.3,1541.5V1548.3 M1524.4,1541.5V1554.3 M1537.5,1541.5V1548.3 M1550.6,1541.5V1548.3 M1563.7,1541.5V1548.3 M1576.8,1541.5V1548.3 M1589.9,1541.5V1548.3 M1603,1541.5V1548.3 M1616.1,1541.5V1548.3 M1629.2,1541.5V1548.3 M1642.3,1541.5V1548.3 M1655.4,1541.5V1554.3 M1668.5,1541.5V1548.3 M1681.6,1541.5V1548.3 M1694.7,1541.5V1548.3 M1707.8,1541.5V1548.3 M1720.9,1541.5V1548.3 M1734,1541.5V1548.3 M1747.1,1541.5V1548.3 M1760.2,1541.5V1548.3 M1773.3,1541.5V1548.3 M1786.4,1541.5V1554.3 M1799.5,1541.5V1548.3 M1812.6,1541.5V1548.3 M1825.7,1541.5V1548.3 M1838.8,1541.5V1548.3 M1851.9,1541.5V1548.3 M1865,1541.5V1548.3 M1878.1,1541.5V1548.3 M1891.2,1541.5V1548.3" stroke="#000" stroke-width="2.5" fill="none"/>
<path d="M1406.5,1541.5 L1419.6,1458.5 L1432.7,1458.5 L1445.8,1292.5 L1458.9,1541.5 L1472,1458.5 L1485.1,1541.5 L1498.2,1541.5 L1511.3,1541.5 L1524.4,1541.5 L1537.5,1541.5 L1550.6,1541.5 L1563.7,1541.5 L1576.8,1541.5 L1589.9,1541.5 L1603,1458.5 L1616.1,1541.5 L1629.2,1541.5 L1642.3,1541.5 L1655.4,1541.5 L1668.5,1458.5 L1681.6,1541.5 L1694.7,1541.5 L1707.8,1541.5 L1720.9,1541.5 L1734,1541.5 L1747.1,1541.5 L1760.2,1541.5 L1773.3,1541.5 L1786.4,1458.5 L1799.5,1541.5 L1812.6,1541.5 L1825.7,1541.5 L1838.8,1541.5 L1851.9,1541.5 L1865,1541.5 L1878.1,1541.5 L1891.2,1375.5" stroke="#F21414" stroke-width="2.3" fill="none" stroke-linejoin="miter"/>
<g fill="#F21414"><rect x="1401.4" y="1536.4" width="10.2" height="10.2"/><rect x="1414.5" y="1453.4" width="10.2" height="10.2"/><rect x="1427.6" y="1453.4" width="10.2" height="10.2"/><rect x="1440.7" y="1287.4" width="10.2" height="10.2"/><rect x="1453.8" y="1536.4" width="10.2" height="10.2"/><rect x="1466.9" y="1453.4" width="10.2" height="10.2"/><rect x="1480" y="1536.4" width="10.2" height="10.2"/><rect x="1493.1" y="1536.4" width="10.2" height="10.2"/><rect x="1506.2" y="1536.4" width="10.2" height="10.2"/><rect x="1519.3" y="1536.4" width="10.2" height="10.2"/><rect x="1532.4" y="1536.4" width="10.2" height="10.2"/><rect x="1545.5" y="1536.4" width="10.2" height="10.2"/><rect x="1558.6" y="1536.4" width="10.2" height="10.2"/><rect x="1571.7" y="1536.4" width="10.2" height="10.2"/><rect x="1584.8" y="1536.4" width="10.2" height="10.2"/><rect x="1597.9" y="1453.4" width="10.2" height="10.2"/><rect x="1611" y="1536.4" width="10.2" height="10.2"/><rect x="1624.1" y="1536.4" width="10.2" height="10.2"/><rect x="1637.2" y="1536.4" width="10.2" height="10.2"/><rect x="1650.3" y="1536.4" width="10.2" height="10.2"/><rect x="1663.4" y="1453.4" width="10.2" height="10.2"/><rect x="1676.5" y="1536.4" width="10.2" height="10.2"/><rect x="1689.6" y="1536.4" width="10.2" height="10.2"/><rect x="1702.7" y="1536.4" width="10.2" height="10.2"/><rect x="1715.8" y="1536.4" width="10.2" height="10.2"/><rect x="1728.9" y="1536.4" width="10.2" height="10.2"/><rect x="1742" y="1536.4" width="10.2" height="10.2"/><rect x="1755.1" y="1536.4" width="10.2" height="10.2"/><rect x="1768.2" y="1536.4" width="10.2" height="10.2"/><rect x="1781.3" y="1453.4" width="10.2" height="10.2"/><rect x="1794.4" y="1536.4" width="10.2" height="10.2"/><rect x="1807.5" y="1536.4" width="10.2" height="10.2"/><rect x="1820.6" y="1536.4" width="10.2" height="10.2"/><rect x="1833.7" y="1536.4" width="10.2" height="10.2"/><rect x="1846.8" y="1536.4" width="10.2" height="10.2"/><rect x="1859.9" y="1536.4" width="10.2" height="10.2"/><rect x="1873" y="1536.4" width="10.2" height="10.2"/><rect x="1886.1" y="1370.4" width="10.2" height="10.2"/></g>
<path d="M1406.5,1541.5 L1419.6,1541.5 L1432.7,1541.5 L1445.8,1541.5 L1458.9,1541.5 L1472,1541.5 L1485.1,1541.5 L1498.2,1541.5 L1511.3,1541.5 L1524.4,1541.5 L1537.5,1541.5 L1550.6,1541.5 L1563.7,1541.5 L1576.8,1541.5 L1589.9,1541.5 L1603,1541.5 L1616.1,1541.5 L1629.2,1458.5 L1642.3,1541.5 L1655.4,1541.5 L1668.5,1541.5 L1681.6,1458.5 L1694.7,1541.5 L1707.8,1541.5 L1720.9,1541.5 L1734,1541.5 L1747.1,1541.5 L1760.2,1541.5 L1773.3,1541.5 L1786.4,1541.5 L1799.5,1375.5 L1812.6,1541.5 L1825.7,1458.5 L1838.8,1541.5 L1851.9,1541.5 L1865,1541.5 L1878.1,1541.5 L1891.2,1541.5" stroke="#0A0AAC" stroke-width="2.8" fill="none" stroke-linejoin="miter"/>
<g fill="#0A0AAC"><circle cx="1406.5" cy="1541.5" r="5.0"/><circle cx="1419.6" cy="1541.5" r="5.0"/><circle cx="1432.7" cy="1541.5" r="5.0"/><circle cx="1445.8" cy="1541.5" r="5.0"/><circle cx="1458.9" cy="1541.5" r="5.0"/><circle cx="1472" cy="1541.5" r="5.0"/><circle cx="1485.1" cy="1541.5" r="5.0"/><circle cx="1498.2" cy="1541.5" r="5.0"/><circle cx="1511.3" cy="1541.5" r="5.0"/><circle cx="1524.4" cy="1541.5" r="5.0"/><circle cx="1537.5" cy="1541.5" r="5.0"/><circle cx="1550.6" cy="1541.5" r="5.0"/><circle cx="1563.7" cy="1541.5" r="5.0"/><circle cx="1576.8" cy="1541.5" r="5.0"/><circle cx="1589.9" cy="1541.5" r="5.0"/><circle cx="1603" cy="1541.5" r="5.0"/><circle cx="1616.1" cy="1541.5" r="5.0"/><circle cx="1629.2" cy="1458.5" r="5.0"/><circle cx="1642.3" cy="1541.5" r="5.0"/><circle cx="1655.4" cy="1541.5" r="5.0"/><circle cx="1668.5" cy="1541.5" r="5.0"/><circle cx="1681.6" cy="1458.5" r="5.0"/><circle cx="1694.7" cy="1541.5" r="5.0"/><circle cx="1707.8" cy="1541.5" r="5.0"/><circle cx="1720.9" cy="1541.5" r="5.0"/><circle cx="1734" cy="1541.5" r="5.0"/><circle cx="1747.1" cy="1541.5" r="5.0"/><circle cx="1760.2" cy="1541.5" r="5.0"/><circle cx="1773.3" cy="1541.5" r="5.0"/><circle cx="1786.4" cy="1541.5" r="5.0"/><circle cx="1799.5" cy="1375.5" r="5.0"/><circle cx="1812.6" cy="1541.5" r="5.0"/><circle cx="1825.7" cy="1458.5" r="5.0"/><circle cx="1838.8" cy="1541.5" r="5.0"/><circle cx="1851.9" cy="1541.5" r="5.0"/><circle cx="1865" cy="1541.5" r="5.0"/><circle cx="1878.1" cy="1541.5" r="5.0"/><circle cx="1891.2" cy="1541.5" r="5.0"/></g>
<text x="1376.7" y="1551.1" font-size="22.3" text-anchor="end">0.0</text>
<text x="1376.7" y="1468.1" font-size="22.3" text-anchor="end">0.1</text>
<text x="1376.7" y="1385.1" font-size="22.3" text-anchor="end">0.2</text>
<text x="1376.7" y="1302.1" font-size="22.3" text-anchor="end">0.3</text>
<text x="1376.7" y="1219.1" font-size="22.3" text-anchor="end">0.4</text>
<text x="1394.6" y="1575.8" font-size="22.3" text-anchor="middle">0</text>
<text x="1525.6" y="1575.8" font-size="22.3" text-anchor="middle">10</text>
<text x="1656.6" y="1575.8" font-size="22.3" text-anchor="middle">20</text>
<text x="1787.6" y="1575.8" font-size="22.3" text-anchor="middle">30</text>
<text x="1629.4" y="1602.4" font-size="24.6" text-anchor="middle">CpG Position</text>
<text transform="translate(1312.9,1377) rotate(-90)" font-size="28.7" text-anchor="middle">Methylation rate (%)</text>
<text x="1506" y="1254.7" font-size="23.3">Total Me-CpG rate:</text>
<path d="M1723.6,1229.7H1753.2" stroke="#0A0AB0" stroke-width="2.6"/>
<circle cx="1738.4" cy="1229.7" r="4.3" fill="#0A0AB0"/>
<path d="M1723.6,1266.9H1753.2" stroke="#F21414" stroke-width="2.6"/>
<rect x="1734.1" y="1262.6" width="8.6" height="8.6" fill="#F21414"/>
<text x="1769" y="1238.4" font-size="23.3">Con (1.3%)</text>
<text x="1769" y="1275.6" font-size="23.3">HFD (2.9%)</text>
<text x="18.5" y="1673.4" font-size="52" font-weight="bold">E</text>
<text x="74.4" y="1730.8" font-size="28" font-style="italic">HK1</text>
<rect x="6.6" y="1753.9" width="594.4" height="315" fill="#FFFFFF" stroke="#5252C6" stroke-width="1.4"/>
<path d="M6,1753.9H601.6" stroke="#1E1EA2" stroke-width="1.6"/>
<rect x="38.4" y="1772.4" width="551" height="224" fill="url(#stripes)"/>
<path d="M386,1831.1 L387,1829.28 L388,1827.46 L389,1826.55 L390,1825.85 L391,1825.16 L392,1824.47 L393,1823.77 L394,1823.08 L395,1822.39 L396,1821.69 L397,1821 L398,1821.45 L399,1821.89 L400,1822.34 L401,1822.78 L402,1823.23 L403,1823.68 L404,1824.12 L405,1824.05 L406,1823.65 L407,1823.24 L408,1822.83 L409,1822.42 L410,1822.01 L411,1821.6 L412,1822.46 L413,1823.33 L414,1824.19 L414.1,1824.28 L414.1,1932.2 L386,1932.2 Z" fill="#BDE8F6"/>
<path d="M449,1824.73 L450,1825.07 L451,1825.4 L452,1825.73 L453,1826.42 L454,1828.54 L455,1830.65 L456,1832.76 L457,1834.88 L458,1837.3 L459,1839.8 L460,1842.3 L461,1844.8 L462,1845.4 L463,1843.15 L464,1840.9 L465,1838.65 L466,1836.4 L467,1836.4 L468,1836.4 L469,1836.4 L470,1836.4 L471,1834.83 L472,1832.2 L473,1829.58 L474,1826.95 L475,1824.33 L476,1821.7 L477,1819.08 L478,1816.45 L479,1813.82 L480,1815.22 L481,1817.62 L482,1820.02 L483,1822.42 L484,1824.82 L485,1826.56 L486,1826.76 L486.6,1826.88 L486.6,1932.2 L449,1932.2 Z" fill="#BDE8F6"/>
<path d="M525.2,1836.44 L526.2,1834.04 L527.2,1831.64 L528.2,1829.24 L529.2,1826.84 L530.2,1825.8 L531.2,1826.8 L532.2,1827.8 L533.2,1828.8 L534.2,1829.8 L535.2,1830.8 L536.2,1829.49 L537.2,1827.91 L538.2,1826.34 L539.2,1824.77 L540.2,1823.2 L541.2,1821.63 L542.2,1820.06 L543.2,1819.55 L544.2,1823.3 L545,1826.3 L545,1932.2 L525.2,1932.2 Z" fill="#BDE8F6"/>
<rect x="429.7" y="1913.2" width="77.2" height="6.8" fill="#1B1B8E"/>
<path d="M51.73,1927.5V1932.2 M69.86,1927.5V1932.2 M87.99,1927.5V1932.2 M106.12,1927.5V1932.2 M124.25,1923.5V1932.2 M142.38,1927.5V1932.2 M160.51,1927.5V1932.2 M178.64,1927.5V1932.2 M196.77,1927.5V1932.2 M214.9,1923.5V1932.2 M233.03,1927.5V1932.2 M251.16,1927.5V1932.2 M269.29,1927.5V1932.2 M287.42,1927.5V1932.2 M305.55,1923.5V1932.2 M323.68,1927.5V1932.2 M341.81,1927.5V1932.2 M359.94,1927.5V1932.2 M378.07,1927.5V1932.2 M396.2,1923.5V1932.2 M414.33,1927.5V1932.2 M432.46,1927.5V1932.2 M450.59,1927.5V1932.2 M468.72,1927.5V1932.2 M486.85,1923.5V1932.2 M504.98,1927.5V1932.2 M523.11,1927.5V1932.2 M541.24,1927.5V1932.2 M559.37,1927.5V1932.2 M577.5,1923.5V1932.2" stroke="#C94848" stroke-width="1.3" fill="none"/>
<path d="M34.8,1932.2 L42.8,1932.2 L42.8,1888.3 L43.4,1840.3 L44.25,1838.03 L45.1,1834.59 L45.95,1835.47 L46.8,1835.77 L47.65,1840.08 L48.5,1839.26 L49.35,1843.35 L50.2,1842.78 L51.05,1844.56 L51.9,1844.4 L52.75,1847.43 L53.6,1846.55 L54.45,1849.12 L55.3,1848.29 L56.15,1847.96 L57,1846.23 L57.85,1846.94 L58.7,1843.24 L59.55,1843.14 L60.4,1839.74 L61.25,1842.31 L62.1,1843.89 L62.95,1847.72 L63.8,1848.06 L64.65,1853.11 L65.5,1851 L66.35,1851.16 L67.2,1849.08 L68.05,1848.29 L68.9,1845.33 L69.75,1846.66 L70.6,1843.02 L71.45,1843.14 L72.3,1841.13 L73.15,1842.57 L74,1841.73 L74.85,1844.09 L75.7,1844.77 L76.55,1848.47 L77.4,1847.97 L78.25,1849.76 L79.1,1850.66 L79.95,1853.57 L80.8,1851.38 L81.65,1853.23 L82.5,1853.17 L83.35,1853.72 L84.2,1853.28 L85.05,1854.82 L85.9,1855.43 L86.75,1857.44 L87.6,1858.39 L88.45,1861.98 L89.3,1859.72 L90.15,1860.01 L91,1857.04 L91.85,1857.98 L92.7,1857.8 L93.55,1861.56 L94.4,1859.52 L95.25,1863.52 L96.1,1863.02 L96.95,1865.09 L97.8,1865.22 L98.65,1864.79 L99.5,1862.63 L100.35,1861.4 L101.2,1859 L102.05,1857.62 L102.9,1855.88 L103.75,1858.75 L104.6,1857.2 L105.45,1859.22 L106.3,1857.89 L107.15,1858.94 L108,1858.07 L108.85,1858.77 L109.7,1856.22 L110.55,1858.46 L111.4,1855.41 L112.25,1856.08 L113.1,1852.68 L113.95,1852.94 L114.8,1850.6 L115.65,1850.47 L116.5,1846.01 L117.35,1847.45 L118.2,1843.34 L119.05,1845.22 L119.9,1843.36 L120.75,1846.34 L121.6,1845.54 L122.45,1847.33 L123.3,1846.82 L124.15,1848.75 L125,1849.58 L125.85,1852.95 L126.7,1851.8 L127.55,1855.44 L128.4,1855.63 L129.25,1857.87 L130.1,1858.15 L130.95,1859.14 L131.8,1856.41 L132.65,1856.81 L133.5,1852.68 L134.35,1853.4 L135.2,1850.95 L136.05,1852.15 L136.9,1849.07 L137.75,1849.01 L138.6,1845.17 L139.45,1845.88 L140.3,1844.53 L141.15,1845.22 L142,1843.46 L142.85,1846.43 L143.7,1843.62 L144.55,1844.19 L145.4,1843.01 L146.25,1844.44 L147.1,1842.18 L147.95,1844.56 L148.8,1843.23 L149.65,1846.18 L150.5,1844.35 L151.35,1846.05 L152.2,1844.1 L153.05,1846.57 L153.9,1846.55 L154.75,1849.85 L155.6,1849.7 L156.45,1852.79 L157.3,1851.49 L158.15,1854.56 L159,1854.79 L159.85,1855.79 L160.7,1855.69 L161.55,1856.88 L162.4,1855.41 L163.25,1855.23 L164.1,1852.25 L164.95,1852.57 L165.8,1850.61 L166.65,1849.83 L167.5,1847.07 L168.35,1850.05 L169.2,1848.97 L170.05,1851.45 L170.9,1851.33 L171.75,1854.77 L172.6,1854.89 L173.45,1855.49 L174.3,1854.34 L175.15,1857.48 L176,1855.33 L176.85,1857.3 L177.7,1856.12 L178.55,1857.5 L179.4,1855.7 L180.25,1858.33 L181.1,1858.77 L181.95,1863.81 L182.8,1863.39 L183.65,1868.04 L184.5,1869.62 L185.35,1873.28 L186.2,1874.92 L187.05,1877.82 L187.9,1874.16 L188.75,1874.44 L189.6,1870.88 L190.45,1869.9 L191.3,1867.47 L192.15,1866.57 L193,1864.14 L193.85,1861.75 L194.7,1857.97 L195.55,1856.95 L196.4,1853.86 L197.25,1851.97 L198.1,1849.85 L198.95,1849.96 L199.8,1847.26 L200.65,1848.23 L201.5,1845.6 L202.35,1846.71 L203.2,1842.22 L204.05,1842.71 L204.9,1840.06 L205.75,1845.2 L206.6,1844.92 L207.45,1849.26 L208.3,1850.47 L209.15,1855.84 L210,1857.74 L210.85,1860.92 L211.7,1862.23 L212.55,1868.32 L213.4,1870.18 L214.25,1872.44 L215.1,1872.46 L215.95,1872.99 L216.8,1871.58 L217.65,1873.55 L218.5,1873.21 L219.35,1874.63 L220.2,1870.75 L221.05,1871.54 L221.9,1868.97 L222.75,1870.85 L223.6,1866.92 L224.45,1866.84 L225.3,1861.51 L226.15,1862.05 L227,1856.56 L227.85,1855.73 L228.7,1851.85 L229.55,1851.22 L230.4,1846.62 L231.25,1846.92 L232.1,1844.54 L232.95,1846.89 L233.8,1845.64 L234.65,1846 L235.5,1845.53 L236.35,1846.18 L237.2,1845.32 L238.05,1844.98 L238.9,1842.74 L239.75,1842.05 L240.6,1839.17 L241.45,1839.18 L242.3,1836.04 L243.15,1837.74 L244,1836.29 L244.85,1838.56 L245.7,1837.17 L246.55,1839.19 L247.4,1836.66 L248.25,1836.84 L249.1,1834.03 L249.95,1834.64 L250.8,1830.89 L251.65,1830.14 L252.5,1828.63 L253.35,1830.67 L254.2,1830.73 L255.05,1833.83 L255.9,1831.92 L256.75,1835.12 L257.6,1833.48 L258.45,1836.23 L259.3,1834.91 L260.15,1837.36 L261,1835.72 L261.85,1837.03 L262.7,1834.9 L263.55,1836.36 L264.4,1835.7 L265.25,1839.96 L266.1,1841.08 L266.95,1844.71 L267.8,1844.81 L268.65,1848.57 L269.5,1850.02 L270.35,1851.74 L271.2,1848.65 L272.05,1849.26 L272.9,1845.72 L273.75,1845.83 L274.6,1842.09 L275.45,1843.19 L276.3,1842.92 L277.15,1844.65 L278,1842.73 L278.85,1846.44 L279.7,1844.7 L280.55,1847.22 L281.4,1847.21 L282.25,1848.63 L283.1,1847.1 L283.95,1847.99 L284.8,1844.57 L285.65,1844.96 L286.5,1842.69 L287.35,1844.57 L288.2,1841.42 L289.05,1844.16 L289.9,1845.72 L290.75,1847.96 L291.6,1849.71 L292.45,1853.56 L293.3,1852.48 L294.15,1856.12 L295,1855.27 L295.85,1860.03 L296.7,1858.96 L297.55,1862.51 L298.4,1861.25 L299.25,1863.08 L300.1,1860.67 L300.95,1862.38 L301.8,1860.74 L302.65,1861.46 L303.5,1858.61 L304.35,1859.43 L305.2,1856.9 L306.05,1855.99 L306.9,1854.69 L307.75,1854.93 L308.6,1850.69 L309.45,1851.61 L310.3,1847.55 L311.15,1846.94 L312,1841.5 L312.85,1841.19 L313.7,1837.54 L314.55,1835.73 L315.4,1834.85 L316.25,1835.76 L317.1,1834.83 L317.95,1836.43 L318.8,1833.6 L319.65,1835.43 L320.5,1835.17 L321.35,1837.1 L322.2,1838.07 L323.05,1840.67 L323.9,1839.4 L324.75,1842.89 L325.6,1841.1 L326.45,1842.27 L327.3,1842.35 L328.15,1844.31 L329,1842.15 L329.85,1846.48 L330.7,1844.44 L331.55,1846.1 L332.4,1845.93 L333.25,1847.46 L334.1,1846.65 L334.95,1847.39 L335.8,1847.7 L336.65,1848.13 L337.5,1847.42 L338.35,1847.37 L339.2,1843.9 L340.05,1844.36 L340.9,1841.2 L341.75,1841.43 L342.6,1841.1 L343.45,1842.6 L344.3,1841.43 L345.15,1843.21 L346,1842.07 L346.85,1842.54 L347.7,1841.44 L348.55,1844.29 L349.4,1841.78 L350.25,1844.9 L351.1,1843.88 L351.95,1845.08 L352.8,1840.98 L353.65,1840.89 L354.5,1836.55 L355.35,1836.69 L356.2,1832.63 L357.05,1835.17 L357.9,1833.57 L358.75,1833.19 L359.6,1831.75 L360.45,1833.89 L361.3,1831.98 L362.15,1831.99 L363,1830.01 L363.85,1831 L364.7,1828.88 L365.55,1830.77 L366.4,1829.68 L367.25,1829.77 L368.1,1828.06 L368.95,1829.56 L369.8,1828.15 L370.65,1829.66 L371.5,1828.41 L372.35,1830.55 L373.2,1829.36 L374.05,1831.68 L374.9,1830.43 L375.75,1832.04 L376.6,1830.81 L377.45,1834.67 L378.3,1832.08 L379.15,1834.97 L380,1833.74 L380.85,1833.75 L381.7,1831.46 L382.55,1834.22 L383.4,1831.19 L384.25,1832.74 L385.1,1830.79 L385.95,1832.12 L386.8,1827.13 L387.65,1828.03 L388.5,1825.55 L389.35,1825.86 L390.2,1823.04 L391.05,1824.59 L391.9,1822.4 L392.75,1823.88 L393.6,1820.66 L394.45,1823.22 L395.3,1820.88 L396.15,1820.59 L397,1819.73 L397.85,1820.93 L398.7,1819.86 L399.55,1822.61 L400.4,1819.84 L401.25,1821.91 L402.1,1820.75 L402.95,1824.12 L403.8,1821.42 L404.65,1824.06 L405.5,1822.56 L406.35,1824.07 L407.2,1820.7 L408.05,1822.94 L408.9,1819.71 L409.75,1821.52 L410.6,1820.71 L411.45,1821.81 L412.3,1820.3 L413.15,1822.64 L414,1821.89 L414.85,1825.72 L415.7,1823.65 L416.55,1823.33 L417.4,1819.78 L418.25,1820.05 L419.1,1817.74 L419.95,1817.15 L420.8,1816.68 L421.65,1820.48 L422.5,1819.54 L423.35,1821.3 L424.2,1819.35 L425.05,1820.63 L425.9,1817.52 L426.75,1817.1 L427.6,1813 L428.45,1814.83 L429.3,1812.75 L430.15,1814.9 L431,1814.07 L431.85,1815.87 L432.7,1816.27 L433.55,1816.95 L434.4,1815.76 L435.25,1817.51 L436.1,1816.37 L436.95,1817.87 L437.8,1816.76 L438.65,1817.76 L439.5,1817.76 L440.35,1820.36 L441.2,1818.55 L442.05,1819.73 L442.9,1819.29 L443.75,1822.34 L444.6,1821.46 L445.45,1823.15 L446.3,1822.43 L447.15,1823.87 L448,1823.39 L448.85,1823.7 L449.7,1822 L450.55,1825.86 L451.4,1823.86 L452.25,1825.67 L453.1,1825.37 L453.95,1828.81 L454.8,1828.67 L455.65,1832.87 L456.5,1831.48 L457.35,1836.16 L458.2,1834.91 L459.05,1839.18 L459.9,1841.04 L460.75,1843.36 L461.6,1845.15 L462.45,1843.44 L463.3,1841.45 L464.15,1840.39 L465,1836.03 L465.85,1836.36 L466.7,1833.56 L467.55,1837.14 L468.4,1835.37 L469.25,1836.33 L470.1,1834.9 L470.95,1834.04 L471.8,1829.85 L472.65,1829.75 L473.5,1826.41 L474.35,1826.06 L475.2,1820.93 L476.05,1821.66 L476.9,1817.84 L477.75,1816.71 L478.6,1813.75 L479.45,1814.8 L480.3,1812.96 L481.15,1817.19 L482,1819 L482.85,1821.32 L483.7,1822.68 L484.55,1826.86 L485.4,1823.92 L486.25,1827.34 L487.1,1825.96 L487.95,1827.54 L488.8,1825.12 L489.65,1827.53 L490.5,1825.24 L491.35,1828.9 L492.2,1830.45 L493.05,1833.55 L493.9,1832.11 L494.75,1836.72 L495.6,1835.15 L496.45,1834.2 L497.3,1829.79 L498.15,1829 L499,1826.38 L499.85,1824.83 L500.7,1822.3 L501.55,1821.94 L502.4,1821.56 L503.25,1822.36 L504.1,1822.44 L504.95,1824.09 L505.8,1823.66 L506.65,1826.4 L507.5,1826.55 L508.35,1828.26 L509.2,1827.99 L510.05,1831.52 L510.9,1831.03 L511.75,1835.46 L512.6,1833.02 L513.45,1835.65 L514.3,1835.8 L515.15,1837.31 L516,1836.31 L516.85,1840.5 L517.7,1838.8 L518.55,1840.13 L519.4,1838.84 L520.25,1840.44 L521.1,1838.01 L521.95,1839.38 L522.8,1837.99 L523.65,1838.03 L524.5,1837.09 L525.35,1836.29 L526.2,1832.22 L527.05,1831.11 L527.9,1827.34 L528.75,1827.19 L529.6,1824.35 L530.45,1825.17 L531.3,1825.62 L532.15,1828.29 L533,1827.21 L533.85,1828.59 L534.7,1828.61 L535.55,1829.87 L536.4,1826.45 L537.25,1826.91 L538.1,1823.56 L538.95,1824.19 L539.8,1821.14 L540.65,1822.59 L541.5,1819.96 L542.35,1819.48 L543.2,1818.24 L544.05,1822 L544.9,1824.74 L545.75,1828.55 L546.6,1829.33 L547.45,1836.31 L548.3,1832.82 L549.15,1834.94 L550,1834.86 L550.85,1837.15 L551.7,1835.71 L552.55,1837.26 L553.4,1835.98 L554.25,1838.79 L555.1,1838.04 L555.95,1840.68 L556.8,1840.02 L557.65,1841.71 L558.5,1842.8 L559.35,1845.51 L560.2,1842.46 L561.05,1842.19 L561.9,1840.27 L562.75,1841.39 L563.6,1838.26 L564.45,1838.13 L565.3,1835.3 L566.15,1832.44 L567,1827.81 L567.85,1827.25 L568.7,1822.76 L569.55,1823.38 L570.4,1824.77 L571.25,1827.26 L572.1,1827.1 L572.95,1829.57 L573.8,1829.38 L574.65,1829.96 L575.5,1827.24 L576.35,1829.33 L577.2,1829.21 L578.05,1833.68 L578.8,1836.5 L579.2,1932.2 L588.1,1932.2" stroke="#000" stroke-width="1.35" fill="none" stroke-linejoin="round"/>
<rect x="34" y="1932.2" width="554.1" height="7" fill="#F00A0A"/>
<path d="M34.8,1769.9V1932.2 M34.8,1770.3H39.5 M34.8,1915.97h2.6 M34.8,1899.74h4.6 M34.8,1883.51h2.6 M34.8,1867.28h4.6 M34.8,1851.05h2.6 M34.8,1834.82h4.6 M34.8,1818.59h2.6 M34.8,1802.36h4.6 M34.8,1786.13h2.6" stroke="#000" stroke-width="1.2" fill="none"/>
<text transform="translate(31.4,1942.45) rotate(-90)" font-size="10" fill="#1a1a1a" textLength="9.1" lengthAdjust="spacingAndGlyphs">0</text>
<text transform="translate(31.4,1908.84) rotate(-90)" font-size="10" fill="#1a1a1a" textLength="18.2" lengthAdjust="spacingAndGlyphs">20</text>
<text transform="translate(31.4,1876.38) rotate(-90)" font-size="10" fill="#1a1a1a" textLength="18.2" lengthAdjust="spacingAndGlyphs">40</text>
<text transform="translate(31.4,1843.92) rotate(-90)" font-size="10" fill="#1a1a1a" textLength="18.2" lengthAdjust="spacingAndGlyphs">60</text>
<text transform="translate(31.4,1811.46) rotate(-90)" font-size="10" fill="#1a1a1a" textLength="18.2" lengthAdjust="spacingAndGlyphs">80</text>
<text transform="translate(19.4,1909.4) rotate(-90)" font-size="10.2" fill="#1a1a1a" textLength="124.5" lengthAdjust="spacingAndGlyphs">GC Percentage</text>
<text x="34.4" y="1960.4" font-size="15.6" textLength="5" lengthAdjust="spacingAndGlyphs">0</text>
<text x="107.7" y="1960.4" font-size="15.6" textLength="15.3" lengthAdjust="spacingAndGlyphs">500</text>
<text x="129.3" y="1960.4" font-size="15.6" font-family="Liberation Mono, monospace" textLength="10.6" lengthAdjust="spacingAndGlyphs">bp</text>
<text x="198.1" y="1960.4" font-size="15.6" textLength="20.4" lengthAdjust="spacingAndGlyphs">1000</text>
<text x="225.1" y="1960.4" font-size="15.6" font-family="Liberation Mono, monospace" textLength="10.6" lengthAdjust="spacingAndGlyphs">bp</text>
<text x="288.5" y="1960.4" font-size="15.6" textLength="20.4" lengthAdjust="spacingAndGlyphs">1500</text>
<text x="315.5" y="1960.4" font-size="15.6" font-family="Liberation Mono, monospace" textLength="10.6" lengthAdjust="spacingAndGlyphs">bp</text>
<text x="378.9" y="1960.4" font-size="15.6" textLength="20.4" lengthAdjust="spacingAndGlyphs">2000</text>
<text x="405.9" y="1960.4" font-size="15.6" font-family="Liberation Mono, monospace" textLength="10.6" lengthAdjust="spacingAndGlyphs">bp</text>
<text x="469.3" y="1960.4" font-size="15.6" textLength="20.4" lengthAdjust="spacingAndGlyphs">2500</text>
<text x="496.3" y="1960.4" font-size="15.6" font-family="Liberation Mono, monospace" textLength="10.6" lengthAdjust="spacingAndGlyphs">bp</text>
<text x="559.7" y="1960.4" font-size="15.6" textLength="20.4" lengthAdjust="spacingAndGlyphs">3000</text>
<text x="586.7" y="1960.4" font-size="15.6" font-family="Liberation Mono, monospace" textLength="10.6" lengthAdjust="spacingAndGlyphs">bp</text>
<text x="14.6" y="1978.7" font-size="18.4" font-family="Liberation Mono, monospace" textLength="16.6" lengthAdjust="spacingAndGlyphs">CpG</text>
<path d="M34,1964.6V1978.9 M35.5,1964.6V1978.9 M37,1964.6V1978.9 M38.2,1964.6V1978.9 M41.2,1964.6V1978.9 M63,1964.6V1978.9 M77.1,1964.6V1978.9 M93.8,1964.6V1978.9 M99.7,1964.6V1978.9 M142.5,1964.6V1978.9 M144.5,1964.6V1978.9 M165.3,1964.6V1978.9 M175.5,1964.6V1978.9 M199.9,1964.6V1978.9 M201.5,1964.6V1978.9 M203.1,1964.6V1978.9 M278.8,1964.6V1978.9 M286.5,1964.6V1978.9 M288.4,1964.6V1978.9 M290.3,1964.6V1978.9 M304.7,1964.6V1978.9 M313.9,1964.6V1978.9 M314,1964.6V1978.9 M320.8,1964.6V1978.9 M326.7,1964.6V1978.9 M333.6,1964.6V1978.9 M335.8,1964.6V1978.9 M338.7,1964.6V1978.9 M342.7,1964.6V1978.9 M347.5,1964.6V1978.9 M369.3,1964.6V1978.9 M371.4,1964.6V1978.9 M375.1,1964.6V1978.9 M385,1964.6V1978.9 M413.7,1964.6V1978.9 M421.7,1964.6V1978.9 M424.9,1964.6V1978.9 M428,1964.6V1978.9 M432.5,1964.6V1978.9 M440.8,1964.6V1978.9 M442.4,1964.6V1978.9 M444,1964.6V1978.9 M456,1964.6V1978.9 M458.3,1964.6V1978.9 M460.7,1964.6V1978.9 M464.7,1964.6V1978.9 M471.9,1964.6V1978.9 M473.5,1964.6V1978.9 M492.6,1964.6V1978.9 M495.8,1964.6V1978.9 M498.2,1964.6V1978.9 M500.6,1964.6V1978.9 M505.4,1964.6V1978.9 M511,1964.6V1978.9 M521.4,1964.6V1978.9 M523.8,1964.6V1978.9 M534.9,1964.6V1978.9 M536.5,1964.6V1978.9 M538.1,1964.6V1978.9 M539.7,1964.6V1978.9 M546.1,1964.6V1978.9 M557.2,1964.6V1978.9 M568.4,1964.6V1978.9 M571.5,1964.6V1978.9 M574.5,1964.6V1978.9 M578,1964.6V1978.9 M581.5,1964.6V1978.9 M584.4,1964.6V1978.9 M355.5,1964.6V1978.9 M357.2,1964.6V1978.9 M358.9,1964.6V1978.9 M360.6,1964.6V1978.9 M393,1964.6V1978.9 M394.9,1964.6V1978.9 M396.8,1964.6V1978.9 M398.7,1964.6V1978.9 M400.6,1964.6V1978.9 M402.5,1964.6V1978.9 M404.4,1964.6V1978.9 M406.3,1964.6V1978.9 M477.5,1964.6V1978.9 M479.3,1964.6V1978.9 M481.1,1964.6V1978.9 M482.9,1964.6V1978.9 M484.7,1964.6V1978.9" stroke="#E5602E" stroke-width="1.3" fill="none"/>
<text x="502.9" y="1995.9" font-size="15.6" font-family="Liberation Mono, monospace" textLength="9" lengthAdjust="spacingAndGlyphs">F1</text>
<text x="558.1" y="1995.9" font-size="15.6" font-family="Liberation Mono, monospace" textLength="9.6" lengthAdjust="spacingAndGlyphs">R1</text>
<path d="M520.4,1988.6H552.6" stroke="#2222D0" stroke-width="1.6"/>
<rect x="518" y="1980.9" width="3.4" height="15" fill="#C8143C" stroke="#2828C8" stroke-width="1.2"/>
<rect x="551.6" y="1980.9" width="3.4" height="15" fill="#C8143C" stroke="#2828C8" stroke-width="1.2"/>
<rect x="33.9" y="1996.2" width="554.9" height="58.7" fill="#F5E6E4"/>
<text x="38.7" y="2014.1" font-size="18.4" font-family="Liberation Mono, monospace" textLength="76.6" lengthAdjust="spacingAndGlyphs">Input Sequence</text>
<rect x="38.3" y="2020.6" width="88.9" height="9.7" fill="#F40A0A"/>
<text x="172" y="2014.1" font-size="18.4" font-family="Liberation Mono, monospace" textLength="110" lengthAdjust="spacingAndGlyphs">Bisulfite PCR primer</text>
<path d="M180,2026.2H240" stroke="#2020C8" stroke-width="1.8"/>
<rect x="172.9" y="2021.2" width="8.8" height="8.8" fill="#E8102C" stroke="#2424C4" stroke-width="1.3"/>
<rect x="238.1" y="2021.2" width="8.8" height="8.8" fill="#E8102C" stroke="#2424C4" stroke-width="1.3"/>
<text x="402.7" y="2013.5" font-size="18.4" font-family="Liberation Mono, monospace" textLength="77.3" lengthAdjust="spacingAndGlyphs">MSP Primer Set</text>
<text x="522.7" y="2013.5" font-size="18.4" font-family="Liberation Mono, monospace" textLength="55.7" lengthAdjust="spacingAndGlyphs">CpG Island</text>
<text x="310.8" y="2029.4" font-size="18.4" font-family="Liberation Mono, monospace" textLength="104.2" lengthAdjust="spacingAndGlyphs">Methylated-Specific</text>
<text x="299.7" y="2048.7" font-size="18.4" font-family="Liberation Mono, monospace" textLength="115.3" lengthAdjust="spacingAndGlyphs">Unmethylated-Specific</text>
<path d="M438,2026.6H498 M438,2045.6H498" stroke="#2020C8" stroke-width="1.8"/>
<rect x="431.4" y="2021.6" width="8" height="7.8" fill="#CC44DD" stroke="#2424C4" stroke-width="1.3"/>
<rect x="431.4" y="2041.4" width="8" height="7.8" fill="#44E444" stroke="#2424C4" stroke-width="1.3"/>
<rect x="496.9" y="2021.6" width="8" height="7.8" fill="#CC44DD" stroke="#2424C4" stroke-width="1.3"/>
<rect x="496.9" y="2041.4" width="8" height="7.8" fill="#44E444" stroke="#2424C4" stroke-width="1.3"/>
<rect x="523.8" y="2022.7" width="55.2" height="26.8" fill="#BDE8F6"/>
<path d="M705.4,1694.7H1215.5" stroke="#262626" stroke-width="1.35"/>
<g stroke="#231815" stroke-width="1.5"><ellipse cx="726.5" cy="1694.7" rx="3.65" ry="6.5" fill="#fff"/><ellipse cx="738.3" cy="1694.7" rx="3.65" ry="6.5" fill="#fff"/><ellipse cx="778.7" cy="1694.7" rx="3.65" ry="6.5" fill="#fff"/><ellipse cx="788.7" cy="1694.7" rx="3.65" ry="6.5" fill="#fff"/><ellipse cx="801.1" cy="1694.7" rx="3.65" ry="6.5" fill="#fff"/><ellipse cx="811.3" cy="1694.7" rx="3.65" ry="6.5" fill="#fff"/><ellipse cx="862.6" cy="1694.7" rx="3.65" ry="6.5" fill="#fff"/><ellipse cx="879.2" cy="1694.7" rx="3.65" ry="6.5" fill="#fff"/><ellipse cx="896.2" cy="1694.7" rx="3.65" ry="6.5" fill="#fff"/><ellipse cx="906" cy="1694.7" rx="3.65" ry="6.5" fill="#fff"/><ellipse cx="916" cy="1694.7" rx="3.65" ry="6.5" fill="#fff"/><ellipse cx="941.7" cy="1694.7" rx="3.65" ry="6.5" fill="#fff"/><ellipse cx="975.3" cy="1694.7" rx="3.65" ry="6.5" fill="#fff"/><ellipse cx="985.7" cy="1694.7" rx="3.65" ry="6.5" fill="#fff"/><ellipse cx="995.9" cy="1694.7" rx="3.65" ry="6.5" fill="#fff"/><ellipse cx="1006" cy="1694.7" rx="3.65" ry="6.5" fill="#fff"/><ellipse cx="1032.3" cy="1694.7" rx="3.65" ry="6.5" fill="#fff"/><ellipse cx="1044.4" cy="1694.7" rx="3.65" ry="6.5" fill="#fff"/><ellipse cx="1055.4" cy="1694.7" rx="3.65" ry="6.5" fill="#fff"/><ellipse cx="1068" cy="1694.7" rx="3.65" ry="6.5" fill="#fff"/><ellipse cx="1088" cy="1694.7" rx="3.65" ry="6.5" fill="#fff"/><ellipse cx="1103.3" cy="1694.7" rx="3.65" ry="6.5" fill="#fff"/><ellipse cx="1137.5" cy="1694.7" rx="3.65" ry="6.5" fill="#fff"/><ellipse cx="1164.2" cy="1694.7" rx="3.65" ry="6.5" fill="#fff"/><ellipse cx="1184.6" cy="1694.7" rx="3.65" ry="6.5" fill="#fff"/><ellipse cx="1195.4" cy="1694.7" rx="3.65" ry="6.5" fill="#fff"/></g>
<path d="M705.4,1716.2H1215.5" stroke="#262626" stroke-width="1.35"/>
<g stroke="#231815" stroke-width="1.5"><ellipse cx="726.5" cy="1716.2" rx="3.65" ry="6.5" fill="#fff"/><ellipse cx="738.3" cy="1716.2" rx="3.65" ry="6.5" fill="#fff"/><ellipse cx="778.7" cy="1716.2" rx="3.65" ry="6.5" fill="#fff"/><ellipse cx="788.7" cy="1716.2" rx="3.65" ry="6.5" fill="#fff"/><ellipse cx="801.1" cy="1716.2" rx="3.65" ry="6.5" fill="#fff"/><ellipse cx="811.3" cy="1716.2" rx="3.65" ry="6.5" fill="#fff"/><ellipse cx="862.6" cy="1716.2" rx="3.65" ry="6.5" fill="#fff"/><ellipse cx="879.2" cy="1716.2" rx="3.65" ry="6.5" fill="#fff"/><ellipse cx="896.2" cy="1716.2" rx="3.65" ry="6.5" fill="#fff"/><ellipse cx="906" cy="1716.2" rx="3.65" ry="6.5" fill="#fff"/><ellipse cx="916" cy="1716.2" rx="3.65" ry="6.5" fill="#fff"/><ellipse cx="941.7" cy="1716.2" rx="3.65" ry="6.5" fill="#fff"/><ellipse cx="975.3" cy="1716.2" rx="3.65" ry="6.5" fill="#fff"/><ellipse cx="985.7" cy="1716.2" rx="3.65" ry="6.5" fill="#fff"/><ellipse cx="995.9" cy="1716.2" rx="3.65" ry="6.5" fill="#fff"/><ellipse cx="1006" cy="1716.2" rx="3.65" ry="6.5" fill="#fff"/><ellipse cx="1032.3" cy="1716.2" rx="3.65" ry="6.5" fill="#fff"/><ellipse cx="1044.4" cy="1716.2" rx="3.65" ry="6.5" fill="#fff"/><ellipse cx="1055.4" cy="1716.2" rx="3.65" ry="6.5" fill="#fff"/><ellipse cx="1068" cy="1716.2" rx="3.65" ry="6.5" fill="#fff"/><ellipse cx="1088" cy="1716.2" rx="3.65" ry="6.5" fill="#fff"/><ellipse cx="1103.3" cy="1716.2" rx="3.65" ry="6.5" fill="#fff"/><ellipse cx="1137.5" cy="1716.2" rx="3.65" ry="6.5" fill="#fff"/><ellipse cx="1164.2" cy="1716.2" rx="3.65" ry="6.5" fill="#fff"/><ellipse cx="1184.6" cy="1716.2" rx="3.65" ry="6.5" fill="#fff"/><ellipse cx="1195.4" cy="1716.2" rx="3.65" ry="6.5" fill="#fff"/></g>
<path d="M705.4,1737.7H1215.5" stroke="#262626" stroke-width="1.35"/>
<g stroke="#231815" stroke-width="1.5"><ellipse cx="726.5" cy="1737.7" rx="3.65" ry="6.5" fill="#fff"/><ellipse cx="738.3" cy="1737.7" rx="3.65" ry="6.5" fill="#fff"/><ellipse cx="778.7" cy="1737.7" rx="3.65" ry="6.5" fill="#fff"/><ellipse cx="788.7" cy="1737.7" rx="3.65" ry="6.5" fill="#fff"/><ellipse cx="801.1" cy="1737.7" rx="3.65" ry="6.5" fill="#fff"/><ellipse cx="811.3" cy="1737.7" rx="3.65" ry="6.5" fill="#fff"/><ellipse cx="862.6" cy="1737.7" rx="3.65" ry="6.5" fill="#fff"/><ellipse cx="879.2" cy="1737.7" rx="3.65" ry="6.5" fill="#fff"/><ellipse cx="896.2" cy="1737.7" rx="3.65" ry="6.5" fill="#fff"/><ellipse cx="906" cy="1737.7" rx="3.65" ry="6.5" fill="#fff"/><ellipse cx="916" cy="1737.7" rx="3.65" ry="6.5" fill="#fff"/><ellipse cx="941.7" cy="1737.7" rx="3.65" ry="6.5" fill="#fff"/><ellipse cx="975.3" cy="1737.7" rx="3.65" ry="6.5" fill="#fff"/><ellipse cx="985.7" cy="1737.7" rx="3.65" ry="6.5" fill="#fff"/><ellipse cx="995.9" cy="1737.7" rx="3.65" ry="6.5" fill="#fff"/><ellipse cx="1006" cy="1737.7" rx="3.65" ry="6.5" fill="#fff"/><ellipse cx="1032.3" cy="1737.7" rx="3.65" ry="6.5" fill="#fff"/><ellipse cx="1044.4" cy="1737.7" rx="3.65" ry="6.5" fill="#fff"/><ellipse cx="1055.4" cy="1737.7" rx="3.65" ry="6.5" fill="#fff"/><ellipse cx="1068" cy="1737.7" rx="3.65" ry="6.5" fill="#fff"/><ellipse cx="1088" cy="1737.7" rx="3.65" ry="6.5" fill="#fff"/><ellipse cx="1103.3" cy="1737.7" rx="3.65" ry="6.5" fill="#fff"/><ellipse cx="1137.5" cy="1737.7" rx="3.65" ry="6.5" fill="#fff"/><ellipse cx="1164.2" cy="1737.7" rx="3.65" ry="6.5" fill="#fff"/><ellipse cx="1184.6" cy="1737.7" rx="3.65" ry="6.5" fill="#fff"/><ellipse cx="1195.4" cy="1737.7" rx="3.65" ry="6.5" fill="#fff"/></g>
<path d="M705.4,1759.2H1215.5" stroke="#262626" stroke-width="1.35"/>
<g stroke="#231815" stroke-width="1.5"><ellipse cx="726.5" cy="1759.2" rx="3.65" ry="6.5" fill="#fff"/><ellipse cx="738.3" cy="1759.2" rx="3.65" ry="6.5" fill="#fff"/><ellipse cx="778.7" cy="1759.2" rx="3.65" ry="6.5" fill="#fff"/><ellipse cx="788.7" cy="1759.2" rx="3.65" ry="6.5" fill="#fff"/><ellipse cx="801.1" cy="1759.2" rx="3.65" ry="6.5" fill="#fff"/><ellipse cx="811.3" cy="1759.2" rx="3.65" ry="6.5" fill="#fff"/><ellipse cx="862.6" cy="1759.2" rx="3.65" ry="6.5" fill="#fff"/><ellipse cx="879.2" cy="1759.2" rx="3.65" ry="6.5" fill="#fff"/><ellipse cx="896.2" cy="1759.2" rx="3.65" ry="6.5" fill="#fff"/><ellipse cx="906" cy="1759.2" rx="3.65" ry="6.5" fill="#fff"/><ellipse cx="916" cy="1759.2" rx="3.65" ry="6.5" fill="#fff"/><ellipse cx="941.7" cy="1759.2" rx="3.65" ry="6.5" fill="#fff"/><ellipse cx="975.3" cy="1759.2" rx="3.65" ry="6.5" fill="#fff"/><ellipse cx="985.7" cy="1759.2" rx="3.65" ry="6.5" fill="#fff"/><ellipse cx="995.9" cy="1759.2" rx="3.65" ry="6.5" fill="#fff"/><ellipse cx="1006" cy="1759.2" rx="3.65" ry="6.5" fill="#fff"/><ellipse cx="1032.3" cy="1759.2" rx="3.65" ry="6.5" fill="#fff"/><ellipse cx="1044.4" cy="1759.2" rx="3.65" ry="6.5" fill="#fff"/><ellipse cx="1055.4" cy="1759.2" rx="3.65" ry="6.5" fill="#fff"/><ellipse cx="1068" cy="1759.2" rx="3.65" ry="6.5" fill="#fff"/><ellipse cx="1088" cy="1759.2" rx="3.65" ry="6.5" fill="#fff"/><ellipse cx="1103.3" cy="1759.2" rx="3.65" ry="6.5" fill="#fff"/><ellipse cx="1137.5" cy="1759.2" rx="3.65" ry="6.5" fill="#fff"/><ellipse cx="1164.2" cy="1759.2" rx="3.65" ry="6.5" fill="#fff"/><ellipse cx="1184.6" cy="1759.2" rx="3.65" ry="6.5" fill="#fff"/><ellipse cx="1195.4" cy="1759.2" rx="3.65" ry="6.5" fill="#fff"/></g>
<path d="M705.4,1780.7H1215.5" stroke="#262626" stroke-width="1.35"/>
<g stroke="#231815" stroke-width="1.5"><ellipse cx="726.5" cy="1780.7" rx="3.65" ry="6.5" fill="#fff"/><ellipse cx="738.3" cy="1780.7" rx="3.65" ry="6.5" fill="#fff"/><ellipse cx="778.7" cy="1780.7" rx="3.65" ry="6.5" fill="#fff"/><ellipse cx="788.7" cy="1780.7" rx="3.65" ry="6.5" fill="#fff"/><ellipse cx="801.1" cy="1780.7" rx="3.65" ry="6.5" fill="#fff"/><ellipse cx="811.3" cy="1780.7" rx="3.65" ry="6.5" fill="#fff"/><ellipse cx="862.6" cy="1780.7" rx="3.65" ry="6.5" fill="#fff"/><ellipse cx="879.2" cy="1780.7" rx="3.65" ry="6.5" fill="#fff"/><ellipse cx="896.2" cy="1780.7" rx="3.65" ry="6.5" fill="#fff"/><ellipse cx="906" cy="1780.7" rx="3.65" ry="6.5" fill="#fff"/><ellipse cx="916" cy="1780.7" rx="3.65" ry="6.5" fill="#fff"/><ellipse cx="941.7" cy="1780.7" rx="3.65" ry="6.5" fill="#fff"/><ellipse cx="975.3" cy="1780.7" rx="3.65" ry="6.5" fill="#fff"/><ellipse cx="985.7" cy="1780.7" rx="3.65" ry="6.5" fill="#fff"/><ellipse cx="995.9" cy="1780.7" rx="3.65" ry="6.5" fill="#fff"/><ellipse cx="1006" cy="1780.7" rx="3.65" ry="6.5" fill="#fff"/><ellipse cx="1032.3" cy="1780.7" rx="3.65" ry="6.5" fill="#fff"/><ellipse cx="1044.4" cy="1780.7" rx="3.65" ry="6.5" fill="#fff"/><ellipse cx="1055.4" cy="1780.7" rx="3.65" ry="6.5" fill="#fff"/><ellipse cx="1068" cy="1780.7" rx="3.65" ry="6.5" fill="#fff"/><ellipse cx="1088" cy="1780.7" rx="3.65" ry="6.5" fill="#fff"/><ellipse cx="1103.3" cy="1780.7" rx="3.65" ry="6.5" fill="#fff"/><ellipse cx="1137.5" cy="1780.7" rx="3.65" ry="6.5" fill="#fff"/><ellipse cx="1164.2" cy="1780.7" rx="3.65" ry="6.5" fill="#fff"/><ellipse cx="1184.6" cy="1780.7" rx="3.65" ry="6.5" fill="#fff"/><ellipse cx="1195.4" cy="1780.7" rx="3.65" ry="6.5" fill="#fff"/></g>
<path d="M705.4,1802.2H1215.5" stroke="#262626" stroke-width="1.35"/>
<g stroke="#231815" stroke-width="1.5"><ellipse cx="726.5" cy="1802.2" rx="3.65" ry="6.5" fill="#fff"/><ellipse cx="738.3" cy="1802.2" rx="3.65" ry="6.5" fill="#fff"/><ellipse cx="778.7" cy="1802.2" rx="3.65" ry="6.5" fill="#fff"/><ellipse cx="788.7" cy="1802.2" rx="3.65" ry="6.5" fill="#fff"/><ellipse cx="801.1" cy="1802.2" rx="3.65" ry="6.5" fill="#fff"/><ellipse cx="811.3" cy="1802.2" rx="3.65" ry="6.5" fill="#fff"/><ellipse cx="862.6" cy="1802.2" rx="3.65" ry="6.5" fill="#fff"/><ellipse cx="879.2" cy="1802.2" rx="3.65" ry="6.5" fill="#fff"/><ellipse cx="896.2" cy="1802.2" rx="3.65" ry="6.5" fill="#fff"/><ellipse cx="906" cy="1802.2" rx="3.65" ry="6.5" fill="#fff"/><ellipse cx="916" cy="1802.2" rx="3.65" ry="6.5" fill="#fff"/><ellipse cx="941.7" cy="1802.2" rx="3.65" ry="6.5" fill="#fff"/><ellipse cx="975.3" cy="1802.2" rx="3.65" ry="6.5" fill="#fff"/><ellipse cx="985.7" cy="1802.2" rx="3.65" ry="6.5" fill="#fff"/><ellipse cx="995.9" cy="1802.2" rx="3.65" ry="6.5" fill="#fff"/><ellipse cx="1006" cy="1802.2" rx="3.65" ry="6.5" fill="#fff"/><ellipse cx="1032.3" cy="1802.2" rx="3.65" ry="6.5" fill="#fff"/><ellipse cx="1044.4" cy="1802.2" rx="3.65" ry="6.5" fill="#fff"/><ellipse cx="1055.4" cy="1802.2" rx="3.65" ry="6.5" fill="#fff"/><ellipse cx="1068" cy="1802.2" rx="3.65" ry="6.5" fill="#fff"/><ellipse cx="1088" cy="1802.2" rx="3.65" ry="6.5" fill="#fff"/><ellipse cx="1103.3" cy="1802.2" rx="3.65" ry="6.5" fill="#fff"/><ellipse cx="1137.5" cy="1802.2" rx="3.65" ry="6.5" fill="#fff"/><ellipse cx="1164.2" cy="1802.2" rx="3.65" ry="6.5" fill="#fff"/><ellipse cx="1184.6" cy="1802.2" rx="3.65" ry="6.5" fill="#fff"/><ellipse cx="1195.4" cy="1802.2" rx="3.65" ry="6.5" fill="#231815"/></g>
<path d="M705.4,1823.7H1215.5" stroke="#262626" stroke-width="1.35"/>
<g stroke="#231815" stroke-width="1.5"><ellipse cx="726.5" cy="1823.7" rx="3.65" ry="6.5" fill="#fff"/><ellipse cx="738.3" cy="1823.7" rx="3.65" ry="6.5" fill="#fff"/><ellipse cx="778.7" cy="1823.7" rx="3.65" ry="6.5" fill="#fff"/><ellipse cx="788.7" cy="1823.7" rx="3.65" ry="6.5" fill="#fff"/><ellipse cx="801.1" cy="1823.7" rx="3.65" ry="6.5" fill="#fff"/><ellipse cx="811.3" cy="1823.7" rx="3.65" ry="6.5" fill="#fff"/><ellipse cx="862.6" cy="1823.7" rx="3.65" ry="6.5" fill="#fff"/><ellipse cx="879.2" cy="1823.7" rx="3.65" ry="6.5" fill="#fff"/><ellipse cx="896.2" cy="1823.7" rx="3.65" ry="6.5" fill="#fff"/><ellipse cx="906" cy="1823.7" rx="3.65" ry="6.5" fill="#fff"/><ellipse cx="916" cy="1823.7" rx="3.65" ry="6.5" fill="#fff"/><ellipse cx="941.7" cy="1823.7" rx="3.65" ry="6.5" fill="#fff"/><ellipse cx="975.3" cy="1823.7" rx="3.65" ry="6.5" fill="#fff"/><ellipse cx="985.7" cy="1823.7" rx="3.65" ry="6.5" fill="#fff"/><ellipse cx="995.9" cy="1823.7" rx="3.65" ry="6.5" fill="#fff"/><ellipse cx="1006" cy="1823.7" rx="3.65" ry="6.5" fill="#fff"/><ellipse cx="1032.3" cy="1823.7" rx="3.65" ry="6.5" fill="#fff"/><ellipse cx="1044.4" cy="1823.7" rx="3.65" ry="6.5" fill="#231815"/><ellipse cx="1055.4" cy="1823.7" rx="3.65" ry="6.5" fill="#fff"/><ellipse cx="1068" cy="1823.7" rx="3.65" ry="6.5" fill="#fff"/><ellipse cx="1088" cy="1823.7" rx="3.65" ry="6.5" fill="#fff"/><ellipse cx="1103.3" cy="1823.7" rx="3.65" ry="6.5" fill="#fff"/><ellipse cx="1137.5" cy="1823.7" rx="3.65" ry="6.5" fill="#fff"/><ellipse cx="1164.2" cy="1823.7" rx="3.65" ry="6.5" fill="#fff"/><ellipse cx="1184.6" cy="1823.7" rx="3.65" ry="6.5" fill="#fff"/><ellipse cx="1195.4" cy="1823.7" rx="3.65" ry="6.5" fill="#fff"/></g>
<path d="M705.4,1845.2H1215.5" stroke="#262626" stroke-width="1.35"/>
<g stroke="#231815" stroke-width="1.5"><ellipse cx="726.5" cy="1845.2" rx="3.65" ry="6.5" fill="#fff"/><ellipse cx="738.3" cy="1845.2" rx="3.65" ry="6.5" fill="#fff"/><ellipse cx="778.7" cy="1845.2" rx="3.65" ry="6.5" fill="#fff"/><ellipse cx="788.7" cy="1845.2" rx="3.65" ry="6.5" fill="#fff"/><ellipse cx="801.1" cy="1845.2" rx="3.65" ry="6.5" fill="#fff"/><ellipse cx="811.3" cy="1845.2" rx="3.65" ry="6.5" fill="#fff"/><ellipse cx="862.6" cy="1845.2" rx="3.65" ry="6.5" fill="#fff"/><ellipse cx="879.2" cy="1845.2" rx="3.65" ry="6.5" fill="#fff"/><ellipse cx="896.2" cy="1845.2" rx="3.65" ry="6.5" fill="#fff"/><ellipse cx="906" cy="1845.2" rx="3.65" ry="6.5" fill="#fff"/><ellipse cx="916" cy="1845.2" rx="3.65" ry="6.5" fill="#fff"/><ellipse cx="941.7" cy="1845.2" rx="3.65" ry="6.5" fill="#fff"/><ellipse cx="975.3" cy="1845.2" rx="3.65" ry="6.5" fill="#fff"/><ellipse cx="985.7" cy="1845.2" rx="3.65" ry="6.5" fill="#fff"/><ellipse cx="995.9" cy="1845.2" rx="3.65" ry="6.5" fill="#fff"/><ellipse cx="1006" cy="1845.2" rx="3.65" ry="6.5" fill="#fff"/><ellipse cx="1032.3" cy="1845.2" rx="3.65" ry="6.5" fill="#fff"/><ellipse cx="1044.4" cy="1845.2" rx="3.65" ry="6.5" fill="#231815"/><ellipse cx="1055.4" cy="1845.2" rx="3.65" ry="6.5" fill="#fff"/><ellipse cx="1068" cy="1845.2" rx="3.65" ry="6.5" fill="#fff"/><ellipse cx="1088" cy="1845.2" rx="3.65" ry="6.5" fill="#fff"/><ellipse cx="1103.3" cy="1845.2" rx="3.65" ry="6.5" fill="#fff"/><ellipse cx="1137.5" cy="1845.2" rx="3.65" ry="6.5" fill="#fff"/><ellipse cx="1164.2" cy="1845.2" rx="3.65" ry="6.5" fill="#fff"/><ellipse cx="1184.6" cy="1845.2" rx="3.65" ry="6.5" fill="#fff"/><ellipse cx="1195.4" cy="1845.2" rx="3.65" ry="6.5" fill="#fff"/></g>
<path d="M705.4,1866.7H1215.5" stroke="#262626" stroke-width="1.35"/>
<g stroke="#231815" stroke-width="1.5"><ellipse cx="726.5" cy="1866.7" rx="3.65" ry="6.5" fill="#fff"/><ellipse cx="738.3" cy="1866.7" rx="3.65" ry="6.5" fill="#fff"/><ellipse cx="778.7" cy="1866.7" rx="3.65" ry="6.5" fill="#fff"/><ellipse cx="788.7" cy="1866.7" rx="3.65" ry="6.5" fill="#fff"/><ellipse cx="801.1" cy="1866.7" rx="3.65" ry="6.5" fill="#fff"/><ellipse cx="811.3" cy="1866.7" rx="3.65" ry="6.5" fill="#fff"/><ellipse cx="862.6" cy="1866.7" rx="3.65" ry="6.5" fill="#fff"/><ellipse cx="879.2" cy="1866.7" rx="3.65" ry="6.5" fill="#fff"/><ellipse cx="896.2" cy="1866.7" rx="3.65" ry="6.5" fill="#fff"/><ellipse cx="906" cy="1866.7" rx="3.65" ry="6.5" fill="#fff"/><ellipse cx="916" cy="1866.7" rx="3.65" ry="6.5" fill="#fff"/><ellipse cx="941.7" cy="1866.7" rx="3.65" ry="6.5" fill="#fff"/><ellipse cx="975.3" cy="1866.7" rx="3.65" ry="6.5" fill="#fff"/><ellipse cx="985.7" cy="1866.7" rx="3.65" ry="6.5" fill="#fff"/><ellipse cx="995.9" cy="1866.7" rx="3.65" ry="6.5" fill="#fff"/><ellipse cx="1006" cy="1866.7" rx="3.65" ry="6.5" fill="#fff"/><ellipse cx="1032.3" cy="1866.7" rx="3.65" ry="6.5" fill="#fff"/><ellipse cx="1044.4" cy="1866.7" rx="3.65" ry="6.5" fill="#231815"/><ellipse cx="1055.4" cy="1866.7" rx="3.65" ry="6.5" fill="#fff"/><ellipse cx="1068" cy="1866.7" rx="3.65" ry="6.5" fill="#fff"/><ellipse cx="1088" cy="1866.7" rx="3.65" ry="6.5" fill="#fff"/><ellipse cx="1103.3" cy="1866.7" rx="3.65" ry="6.5" fill="#fff"/><ellipse cx="1137.5" cy="1866.7" rx="3.65" ry="6.5" fill="#fff"/><ellipse cx="1164.2" cy="1866.7" rx="3.65" ry="6.5" fill="#fff"/><ellipse cx="1184.6" cy="1866.7" rx="3.65" ry="6.5" fill="#fff"/><ellipse cx="1195.4" cy="1866.7" rx="3.65" ry="6.5" fill="#fff"/></g>
<path d="M705.4,1888.2H1215.5" stroke="#262626" stroke-width="1.35"/>
<g stroke="#231815" stroke-width="1.5"><ellipse cx="726.5" cy="1888.2" rx="3.65" ry="6.5" fill="#fff"/><ellipse cx="738.3" cy="1888.2" rx="3.65" ry="6.5" fill="#fff"/><ellipse cx="778.7" cy="1888.2" rx="3.65" ry="6.5" fill="#fff"/><ellipse cx="788.7" cy="1888.2" rx="3.65" ry="6.5" fill="#fff"/><ellipse cx="801.1" cy="1888.2" rx="3.65" ry="6.5" fill="#fff"/><ellipse cx="811.3" cy="1888.2" rx="3.65" ry="6.5" fill="#fff"/><ellipse cx="862.6" cy="1888.2" rx="3.65" ry="6.5" fill="#fff"/><ellipse cx="879.2" cy="1888.2" rx="3.65" ry="6.5" fill="#fff"/><ellipse cx="896.2" cy="1888.2" rx="3.65" ry="6.5" fill="#fff"/><ellipse cx="906" cy="1888.2" rx="3.65" ry="6.5" fill="#fff"/><ellipse cx="916" cy="1888.2" rx="3.65" ry="6.5" fill="#fff"/><ellipse cx="941.7" cy="1888.2" rx="3.65" ry="6.5" fill="#fff"/><ellipse cx="975.3" cy="1888.2" rx="3.65" ry="6.5" fill="#231815"/><ellipse cx="985.7" cy="1888.2" rx="3.65" ry="6.5" fill="#fff"/><ellipse cx="995.9" cy="1888.2" rx="3.65" ry="6.5" fill="#fff"/><ellipse cx="1006" cy="1888.2" rx="3.65" ry="6.5" fill="#fff"/><ellipse cx="1032.3" cy="1888.2" rx="3.65" ry="6.5" fill="#fff"/><ellipse cx="1044.4" cy="1888.2" rx="3.65" ry="6.5" fill="#fff"/><ellipse cx="1055.4" cy="1888.2" rx="3.65" ry="6.5" fill="#fff"/><ellipse cx="1068" cy="1888.2" rx="3.65" ry="6.5" fill="#fff"/><ellipse cx="1088" cy="1888.2" rx="3.65" ry="6.5" fill="#fff"/><ellipse cx="1103.3" cy="1888.2" rx="3.65" ry="6.5" fill="#fff"/><ellipse cx="1137.5" cy="1888.2" rx="3.65" ry="6.5" fill="#fff"/><ellipse cx="1164.2" cy="1888.2" rx="3.65" ry="6.5" fill="#fff"/><ellipse cx="1184.6" cy="1888.2" rx="3.65" ry="6.5" fill="#fff"/><ellipse cx="1195.4" cy="1888.2" rx="3.65" ry="6.5" fill="#fff"/></g>
<text x="639" y="1808.3" font-size="24.2">Con</text>
<path d="M705.4,1919.3H1215.5" stroke="#262626" stroke-width="1.35"/>
<g stroke="#231815" stroke-width="1.5"><ellipse cx="726.5" cy="1919.3" rx="3.65" ry="6.5" fill="#fff"/><ellipse cx="738.3" cy="1919.3" rx="3.65" ry="6.5" fill="#fff"/><ellipse cx="778.7" cy="1919.3" rx="3.65" ry="6.5" fill="#fff"/><ellipse cx="788.7" cy="1919.3" rx="3.65" ry="6.5" fill="#fff"/><ellipse cx="801.1" cy="1919.3" rx="3.65" ry="6.5" fill="#fff"/><ellipse cx="811.3" cy="1919.3" rx="3.65" ry="6.5" fill="#fff"/><ellipse cx="862.6" cy="1919.3" rx="3.65" ry="6.5" fill="#fff"/><ellipse cx="879.2" cy="1919.3" rx="3.65" ry="6.5" fill="#fff"/><ellipse cx="896.2" cy="1919.3" rx="3.65" ry="6.5" fill="#fff"/><ellipse cx="906" cy="1919.3" rx="3.65" ry="6.5" fill="#fff"/><ellipse cx="916" cy="1919.3" rx="3.65" ry="6.5" fill="#fff"/><ellipse cx="941.7" cy="1919.3" rx="3.65" ry="6.5" fill="#fff"/><ellipse cx="975.3" cy="1919.3" rx="3.65" ry="6.5" fill="#fff"/><ellipse cx="985.7" cy="1919.3" rx="3.65" ry="6.5" fill="#fff"/><ellipse cx="995.9" cy="1919.3" rx="3.65" ry="6.5" fill="#fff"/><ellipse cx="1006" cy="1919.3" rx="3.65" ry="6.5" fill="#fff"/><ellipse cx="1032.3" cy="1919.3" rx="3.65" ry="6.5" fill="#fff"/><ellipse cx="1044.4" cy="1919.3" rx="3.65" ry="6.5" fill="#fff"/><ellipse cx="1055.4" cy="1919.3" rx="3.65" ry="6.5" fill="#fff"/><ellipse cx="1068" cy="1919.3" rx="3.65" ry="6.5" fill="#fff"/><ellipse cx="1088" cy="1919.3" rx="3.65" ry="6.5" fill="#fff"/><ellipse cx="1103.3" cy="1919.3" rx="3.65" ry="6.5" fill="#fff"/><ellipse cx="1137.5" cy="1919.3" rx="3.65" ry="6.5" fill="#fff"/><ellipse cx="1164.2" cy="1919.3" rx="3.65" ry="6.5" fill="#fff"/><ellipse cx="1184.6" cy="1919.3" rx="3.65" ry="6.5" fill="#fff"/><ellipse cx="1195.4" cy="1919.3" rx="3.65" ry="6.5" fill="#fff"/></g>
<path d="M705.4,1941.2H1215.5" stroke="#262626" stroke-width="1.35"/>
<g stroke="#231815" stroke-width="1.5"><ellipse cx="726.5" cy="1941.2" rx="3.65" ry="6.5" fill="#fff"/><ellipse cx="738.3" cy="1941.2" rx="3.65" ry="6.5" fill="#fff"/><ellipse cx="778.7" cy="1941.2" rx="3.65" ry="6.5" fill="#fff"/><ellipse cx="788.7" cy="1941.2" rx="3.65" ry="6.5" fill="#fff"/><ellipse cx="801.1" cy="1941.2" rx="3.65" ry="6.5" fill="#fff"/><ellipse cx="811.3" cy="1941.2" rx="3.65" ry="6.5" fill="#fff"/><ellipse cx="862.6" cy="1941.2" rx="3.65" ry="6.5" fill="#fff"/><ellipse cx="879.2" cy="1941.2" rx="3.65" ry="6.5" fill="#fff"/><ellipse cx="896.2" cy="1941.2" rx="3.65" ry="6.5" fill="#fff"/><ellipse cx="906" cy="1941.2" rx="3.65" ry="6.5" fill="#fff"/><ellipse cx="916" cy="1941.2" rx="3.65" ry="6.5" fill="#fff"/><ellipse cx="941.7" cy="1941.2" rx="3.65" ry="6.5" fill="#fff"/><ellipse cx="975.3" cy="1941.2" rx="3.65" ry="6.5" fill="#fff"/><ellipse cx="985.7" cy="1941.2" rx="3.65" ry="6.5" fill="#fff"/><ellipse cx="995.9" cy="1941.2" rx="3.65" ry="6.5" fill="#fff"/><ellipse cx="1006" cy="1941.2" rx="3.65" ry="6.5" fill="#fff"/><ellipse cx="1032.3" cy="1941.2" rx="3.65" ry="6.5" fill="#fff"/><ellipse cx="1044.4" cy="1941.2" rx="3.65" ry="6.5" fill="#fff"/><ellipse cx="1055.4" cy="1941.2" rx="3.65" ry="6.5" fill="#fff"/><ellipse cx="1068" cy="1941.2" rx="3.65" ry="6.5" fill="#fff"/><ellipse cx="1088" cy="1941.2" rx="3.65" ry="6.5" fill="#fff"/><ellipse cx="1103.3" cy="1941.2" rx="3.65" ry="6.5" fill="#fff"/><ellipse cx="1137.5" cy="1941.2" rx="3.65" ry="6.5" fill="#fff"/><ellipse cx="1164.2" cy="1941.2" rx="3.65" ry="6.5" fill="#fff"/><ellipse cx="1184.6" cy="1941.2" rx="3.65" ry="6.5" fill="#fff"/><ellipse cx="1195.4" cy="1941.2" rx="3.65" ry="6.5" fill="#fff"/></g>
<path d="M705.4,1963.1H1215.5" stroke="#262626" stroke-width="1.35"/>
<g stroke="#231815" stroke-width="1.5"><ellipse cx="726.5" cy="1963.1" rx="3.65" ry="6.5" fill="#fff"/><ellipse cx="738.3" cy="1963.1" rx="3.65" ry="6.5" fill="#fff"/><ellipse cx="778.7" cy="1963.1" rx="3.65" ry="6.5" fill="#fff"/><ellipse cx="788.7" cy="1963.1" rx="3.65" ry="6.5" fill="#fff"/><ellipse cx="801.1" cy="1963.1" rx="3.65" ry="6.5" fill="#fff"/><ellipse cx="811.3" cy="1963.1" rx="3.65" ry="6.5" fill="#fff"/><ellipse cx="862.6" cy="1963.1" rx="3.65" ry="6.5" fill="#fff"/><ellipse cx="879.2" cy="1963.1" rx="3.65" ry="6.5" fill="#fff"/><ellipse cx="896.2" cy="1963.1" rx="3.65" ry="6.5" fill="#fff"/><ellipse cx="906" cy="1963.1" rx="3.65" ry="6.5" fill="#fff"/><ellipse cx="916" cy="1963.1" rx="3.65" ry="6.5" fill="#fff"/><ellipse cx="941.7" cy="1963.1" rx="3.65" ry="6.5" fill="#fff"/><ellipse cx="975.3" cy="1963.1" rx="3.65" ry="6.5" fill="#fff"/><ellipse cx="985.7" cy="1963.1" rx="3.65" ry="6.5" fill="#fff"/><ellipse cx="995.9" cy="1963.1" rx="3.65" ry="6.5" fill="#fff"/><ellipse cx="1006" cy="1963.1" rx="3.65" ry="6.5" fill="#fff"/><ellipse cx="1032.3" cy="1963.1" rx="3.65" ry="6.5" fill="#fff"/><ellipse cx="1044.4" cy="1963.1" rx="3.65" ry="6.5" fill="#fff"/><ellipse cx="1055.4" cy="1963.1" rx="3.65" ry="6.5" fill="#fff"/><ellipse cx="1068" cy="1963.1" rx="3.65" ry="6.5" fill="#fff"/><ellipse cx="1088" cy="1963.1" rx="3.65" ry="6.5" fill="#fff"/><ellipse cx="1103.3" cy="1963.1" rx="3.65" ry="6.5" fill="#fff"/><ellipse cx="1137.5" cy="1963.1" rx="3.65" ry="6.5" fill="#fff"/><ellipse cx="1164.2" cy="1963.1" rx="3.65" ry="6.5" fill="#fff"/><ellipse cx="1184.6" cy="1963.1" rx="3.65" ry="6.5" fill="#fff"/><ellipse cx="1195.4" cy="1963.1" rx="3.65" ry="6.5" fill="#fff"/></g>
<path d="M705.4,1985H1215.5" stroke="#262626" stroke-width="1.35"/>
<g stroke="#231815" stroke-width="1.5"><ellipse cx="726.5" cy="1985" rx="3.65" ry="6.5" fill="#fff"/><ellipse cx="738.3" cy="1985" rx="3.65" ry="6.5" fill="#fff"/><ellipse cx="778.7" cy="1985" rx="3.65" ry="6.5" fill="#fff"/><ellipse cx="788.7" cy="1985" rx="3.65" ry="6.5" fill="#fff"/><ellipse cx="801.1" cy="1985" rx="3.65" ry="6.5" fill="#fff"/><ellipse cx="811.3" cy="1985" rx="3.65" ry="6.5" fill="#fff"/><ellipse cx="862.6" cy="1985" rx="3.65" ry="6.5" fill="#fff"/><ellipse cx="879.2" cy="1985" rx="3.65" ry="6.5" fill="#fff"/><ellipse cx="896.2" cy="1985" rx="3.65" ry="6.5" fill="#fff"/><ellipse cx="906" cy="1985" rx="3.65" ry="6.5" fill="#fff"/><ellipse cx="916" cy="1985" rx="3.65" ry="6.5" fill="#fff"/><ellipse cx="941.7" cy="1985" rx="3.65" ry="6.5" fill="#fff"/><ellipse cx="975.3" cy="1985" rx="3.65" ry="6.5" fill="#fff"/><ellipse cx="985.7" cy="1985" rx="3.65" ry="6.5" fill="#fff"/><ellipse cx="995.9" cy="1985" rx="3.65" ry="6.5" fill="#fff"/><ellipse cx="1006" cy="1985" rx="3.65" ry="6.5" fill="#fff"/><ellipse cx="1032.3" cy="1985" rx="3.65" ry="6.5" fill="#fff"/><ellipse cx="1044.4" cy="1985" rx="3.65" ry="6.5" fill="#fff"/><ellipse cx="1055.4" cy="1985" rx="3.65" ry="6.5" fill="#fff"/><ellipse cx="1068" cy="1985" rx="3.65" ry="6.5" fill="#fff"/><ellipse cx="1088" cy="1985" rx="3.65" ry="6.5" fill="#fff"/><ellipse cx="1103.3" cy="1985" rx="3.65" ry="6.5" fill="#fff"/><ellipse cx="1137.5" cy="1985" rx="3.65" ry="6.5" fill="#fff"/><ellipse cx="1164.2" cy="1985" rx="3.65" ry="6.5" fill="#fff"/><ellipse cx="1184.6" cy="1985" rx="3.65" ry="6.5" fill="#fff"/><ellipse cx="1195.4" cy="1985" rx="3.65" ry="6.5" fill="#fff"/></g>
<path d="M705.4,2006.9H1215.5" stroke="#262626" stroke-width="1.35"/>
<g stroke="#231815" stroke-width="1.5"><ellipse cx="726.5" cy="2006.9" rx="3.65" ry="6.5" fill="#fff"/><ellipse cx="738.3" cy="2006.9" rx="3.65" ry="6.5" fill="#fff"/><ellipse cx="778.7" cy="2006.9" rx="3.65" ry="6.5" fill="#fff"/><ellipse cx="788.7" cy="2006.9" rx="3.65" ry="6.5" fill="#fff"/><ellipse cx="801.1" cy="2006.9" rx="3.65" ry="6.5" fill="#fff"/><ellipse cx="811.3" cy="2006.9" rx="3.65" ry="6.5" fill="#fff"/><ellipse cx="862.6" cy="2006.9" rx="3.65" ry="6.5" fill="#fff"/><ellipse cx="879.2" cy="2006.9" rx="3.65" ry="6.5" fill="#fff"/><ellipse cx="896.2" cy="2006.9" rx="3.65" ry="6.5" fill="#fff"/><ellipse cx="906" cy="2006.9" rx="3.65" ry="6.5" fill="#fff"/><ellipse cx="916" cy="2006.9" rx="3.65" ry="6.5" fill="#fff"/><ellipse cx="941.7" cy="2006.9" rx="3.65" ry="6.5" fill="#fff"/><ellipse cx="975.3" cy="2006.9" rx="3.65" ry="6.5" fill="#fff"/><ellipse cx="985.7" cy="2006.9" rx="3.65" ry="6.5" fill="#fff"/><ellipse cx="995.9" cy="2006.9" rx="3.65" ry="6.5" fill="#fff"/><ellipse cx="1006" cy="2006.9" rx="3.65" ry="6.5" fill="#fff"/><ellipse cx="1032.3" cy="2006.9" rx="3.65" ry="6.5" fill="#fff"/><ellipse cx="1044.4" cy="2006.9" rx="3.65" ry="6.5" fill="#fff"/><ellipse cx="1055.4" cy="2006.9" rx="3.65" ry="6.5" fill="#fff"/><ellipse cx="1068" cy="2006.9" rx="3.65" ry="6.5" fill="#fff"/><ellipse cx="1088" cy="2006.9" rx="3.65" ry="6.5" fill="#fff"/><ellipse cx="1103.3" cy="2006.9" rx="3.65" ry="6.5" fill="#fff"/><ellipse cx="1137.5" cy="2006.9" rx="3.65" ry="6.5" fill="#231815"/><ellipse cx="1164.2" cy="2006.9" rx="3.65" ry="6.5" fill="#fff"/><ellipse cx="1184.6" cy="2006.9" rx="3.65" ry="6.5" fill="#fff"/><ellipse cx="1195.4" cy="2006.9" rx="3.65" ry="6.5" fill="#fff"/></g>
<path d="M705.4,2028.8H1215.5" stroke="#262626" stroke-width="1.35"/>
<g stroke="#231815" stroke-width="1.5"><ellipse cx="726.5" cy="2028.8" rx="3.65" ry="6.5" fill="#fff"/><ellipse cx="738.3" cy="2028.8" rx="3.65" ry="6.5" fill="#fff"/><ellipse cx="778.7" cy="2028.8" rx="3.65" ry="6.5" fill="#fff"/><ellipse cx="788.7" cy="2028.8" rx="3.65" ry="6.5" fill="#fff"/><ellipse cx="801.1" cy="2028.8" rx="3.65" ry="6.5" fill="#fff"/><ellipse cx="811.3" cy="2028.8" rx="3.65" ry="6.5" fill="#fff"/><ellipse cx="862.6" cy="2028.8" rx="3.65" ry="6.5" fill="#fff"/><ellipse cx="879.2" cy="2028.8" rx="3.65" ry="6.5" fill="#fff"/><ellipse cx="896.2" cy="2028.8" rx="3.65" ry="6.5" fill="#fff"/><ellipse cx="906" cy="2028.8" rx="3.65" ry="6.5" fill="#fff"/><ellipse cx="916" cy="2028.8" rx="3.65" ry="6.5" fill="#fff"/><ellipse cx="941.7" cy="2028.8" rx="3.65" ry="6.5" fill="#fff"/><ellipse cx="975.3" cy="2028.8" rx="3.65" ry="6.5" fill="#fff"/><ellipse cx="985.7" cy="2028.8" rx="3.65" ry="6.5" fill="#fff"/><ellipse cx="995.9" cy="2028.8" rx="3.65" ry="6.5" fill="#fff"/><ellipse cx="1006" cy="2028.8" rx="3.65" ry="6.5" fill="#fff"/><ellipse cx="1032.3" cy="2028.8" rx="3.65" ry="6.5" fill="#fff"/><ellipse cx="1044.4" cy="2028.8" rx="3.65" ry="6.5" fill="#fff"/><ellipse cx="1055.4" cy="2028.8" rx="3.65" ry="6.5" fill="#fff"/><ellipse cx="1068" cy="2028.8" rx="3.65" ry="6.5" fill="#fff"/><ellipse cx="1088" cy="2028.8" rx="3.65" ry="6.5" fill="#fff"/><ellipse cx="1103.3" cy="2028.8" rx="3.65" ry="6.5" fill="#fff"/><ellipse cx="1137.5" cy="2028.8" rx="3.65" ry="6.5" fill="#fff"/><ellipse cx="1164.2" cy="2028.8" rx="3.65" ry="6.5" fill="#231815"/><ellipse cx="1184.6" cy="2028.8" rx="3.65" ry="6.5" fill="#fff"/><ellipse cx="1195.4" cy="2028.8" rx="3.65" ry="6.5" fill="#231815"/></g>
<path d="M705.4,2050.7H1215.5" stroke="#262626" stroke-width="1.35"/>
<g stroke="#231815" stroke-width="1.5"><ellipse cx="726.5" cy="2050.7" rx="3.65" ry="6.5" fill="#fff"/><ellipse cx="738.3" cy="2050.7" rx="3.65" ry="6.5" fill="#fff"/><ellipse cx="778.7" cy="2050.7" rx="3.65" ry="6.5" fill="#fff"/><ellipse cx="788.7" cy="2050.7" rx="3.65" ry="6.5" fill="#fff"/><ellipse cx="801.1" cy="2050.7" rx="3.65" ry="6.5" fill="#fff"/><ellipse cx="811.3" cy="2050.7" rx="3.65" ry="6.5" fill="#fff"/><ellipse cx="862.6" cy="2050.7" rx="3.65" ry="6.5" fill="#fff"/><ellipse cx="879.2" cy="2050.7" rx="3.65" ry="6.5" fill="#fff"/><ellipse cx="896.2" cy="2050.7" rx="3.65" ry="6.5" fill="#fff"/><ellipse cx="906" cy="2050.7" rx="3.65" ry="6.5" fill="#fff"/><ellipse cx="916" cy="2050.7" rx="3.65" ry="6.5" fill="#fff"/><ellipse cx="941.7" cy="2050.7" rx="3.65" ry="6.5" fill="#fff"/><ellipse cx="975.3" cy="2050.7" rx="3.65" ry="6.5" fill="#fff"/><ellipse cx="985.7" cy="2050.7" rx="3.65" ry="6.5" fill="#fff"/><ellipse cx="995.9" cy="2050.7" rx="3.65" ry="6.5" fill="#fff"/><ellipse cx="1006" cy="2050.7" rx="3.65" ry="6.5" fill="#fff"/><ellipse cx="1032.3" cy="2050.7" rx="3.65" ry="6.5" fill="#fff"/><ellipse cx="1044.4" cy="2050.7" rx="3.65" ry="6.5" fill="#fff"/><ellipse cx="1055.4" cy="2050.7" rx="3.65" ry="6.5" fill="#fff"/><ellipse cx="1068" cy="2050.7" rx="3.65" ry="6.5" fill="#231815"/><ellipse cx="1088" cy="2050.7" rx="3.65" ry="6.5" fill="#fff"/><ellipse cx="1103.3" cy="2050.7" rx="3.65" ry="6.5" fill="#fff"/><ellipse cx="1137.5" cy="2050.7" rx="3.65" ry="6.5" fill="#fff"/><ellipse cx="1164.2" cy="2050.7" rx="3.65" ry="6.5" fill="#fff"/><ellipse cx="1184.6" cy="2050.7" rx="3.65" ry="6.5" fill="#231815"/><ellipse cx="1195.4" cy="2050.7" rx="3.65" ry="6.5" fill="#fff"/></g>
<path d="M705.4,2072.6H1215.5" stroke="#262626" stroke-width="1.35"/>
<g stroke="#231815" stroke-width="1.5"><ellipse cx="726.5" cy="2072.6" rx="3.65" ry="6.5" fill="#fff"/><ellipse cx="738.3" cy="2072.6" rx="3.65" ry="6.5" fill="#fff"/><ellipse cx="778.7" cy="2072.6" rx="3.65" ry="6.5" fill="#fff"/><ellipse cx="788.7" cy="2072.6" rx="3.65" ry="6.5" fill="#fff"/><ellipse cx="801.1" cy="2072.6" rx="3.65" ry="6.5" fill="#fff"/><ellipse cx="811.3" cy="2072.6" rx="3.65" ry="6.5" fill="#fff"/><ellipse cx="862.6" cy="2072.6" rx="3.65" ry="6.5" fill="#231815"/><ellipse cx="879.2" cy="2072.6" rx="3.65" ry="6.5" fill="#fff"/><ellipse cx="896.2" cy="2072.6" rx="3.65" ry="6.5" fill="#fff"/><ellipse cx="906" cy="2072.6" rx="3.65" ry="6.5" fill="#fff"/><ellipse cx="916" cy="2072.6" rx="3.65" ry="6.5" fill="#231815"/><ellipse cx="941.7" cy="2072.6" rx="3.65" ry="6.5" fill="#fff"/><ellipse cx="975.3" cy="2072.6" rx="3.65" ry="6.5" fill="#fff"/><ellipse cx="985.7" cy="2072.6" rx="3.65" ry="6.5" fill="#fff"/><ellipse cx="995.9" cy="2072.6" rx="3.65" ry="6.5" fill="#fff"/><ellipse cx="1006" cy="2072.6" rx="3.65" ry="6.5" fill="#fff"/><ellipse cx="1032.3" cy="2072.6" rx="3.65" ry="6.5" fill="#fff"/><ellipse cx="1044.4" cy="2072.6" rx="3.65" ry="6.5" fill="#fff"/><ellipse cx="1055.4" cy="2072.6" rx="3.65" ry="6.5" fill="#fff"/><ellipse cx="1068" cy="2072.6" rx="3.65" ry="6.5" fill="#fff"/><ellipse cx="1088" cy="2072.6" rx="3.65" ry="6.5" fill="#fff"/><ellipse cx="1103.3" cy="2072.6" rx="3.65" ry="6.5" fill="#fff"/><ellipse cx="1137.5" cy="2072.6" rx="3.65" ry="6.5" fill="#fff"/><ellipse cx="1164.2" cy="2072.6" rx="3.65" ry="6.5" fill="#fff"/><ellipse cx="1184.6" cy="2072.6" rx="3.65" ry="6.5" fill="#fff"/><ellipse cx="1195.4" cy="2072.6" rx="3.65" ry="6.5" fill="#fff"/></g>
<path d="M705.4,2094.5H1215.5" stroke="#262626" stroke-width="1.35"/>
<g stroke="#231815" stroke-width="1.5"><ellipse cx="726.5" cy="2094.5" rx="3.65" ry="6.5" fill="#fff"/><ellipse cx="738.3" cy="2094.5" rx="3.65" ry="6.5" fill="#fff"/><ellipse cx="778.7" cy="2094.5" rx="3.65" ry="6.5" fill="#231815"/><ellipse cx="788.7" cy="2094.5" rx="3.65" ry="6.5" fill="#fff"/><ellipse cx="801.1" cy="2094.5" rx="3.65" ry="6.5" fill="#fff"/><ellipse cx="811.3" cy="2094.5" rx="3.65" ry="6.5" fill="#fff"/><ellipse cx="862.6" cy="2094.5" rx="3.65" ry="6.5" fill="#fff"/><ellipse cx="879.2" cy="2094.5" rx="3.65" ry="6.5" fill="#fff"/><ellipse cx="896.2" cy="2094.5" rx="3.65" ry="6.5" fill="#fff"/><ellipse cx="906" cy="2094.5" rx="3.65" ry="6.5" fill="#fff"/><ellipse cx="916" cy="2094.5" rx="3.65" ry="6.5" fill="#fff"/><ellipse cx="941.7" cy="2094.5" rx="3.65" ry="6.5" fill="#fff"/><ellipse cx="975.3" cy="2094.5" rx="3.65" ry="6.5" fill="#fff"/><ellipse cx="985.7" cy="2094.5" rx="3.65" ry="6.5" fill="#fff"/><ellipse cx="995.9" cy="2094.5" rx="3.65" ry="6.5" fill="#fff"/><ellipse cx="1006" cy="2094.5" rx="3.65" ry="6.5" fill="#fff"/><ellipse cx="1032.3" cy="2094.5" rx="3.65" ry="6.5" fill="#fff"/><ellipse cx="1044.4" cy="2094.5" rx="3.65" ry="6.5" fill="#fff"/><ellipse cx="1055.4" cy="2094.5" rx="3.65" ry="6.5" fill="#fff"/><ellipse cx="1068" cy="2094.5" rx="3.65" ry="6.5" fill="#fff"/><ellipse cx="1088" cy="2094.5" rx="3.65" ry="6.5" fill="#fff"/><ellipse cx="1103.3" cy="2094.5" rx="3.65" ry="6.5" fill="#fff"/><ellipse cx="1137.5" cy="2094.5" rx="3.65" ry="6.5" fill="#231815"/><ellipse cx="1164.2" cy="2094.5" rx="3.65" ry="6.5" fill="#fff"/><ellipse cx="1184.6" cy="2094.5" rx="3.65" ry="6.5" fill="#fff"/><ellipse cx="1195.4" cy="2094.5" rx="3.65" ry="6.5" fill="#fff"/></g>
<path d="M705.4,2116.4H1215.5" stroke="#262626" stroke-width="1.35"/>
<g stroke="#231815" stroke-width="1.5"><ellipse cx="726.5" cy="2116.4" rx="3.65" ry="6.5" fill="#fff"/><ellipse cx="738.3" cy="2116.4" rx="3.65" ry="6.5" fill="#fff"/><ellipse cx="778.7" cy="2116.4" rx="3.65" ry="6.5" fill="#fff"/><ellipse cx="788.7" cy="2116.4" rx="3.65" ry="6.5" fill="#fff"/><ellipse cx="801.1" cy="2116.4" rx="3.65" ry="6.5" fill="#fff"/><ellipse cx="811.3" cy="2116.4" rx="3.65" ry="6.5" fill="#fff"/><ellipse cx="862.6" cy="2116.4" rx="3.65" ry="6.5" fill="#231815"/><ellipse cx="879.2" cy="2116.4" rx="3.65" ry="6.5" fill="#fff"/><ellipse cx="896.2" cy="2116.4" rx="3.65" ry="6.5" fill="#fff"/><ellipse cx="906" cy="2116.4" rx="3.65" ry="6.5" fill="#fff"/><ellipse cx="916" cy="2116.4" rx="3.65" ry="6.5" fill="#231815"/><ellipse cx="941.7" cy="2116.4" rx="3.65" ry="6.5" fill="#231815"/><ellipse cx="975.3" cy="2116.4" rx="3.65" ry="6.5" fill="#fff"/><ellipse cx="985.7" cy="2116.4" rx="3.65" ry="6.5" fill="#fff"/><ellipse cx="995.9" cy="2116.4" rx="3.65" ry="6.5" fill="#fff"/><ellipse cx="1006" cy="2116.4" rx="3.65" ry="6.5" fill="#fff"/><ellipse cx="1032.3" cy="2116.4" rx="3.65" ry="6.5" fill="#fff"/><ellipse cx="1044.4" cy="2116.4" rx="3.65" ry="6.5" fill="#fff"/><ellipse cx="1055.4" cy="2116.4" rx="3.65" ry="6.5" fill="#fff"/><ellipse cx="1068" cy="2116.4" rx="3.65" ry="6.5" fill="#fff"/><ellipse cx="1088" cy="2116.4" rx="3.65" ry="6.5" fill="#fff"/><ellipse cx="1103.3" cy="2116.4" rx="3.65" ry="6.5" fill="#fff"/><ellipse cx="1137.5" cy="2116.4" rx="3.65" ry="6.5" fill="#fff"/><ellipse cx="1164.2" cy="2116.4" rx="3.65" ry="6.5" fill="#fff"/><ellipse cx="1184.6" cy="2116.4" rx="3.65" ry="6.5" fill="#fff"/><ellipse cx="1195.4" cy="2116.4" rx="3.65" ry="6.5" fill="#fff"/></g>
<text x="639" y="2014.6" font-size="24.2">HFD</text>
<path d="M1395.1,1732.5V2076.1 M1381.1,2063.3H1890.3" stroke="#000" stroke-width="3" fill="none"/>
<path d="M1381.1,1980.9H1395.1 M1381.1,1898.5H1395.1 M1381.1,1816.1H1395.1 M1381.1,1733.7H1395.1 M1414.1,2063.3V2070.1 M1433.1,2063.3V2070.1 M1452.1,2063.3V2070.1 M1471.1,2063.3V2070.1 M1490.1,2063.3V2070.1 M1509.1,2063.3V2070.1 M1528.1,2063.3V2070.1 M1547.1,2063.3V2070.1 M1566.1,2063.3V2070.1 M1585.1,2063.3V2076.1 M1604.1,2063.3V2070.1 M1623.1,2063.3V2070.1 M1642.1,2063.3V2070.1 M1661.1,2063.3V2070.1 M1680.1,2063.3V2070.1 M1699.1,2063.3V2070.1 M1718.1,2063.3V2070.1 M1737.1,2063.3V2070.1 M1756.1,2063.3V2070.1 M1775.1,2063.3V2076.1 M1794.1,2063.3V2070.1 M1813.1,2063.3V2070.1 M1832.1,2063.3V2070.1 M1851.1,2063.3V2070.1 M1870.1,2063.3V2070.1 M1889.1,2063.3V2070.1" stroke="#000" stroke-width="2.5" fill="none"/>
<path d="M1414.1,2063.3 L1433.1,2063.3 L1452.1,1980.9 L1471.1,2063.3 L1490.1,2063.3 L1509.1,2063.3 L1528.1,1898.5 L1547.1,2063.3 L1566.1,2063.3 L1585.1,2063.3 L1604.1,1898.5 L1623.1,1980.9 L1642.1,2063.3 L1661.1,2063.3 L1680.1,2063.3 L1699.1,2063.3 L1718.1,2063.3 L1737.1,2063.3 L1756.1,2063.3 L1775.1,1980.9 L1794.1,2063.3 L1813.1,2063.3 L1832.1,1898.5 L1851.1,1980.9 L1870.1,1980.9 L1889.1,1980.9" stroke="#F21414" stroke-width="2.3" fill="none" stroke-linejoin="miter"/>
<g fill="#F21414"><rect x="1409" y="2058.2" width="10.2" height="10.2"/><rect x="1428" y="2058.2" width="10.2" height="10.2"/><rect x="1447" y="1975.8" width="10.2" height="10.2"/><rect x="1466" y="2058.2" width="10.2" height="10.2"/><rect x="1485" y="2058.2" width="10.2" height="10.2"/><rect x="1504" y="2058.2" width="10.2" height="10.2"/><rect x="1523" y="1893.4" width="10.2" height="10.2"/><rect x="1542" y="2058.2" width="10.2" height="10.2"/><rect x="1561" y="2058.2" width="10.2" height="10.2"/><rect x="1580" y="2058.2" width="10.2" height="10.2"/><rect x="1599" y="1893.4" width="10.2" height="10.2"/><rect x="1618" y="1975.8" width="10.2" height="10.2"/><rect x="1637" y="2058.2" width="10.2" height="10.2"/><rect x="1656" y="2058.2" width="10.2" height="10.2"/><rect x="1675" y="2058.2" width="10.2" height="10.2"/><rect x="1694" y="2058.2" width="10.2" height="10.2"/><rect x="1713" y="2058.2" width="10.2" height="10.2"/><rect x="1732" y="2058.2" width="10.2" height="10.2"/><rect x="1751" y="2058.2" width="10.2" height="10.2"/><rect x="1770" y="1975.8" width="10.2" height="10.2"/><rect x="1789" y="2058.2" width="10.2" height="10.2"/><rect x="1808" y="2058.2" width="10.2" height="10.2"/><rect x="1827" y="1893.4" width="10.2" height="10.2"/><rect x="1846" y="1975.8" width="10.2" height="10.2"/><rect x="1865" y="1975.8" width="10.2" height="10.2"/><rect x="1884" y="1975.8" width="10.2" height="10.2"/></g>
<path d="M1414.1,2063.3 L1433.1,2063.3 L1452.1,2063.3 L1471.1,2063.3 L1490.1,2063.3 L1509.1,2063.3 L1528.1,2063.3 L1547.1,2063.3 L1566.1,2063.3 L1585.1,2063.3 L1604.1,2063.3 L1623.1,2063.3 L1642.1,1980.9 L1661.1,2063.3 L1680.1,2063.3 L1699.1,2063.3 L1718.1,2063.3 L1737.1,1816.1 L1756.1,2063.3 L1775.1,2063.3 L1794.1,2063.3 L1813.1,2063.3 L1832.1,2063.3 L1851.1,2063.3 L1870.1,2063.3 L1889.1,1980.9" stroke="#0A0AAC" stroke-width="2.8" fill="none" stroke-linejoin="miter"/>
<g fill="#0A0AAC"><circle cx="1414.1" cy="2063.3" r="5.0"/><circle cx="1433.1" cy="2063.3" r="5.0"/><circle cx="1452.1" cy="2063.3" r="5.0"/><circle cx="1471.1" cy="2063.3" r="5.0"/><circle cx="1490.1" cy="2063.3" r="5.0"/><circle cx="1509.1" cy="2063.3" r="5.0"/><circle cx="1528.1" cy="2063.3" r="5.0"/><circle cx="1547.1" cy="2063.3" r="5.0"/><circle cx="1566.1" cy="2063.3" r="5.0"/><circle cx="1585.1" cy="2063.3" r="5.0"/><circle cx="1604.1" cy="2063.3" r="5.0"/><circle cx="1623.1" cy="2063.3" r="5.0"/><circle cx="1642.1" cy="1980.9" r="5.0"/><circle cx="1661.1" cy="2063.3" r="5.0"/><circle cx="1680.1" cy="2063.3" r="5.0"/><circle cx="1699.1" cy="2063.3" r="5.0"/><circle cx="1718.1" cy="2063.3" r="5.0"/><circle cx="1737.1" cy="1816.1" r="5.0"/><circle cx="1756.1" cy="2063.3" r="5.0"/><circle cx="1775.1" cy="2063.3" r="5.0"/><circle cx="1794.1" cy="2063.3" r="5.0"/><circle cx="1813.1" cy="2063.3" r="5.0"/><circle cx="1832.1" cy="2063.3" r="5.0"/><circle cx="1851.1" cy="2063.3" r="5.0"/><circle cx="1870.1" cy="2063.3" r="5.0"/><circle cx="1889.1" cy="1980.9" r="5.0"/></g>
<text x="1378.4" y="2072.9" font-size="22.3" text-anchor="end">0.0</text>
<text x="1378.4" y="1990.5" font-size="22.3" text-anchor="end">0.1</text>
<text x="1378.4" y="1908.1" font-size="22.3" text-anchor="end">0.2</text>
<text x="1378.4" y="1825.7" font-size="22.3" text-anchor="end">0.3</text>
<text x="1378.4" y="1743.3" font-size="22.3" text-anchor="end">0.4</text>
<text x="1394.8" y="2097.6" font-size="22.3" text-anchor="middle">0</text>
<text x="1584.8" y="2097.6" font-size="22.3" text-anchor="middle">10</text>
<text x="1774.8" y="2097.6" font-size="22.3" text-anchor="middle">20</text>
<text x="1630" y="2126" font-size="24.6" text-anchor="middle">CpG Position</text>
<text transform="translate(1312.9,1898.5) rotate(-90)" font-size="28.7" text-anchor="middle">Methylation rate (%)</text>
<text x="1506" y="1769.5" font-size="23.3">Total Me-CpG rate:</text>
<path d="M1721.2,1744.5H1749.7" stroke="#0A0AB0" stroke-width="2.6"/>
<circle cx="1735.45" cy="1744.5" r="4.0" fill="#0A0AB0"/>
<path d="M1721.2,1782.4H1749.7" stroke="#F21414" stroke-width="2.6"/>
<rect x="1731.45" y="1778.4" width="8" height="8" fill="#F21414"/>
<text x="1765.5" y="1753.1" font-size="23.3">Con (1.9%)</text>
<text x="1765.5" y="1790.6" font-size="23.3">HFD (4.6%)</text>
</svg>
</body></html>
